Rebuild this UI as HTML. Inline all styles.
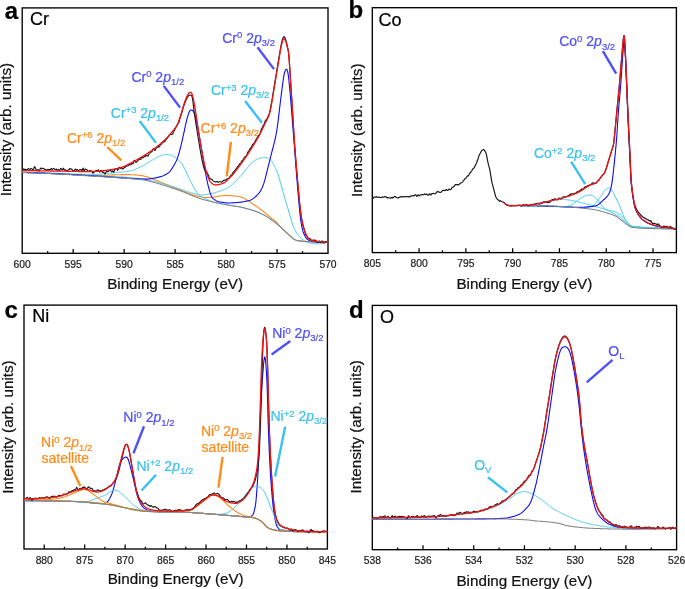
<!DOCTYPE html>
<html><head><meta charset="utf-8"><style>
html,body{margin:0;padding:0;background:#fff;}
svg{display:block;will-change:transform;font-family:"Liberation Sans", sans-serif;}
</style></head><body>
<svg width="685" height="589" viewBox="0 0 685 589" font-family='"Liberation Sans", sans-serif'>
<rect width="685" height="589" fill="#fff"/>
<rect x="22.2" y="7.9" width="305.80" height="245.40" fill="none" stroke="#000" stroke-width="1.35"/>
<text x="22.20" y="267.9" font-size="10.3" text-anchor="middle" fill="#222" stroke="#222" stroke-width="0.22">600</text>
<text x="73.17" y="267.9" font-size="10.3" text-anchor="middle" fill="#222" stroke="#222" stroke-width="0.22">595</text>
<text x="124.13" y="267.9" font-size="10.3" text-anchor="middle" fill="#222" stroke="#222" stroke-width="0.22">590</text>
<text x="175.10" y="267.9" font-size="10.3" text-anchor="middle" fill="#222" stroke="#222" stroke-width="0.22">585</text>
<text x="226.07" y="267.9" font-size="10.3" text-anchor="middle" fill="#222" stroke="#222" stroke-width="0.22">580</text>
<text x="277.03" y="267.9" font-size="10.3" text-anchor="middle" fill="#222" stroke="#222" stroke-width="0.22">575</text>
<text x="328.00" y="267.9" font-size="10.3" text-anchor="middle" fill="#222" stroke="#222" stroke-width="0.22">570</text>
<path d="M47.68 253.30v-2.3 M73.17 253.30v-4.4 M98.65 253.30v-2.3 M124.13 253.30v-4.4 M149.62 253.30v-2.3 M175.10 253.30v-4.4 M200.58 253.30v-2.3 M226.07 253.30v-4.4 M251.55 253.30v-2.3 M277.03 253.30v-4.4 M302.52 253.30v-2.3" stroke="#000" stroke-width="1.25" fill="none"/>
<text x="175.10" y="288.8" font-size="15.2" text-anchor="middle" fill="#111" stroke="#111" stroke-width="0.22">Binding Energy (eV)</text>
<rect x="372.3" y="7.7" width="304.10" height="244.90" fill="none" stroke="#000" stroke-width="1.35"/>
<text x="372.30" y="266.6" font-size="10.3" text-anchor="middle" fill="#222" stroke="#222" stroke-width="0.22">805</text>
<text x="419.08" y="266.6" font-size="10.3" text-anchor="middle" fill="#222" stroke="#222" stroke-width="0.22">800</text>
<text x="465.87" y="266.6" font-size="10.3" text-anchor="middle" fill="#222" stroke="#222" stroke-width="0.22">795</text>
<text x="512.65" y="266.6" font-size="10.3" text-anchor="middle" fill="#222" stroke="#222" stroke-width="0.22">790</text>
<text x="559.44" y="266.6" font-size="10.3" text-anchor="middle" fill="#222" stroke="#222" stroke-width="0.22">785</text>
<text x="606.22" y="266.6" font-size="10.3" text-anchor="middle" fill="#222" stroke="#222" stroke-width="0.22">780</text>
<text x="653.01" y="266.6" font-size="10.3" text-anchor="middle" fill="#222" stroke="#222" stroke-width="0.22">775</text>
<path d="M395.69 252.60v-2.3 M419.08 252.60v-4.4 M442.48 252.60v-2.3 M465.87 252.60v-4.4 M489.26 252.60v-2.3 M512.65 252.60v-4.4 M536.05 252.60v-2.3 M559.44 252.60v-4.4 M582.83 252.60v-2.3 M606.22 252.60v-4.4 M629.62 252.60v-2.3 M653.01 252.60v-4.4" stroke="#000" stroke-width="1.25" fill="none"/>
<text x="524.35" y="288.6" font-size="15.2" text-anchor="middle" fill="#111" stroke="#111" stroke-width="0.22">Binding Energy (eV)</text>
<rect x="24.0" y="305.1" width="303.40" height="243.90" fill="none" stroke="#000" stroke-width="1.35"/>
<text x="44.23" y="563.5" font-size="10.3" text-anchor="middle" fill="#222" stroke="#222" stroke-width="0.22">880</text>
<text x="84.68" y="563.5" font-size="10.3" text-anchor="middle" fill="#222" stroke="#222" stroke-width="0.22">875</text>
<text x="125.13" y="563.5" font-size="10.3" text-anchor="middle" fill="#222" stroke="#222" stroke-width="0.22">870</text>
<text x="165.59" y="563.5" font-size="10.3" text-anchor="middle" fill="#222" stroke="#222" stroke-width="0.22">865</text>
<text x="206.04" y="563.5" font-size="10.3" text-anchor="middle" fill="#222" stroke="#222" stroke-width="0.22">860</text>
<text x="246.49" y="563.5" font-size="10.3" text-anchor="middle" fill="#222" stroke="#222" stroke-width="0.22">855</text>
<text x="286.95" y="563.5" font-size="10.3" text-anchor="middle" fill="#222" stroke="#222" stroke-width="0.22">850</text>
<text x="327.40" y="563.5" font-size="10.3" text-anchor="middle" fill="#222" stroke="#222" stroke-width="0.22">845</text>
<path d="M44.23 549.00v-4.4 M64.45 549.00v-2.3 M84.68 549.00v-4.4 M104.91 549.00v-2.3 M125.13 549.00v-4.4 M145.36 549.00v-2.3 M165.59 549.00v-4.4 M185.81 549.00v-2.3 M206.04 549.00v-4.4 M226.27 549.00v-2.3 M246.49 549.00v-4.4 M266.72 549.00v-2.3 M286.95 549.00v-4.4 M307.17 549.00v-2.3" stroke="#000" stroke-width="1.25" fill="none"/>
<text x="175.70" y="584.2" font-size="15.2" text-anchor="middle" fill="#111" stroke="#111" stroke-width="0.22">Binding Energy (eV)</text>
<rect x="372.3" y="305.4" width="304.30" height="244.30" fill="none" stroke="#000" stroke-width="1.35"/>
<text x="372.30" y="564.4" font-size="10.3" text-anchor="middle" fill="#222" stroke="#222" stroke-width="0.22">538</text>
<text x="423.02" y="564.4" font-size="10.3" text-anchor="middle" fill="#222" stroke="#222" stroke-width="0.22">536</text>
<text x="473.73" y="564.4" font-size="10.3" text-anchor="middle" fill="#222" stroke="#222" stroke-width="0.22">534</text>
<text x="524.45" y="564.4" font-size="10.3" text-anchor="middle" fill="#222" stroke="#222" stroke-width="0.22">532</text>
<text x="575.17" y="564.4" font-size="10.3" text-anchor="middle" fill="#222" stroke="#222" stroke-width="0.22">530</text>
<text x="625.88" y="564.4" font-size="10.3" text-anchor="middle" fill="#222" stroke="#222" stroke-width="0.22">528</text>
<text x="676.60" y="564.4" font-size="10.3" text-anchor="middle" fill="#222" stroke="#222" stroke-width="0.22">526</text>
<path d="M397.66 549.70v-2.3 M423.02 549.70v-4.4 M448.38 549.70v-2.3 M473.73 549.70v-4.4 M499.09 549.70v-2.3 M524.45 549.70v-4.4 M549.81 549.70v-2.3 M575.17 549.70v-4.4 M600.53 549.70v-2.3 M625.88 549.70v-4.4 M651.24 549.70v-2.3" stroke="#000" stroke-width="1.25" fill="none"/>
<text x="524.45" y="585.7" font-size="15.2" text-anchor="middle" fill="#111" stroke="#111" stroke-width="0.22">Binding Energy (eV)</text>
<text transform="translate(10.9,129.6) rotate(-90)" x="0" y="0" font-size="15.2" text-anchor="middle" fill="#111" stroke="#111" stroke-width="0.22">Intensity (arb. units)</text>
<text transform="translate(361.6,130.2) rotate(-90)" x="0" y="0" font-size="15.2" text-anchor="middle" fill="#111" stroke="#111" stroke-width="0.22">Intensity (arb. units)</text>
<text transform="translate(12.8,427.0) rotate(-90)" x="0" y="0" font-size="15.2" text-anchor="middle" fill="#111" stroke="#111" stroke-width="0.22">Intensity (arb. units)</text>
<text transform="translate(360.9,426.9) rotate(-90)" x="0" y="0" font-size="15.2" text-anchor="middle" fill="#111" stroke="#111" stroke-width="0.22">Intensity (arb. units)</text>
<text x="4.8" y="18.5" font-size="24" font-weight="bold" fill="#000" stroke="#000" stroke-width="0.22">a</text>
<text x="348.6" y="18.3" font-size="24" font-weight="bold" fill="#000" stroke="#000" stroke-width="0.22">b</text>
<text x="4.6" y="317.8" font-size="24" font-weight="bold" fill="#000" stroke="#000" stroke-width="0.22">c</text>
<text x="349.0" y="318.2" font-size="24" font-weight="bold" fill="#000" stroke="#000" stroke-width="0.22">d</text>
<text x="30.0" y="24.8" font-size="18" fill="#000" stroke="#000" stroke-width="0.22">Cr</text>
<text x="378.4" y="26.4" font-size="18" fill="#000" stroke="#000" stroke-width="0.22">Co</text>
<text x="32.3" y="321.6" font-size="18" fill="#000" stroke="#000" stroke-width="0.22">Ni</text>
<text x="379.9" y="322.6" font-size="18" fill="#000" stroke="#000" stroke-width="0.22">O</text>
<text x="222.2" y="42.6" font-size="14" fill="#5050f8" stroke="#5050f8" stroke-width="0.22">Cr<tspan font-size="9.5" dy="-4.5">0</tspan><tspan dy="4.5"> 2</tspan><tspan font-style="italic">p</tspan><tspan font-size="9.5" dy="3.4">3/2</tspan></text>
<text x="131.4" y="81.8" font-size="14" fill="#5050f8" stroke="#5050f8" stroke-width="0.22">Cr<tspan font-size="9.5" dy="-4.5">0</tspan><tspan dy="4.5"> 2</tspan><tspan font-style="italic">p</tspan><tspan font-size="9.5" dy="3.4">1/2</tspan></text>
<text x="211.0" y="95.0" font-size="14" fill="#3cc0ee" stroke="#3cc0ee" stroke-width="0.22">Cr<tspan font-size="9.5" dy="-4.5">+3</tspan><tspan dy="4.5"> 2</tspan><tspan font-style="italic">p</tspan><tspan font-size="9.5" dy="3.4">3/2</tspan></text>
<text x="110.8" y="117.9" font-size="14" fill="#3cc0ee" stroke="#3cc0ee" stroke-width="0.22">Cr<tspan font-size="9.5" dy="-4.5">+3</tspan><tspan dy="4.5"> 2</tspan><tspan font-style="italic">p</tspan><tspan font-size="9.5" dy="3.4">1/2</tspan></text>
<text x="200.6" y="133.0" font-size="14" fill="#ff8c1a" stroke="#ff8c1a" stroke-width="0.22">Cr<tspan font-size="9.5" dy="-4.5">+6</tspan><tspan dy="4.5"> 2</tspan><tspan font-style="italic">p</tspan><tspan font-size="9.5" dy="3.4">3/2</tspan></text>
<text x="66.9" y="142.9" font-size="14" fill="#ff8c1a" stroke="#ff8c1a" stroke-width="0.22">Cr<tspan font-size="9.5" dy="-4.5">+6</tspan><tspan dy="4.5"> 2</tspan><tspan font-style="italic">p</tspan><tspan font-size="9.5" dy="3.4">1/2</tspan></text>
<text x="559.2" y="46.4" font-size="14" fill="#5050f8" stroke="#5050f8" stroke-width="0.22">Co<tspan font-size="9.5" dy="-4.5">0</tspan><tspan dy="4.5"> 2</tspan><tspan font-style="italic">p</tspan><tspan font-size="9.5" dy="3.4">3/2</tspan></text>
<text x="533.9" y="158.0" font-size="14" fill="#3cc0ee" stroke="#3cc0ee" stroke-width="0.22">Co<tspan font-size="9.5" dy="-4.5">+2</tspan><tspan dy="4.5"> 2</tspan><tspan font-style="italic">p</tspan><tspan font-size="9.5" dy="3.4">3/2</tspan></text>
<text x="272.2" y="338.0" font-size="14" fill="#5050f8" stroke="#5050f8" stroke-width="0.22">Ni<tspan font-size="9.5" dy="-4.5">0</tspan><tspan dy="4.5"> 2</tspan><tspan font-style="italic">p</tspan><tspan font-size="9.5" dy="3.4">3/2</tspan></text>
<text x="270.5" y="421.0" font-size="14" fill="#3cc0ee" stroke="#3cc0ee" stroke-width="0.22">Ni<tspan font-size="9.5" dy="-4.5">+2</tspan><tspan dy="4.5"> 2</tspan><tspan font-style="italic">p</tspan><tspan font-size="9.5" dy="3.4">3/2</tspan></text>
<text x="123.3" y="422.2" font-size="14" fill="#5050f8" stroke="#5050f8" stroke-width="0.22">Ni<tspan font-size="9.5" dy="-4.5">0</tspan><tspan dy="4.5"> 2</tspan><tspan font-style="italic">p</tspan><tspan font-size="9.5" dy="3.4">1/2</tspan></text>
<text x="136.4" y="470.5" font-size="14" fill="#3cc0ee" stroke="#3cc0ee" stroke-width="0.22">Ni<tspan font-size="9.5" dy="-4.5">+2</tspan><tspan dy="4.5"> 2</tspan><tspan font-style="italic">p</tspan><tspan font-size="9.5" dy="3.4">1/2</tspan></text>
<text x="41.1" y="447.1" font-size="14" fill="#ff8c1a" stroke="#ff8c1a" stroke-width="0.22">Ni<tspan font-size="9.5" dy="-4.5">0</tspan><tspan dy="4.5"> 2</tspan><tspan font-style="italic">p</tspan><tspan font-size="9.5" dy="3.4">1/2</tspan></text>
<text x="200.9" y="435.7" font-size="14" fill="#ff8c1a" stroke="#ff8c1a" stroke-width="0.22">Ni<tspan font-size="9.5" dy="-4.5">0</tspan><tspan dy="4.5"> 2</tspan><tspan font-style="italic">p</tspan><tspan font-size="9.5" dy="3.4">3/2</tspan></text>
<text x="41.5" y="463.4" font-size="14" fill="#ff8c1a" stroke="#ff8c1a" stroke-width="0.22">satellite</text>
<text x="201.6" y="452.2" font-size="14" fill="#ff8c1a" stroke="#ff8c1a" stroke-width="0.22">satellite</text>
<text x="608.3" y="355.9" font-size="14" fill="#5050f8" stroke="#5050f8" stroke-width="0.22">O<tspan font-size="9.5" dy="3">L</tspan></text>
<text x="474.2" y="470.2" font-size="14" fill="#3cc0ee" stroke="#3cc0ee" stroke-width="0.22">O<tspan font-size="9.5" dy="3">V</tspan></text>
<line x1="257.5" y1="47.3" x2="274" y2="69.1" stroke="#5050f8" stroke-width="2.4"/>
<line x1="163.8" y1="85.9" x2="180.1" y2="107.6" stroke="#5050f8" stroke-width="2.4"/>
<line x1="245.1" y1="100.9" x2="261.9" y2="122.7" stroke="#3cc0ee" stroke-width="2.4"/>
<line x1="139.7" y1="121" x2="156" y2="142.9" stroke="#3cc0ee" stroke-width="2.4"/>
<line x1="230.9" y1="141.9" x2="226.7" y2="176.3" stroke="#ff8c1a" stroke-width="2.4"/>
<line x1="107.3" y1="147" x2="121.3" y2="160.4" stroke="#ff8c1a" stroke-width="2.4"/>
<line x1="602.9" y1="51.1" x2="616.2" y2="73.7" stroke="#5050f8" stroke-width="2.4"/>
<line x1="571.2" y1="161.7" x2="585.2" y2="184.1" stroke="#3cc0ee" stroke-width="2.4"/>
<line x1="290.3" y1="341.1" x2="271.6" y2="354.4" stroke="#5050f8" stroke-width="2.4"/>
<line x1="285.2" y1="426.5" x2="275.1" y2="476.5" stroke="#3cc0ee" stroke-width="2.4"/>
<line x1="144" y1="426.2" x2="133.5" y2="453.3" stroke="#5050f8" stroke-width="2.4"/>
<line x1="156" y1="474.9" x2="141.5" y2="490.5" stroke="#3cc0ee" stroke-width="2.4"/>
<line x1="70.9" y1="466" x2="80.3" y2="486.1" stroke="#ff8c1a" stroke-width="2.4"/>
<line x1="222.6" y1="456.9" x2="218.4" y2="487.7" stroke="#ff8c1a" stroke-width="2.4"/>
<line x1="612.5" y1="359.9" x2="586.7" y2="382.3" stroke="#5050f8" stroke-width="2.4"/>
<line x1="487.9" y1="477.2" x2="507.3" y2="492.4" stroke="#3cc0ee" stroke-width="2.4"/>
<path d="M22.2 172.40 L22.7 172.42 L23.2 172.44 L23.7 172.47 L24.2 172.49 L24.7 172.51 L25.2 172.53 L25.7 172.55 L26.2 172.57 L26.7 172.59 L27.2 172.62 L27.7 172.64 L28.2 172.66 L28.7 172.68 L29.2 172.70 L29.7 172.72 L30.2 172.74 L30.7 172.77 L31.2 172.79 L31.7 172.81 L32.2 172.83 L32.7 172.85 L33.2 172.87 L33.7 172.89 L34.2 172.91 L34.7 172.94 L35.2 172.96 L35.7 172.98 L36.2 173.00 L36.7 173.02 L37.2 173.04 L37.7 173.06 L38.2 173.08 L38.7 173.10 L39.2 173.13 L39.7 173.15 L40.2 173.17 L40.7 173.19 L41.2 173.21 L41.7 173.23 L42.2 173.25 L42.7 173.27 L43.2 173.29 L43.7 173.31 L44.2 173.34 L44.7 173.36 L45.2 173.38 L45.7 173.40 L46.2 173.42 L46.7 173.44 L47.2 173.46 L47.7 173.48 L48.2 173.50 L48.7 173.52 L49.2 173.55 L49.7 173.57 L50.2 173.59 L50.7 173.61 L51.2 173.63 L51.7 173.65 L52.2 173.67 L52.7 173.69 L53.2 173.71 L53.7 173.73 L54.2 173.76 L54.7 173.78 L55.2 173.80 L55.7 173.82 L56.2 173.84 L56.7 173.86 L57.2 173.88 L57.7 173.90 L58.2 173.92 L58.7 173.95 L59.2 173.97 L59.7 173.99 L60.2 174.01 L60.7 174.03 L61.2 174.05 L61.7 174.07 L62.2 174.09 L62.7 174.11 L63.2 174.14 L63.7 174.16 L64.2 174.18 L64.7 174.20 L65.2 174.22 L65.7 174.24 L66.2 174.26 L66.7 174.28 L67.2 174.31 L67.7 174.33 L68.2 174.35 L68.7 174.37 L69.2 174.39 L69.7 174.41 L70.2 174.43 L70.7 174.46 L71.2 174.48 L71.7 174.50 L72.2 174.52 L72.7 174.54 L73.2 174.56 L73.7 174.58 L74.2 174.60 L74.7 174.62 L75.2 174.65 L75.7 174.67 L76.2 174.69 L76.7 174.71 L77.2 174.73 L77.7 174.75 L78.2 174.77 L78.7 174.79 L79.2 174.81 L79.7 174.83 L80.2 174.85 L80.7 174.87 L81.2 174.89 L81.7 174.91 L82.2 174.93 L82.7 174.95 L83.2 174.97 L83.7 175.00 L84.2 175.02 L84.7 175.04 L85.2 175.05 L85.7 175.07 L86.2 175.09 L86.7 175.11 L87.2 175.13 L87.7 175.15 L88.2 175.17 L88.7 175.19 L89.2 175.21 L89.7 175.23 L90.2 175.25 L90.7 175.27 L91.2 175.29 L91.7 175.31 L92.2 175.32 L92.7 175.34 L93.2 175.36 L93.7 175.38 L94.2 175.40 L94.7 175.42 L95.2 175.43 L95.7 175.45 L96.2 175.47 L96.7 175.49 L97.2 175.50 L97.7 175.52 L98.2 175.54 L98.7 175.56 L99.2 175.57 L99.7 175.59 L100.2 175.61 L100.7 175.61 L101.2 175.61 L101.7 175.60 L102.2 175.59 L102.7 175.56 L103.2 175.53 L103.7 175.50 L104.2 175.46 L104.7 175.42 L105.2 175.38 L105.7 175.33 L106.2 175.28 L106.7 175.24 L107.2 175.19 L107.7 175.15 L108.2 175.11 L108.7 175.07 L109.2 175.04 L109.7 175.01 L110.2 174.99 L110.7 174.97 L111.2 174.95 L111.7 174.93 L112.2 174.91 L112.7 174.90 L113.2 174.88 L113.7 174.86 L114.2 174.85 L114.7 174.83 L115.2 174.81 L115.7 174.80 L116.2 174.79 L116.7 174.77 L117.2 174.76 L117.7 174.74 L118.2 174.73 L118.7 174.72 L119.2 174.71 L119.7 174.70 L120.2 174.68 L120.7 174.67 L121.2 174.66 L121.7 174.65 L122.2 174.64 L122.7 174.63 L123.2 174.62 L123.7 174.62 L124.2 174.61 L124.7 174.60 L125.2 174.59 L125.7 174.59 L126.2 174.58 L126.7 174.58 L127.2 174.59 L127.7 174.59 L128.2 174.60 L128.7 174.60 L129.2 174.62 L129.7 174.63 L130.2 174.64 L130.7 174.66 L131.2 174.68 L131.7 174.70 L132.2 174.73 L132.7 174.75 L133.2 174.78 L133.7 174.81 L134.2 174.85 L134.7 174.88 L135.2 174.92 L135.7 174.96 L136.2 175.00 L136.7 175.04 L137.2 175.09 L137.7 175.14 L138.2 175.19 L138.7 175.24 L139.2 175.30 L139.7 175.36 L140.2 175.42 L140.7 175.49 L141.2 175.57 L141.7 175.65 L142.2 175.73 L142.7 175.82 L143.2 175.92 L143.7 176.02 L144.2 176.13 L144.7 176.25 L145.2 176.37 L145.7 176.49 L146.2 176.63 L146.7 176.77 L147.2 176.91 L147.7 177.06 L148.2 177.22 L148.7 177.39 L149.2 177.56 L149.7 177.74 L150.2 177.93 L150.7 178.12 L151.2 178.32 L151.7 178.52 L152.2 178.72 L152.7 178.92 L153.2 179.12 L153.7 179.32 L154.2 179.52 L154.7 179.72 L155.2 179.92 L155.7 180.12 L156.2 180.33 L156.7 180.53 L157.2 180.73 L157.7 180.93 L158.2 181.13 L158.7 181.33 L159.2 181.53 L159.7 181.73 L160.2 181.94 L160.7 182.14 L161.2 182.34 L161.7 182.54 L162.2 182.74 L162.7 182.95 L163.2 183.15 L163.7 183.35 L164.2 183.55 L164.7 183.75 L165.2 183.96 L165.7 184.16 L166.2 184.36 L166.7 184.56 L167.2 184.77 L167.7 184.97 L168.2 185.17 L168.7 185.37 L169.2 185.57 L169.7 185.78 L170.2 185.98 L170.7 186.18 L171.2 186.38 L171.7 186.58 L172.2 186.79 L172.7 186.99 L173.2 187.19 L173.7 187.39 L174.2 187.59 L174.7 187.80 L175.2 188.00 L175.7 188.20 L176.2 188.40 L176.7 188.60 L177.2 188.80 L177.7 189.01 L178.2 189.21 L178.7 189.41 L179.2 189.61 L179.7 189.81 L180.2 190.01 L180.7 190.21 L181.2 190.41 L181.7 190.60 L182.2 190.80 L182.7 191.00 L183.2 191.20 L183.7 191.40 L184.2 191.60 L184.7 191.79 L185.2 191.99 L185.7 192.19 L186.2 192.39 L186.7 192.58 L187.2 192.78 L187.7 192.98 L188.2 193.17 L188.7 193.37 L189.2 193.57 L189.7 193.76 L190.2 193.96 L190.7 194.15 L191.2 194.34 L191.7 194.52 L192.2 194.70 L192.7 194.86 L193.2 195.02 L193.7 195.18 L194.2 195.33 L194.7 195.47 L195.2 195.61 L195.7 195.74 L196.2 195.86 L196.7 195.99 L197.2 196.10 L197.7 196.21 L198.2 196.32 L198.7 196.42 L199.2 196.52 L199.7 196.61 L200.2 196.70 L200.7 196.79 L201.2 196.87 L201.7 196.95 L202.2 197.03 L202.7 197.10 L203.2 197.17 L203.7 197.24 L204.2 197.30 L204.7 197.35 L205.2 197.40 L205.7 197.44 L206.2 197.47 L206.7 197.49 L207.2 197.51 L207.7 197.52 L208.2 197.52 L208.7 197.51 L209.2 197.50 L209.7 197.48 L210.2 197.46 L210.7 197.42 L211.2 197.38 L211.7 197.33 L212.2 197.28 L212.7 197.21 L213.2 197.14 L213.7 197.06 L214.2 196.98 L214.7 196.89 L215.2 196.80 L215.7 196.71 L216.2 196.61 L216.7 196.52 L217.2 196.43 L217.7 196.34 L218.2 196.25 L218.7 196.17 L219.2 196.10 L219.7 196.04 L220.2 195.98 L220.7 195.92 L221.2 195.87 L221.7 195.82 L222.2 195.77 L222.7 195.72 L223.2 195.67 L223.7 195.63 L224.2 195.60 L224.7 195.57 L225.2 195.54 L225.7 195.52 L226.2 195.51 L226.7 195.50 L227.2 195.50 L227.7 195.51 L228.2 195.53 L228.7 195.55 L229.2 195.58 L229.7 195.61 L230.2 195.65 L230.7 195.69 L231.2 195.73 L231.7 195.78 L232.2 195.83 L232.7 195.88 L233.2 195.92 L233.7 195.97 L234.2 196.02 L234.7 196.06 L235.2 196.10 L235.7 196.14 L236.2 196.19 L236.7 196.23 L237.2 196.28 L237.7 196.34 L238.2 196.41 L238.7 196.48 L239.2 196.57 L239.7 196.67 L240.2 196.78 L240.7 196.92 L241.2 197.07 L241.7 197.24 L242.2 197.43 L242.7 197.63 L243.2 197.86 L243.7 198.10 L244.2 198.35 L244.7 198.62 L245.2 198.90 L245.7 199.19 L246.2 199.49 L246.7 199.80 L247.2 200.12 L247.7 200.45 L248.2 200.78 L248.7 201.12 L249.2 201.46 L249.7 201.81 L250.2 202.15 L250.7 202.50 L251.2 202.84 L251.7 203.19 L252.2 203.53 L252.7 203.87 L253.2 204.21 L253.7 204.55 L254.2 204.88 L254.7 205.22 L255.2 205.55 L255.7 205.89 L256.2 206.23 L256.7 206.57 L257.2 206.91 L257.7 207.25 L258.2 207.60 L258.7 207.94 L259.2 208.30 L259.7 208.65 L260.2 209.01 L260.7 209.38 L261.2 209.75 L261.7 210.13 L262.2 210.51 L262.7 210.90 L263.2 211.30 L263.7 211.70 L264.2 212.11 L264.7 212.53 L265.2 212.94 L265.7 213.37 L266.2 213.79 L266.7 214.21 L267.2 214.64 L267.7 215.06 L268.2 215.49 L268.7 215.91 L269.2 216.33 L269.7 216.75 L270.2 217.16 L270.7 217.57 L271.2 217.97 L271.7 218.36 L272.2 218.75 L272.7 219.13 L273.2 219.52 L273.7 219.90 L274.2 220.29 L274.7 220.68 L275.2 221.09 L275.7 221.49 L276.2 221.91 L276.7 222.38 L277.2 222.92 L277.7 223.53 L278.2 224.18 L278.7 224.83 L279.2 225.47 L279.7 226.07 L280.2 226.60 L280.7 227.08 L281.2 227.57 L281.7 228.05 L282.2 228.53 L282.7 229.00 L283.2 229.48 L283.7 229.95 L284.2 230.43 L284.7 230.90 L285.2 231.37 L285.7 231.84 L286.2 232.30 L286.7 232.77 L287.2 233.24 L287.7 233.71 L288.2 234.17 L288.7 234.64 L289.2 235.11 L289.7 235.57 L290.2 236.03 L290.7 236.48 L291.2 236.93 L291.7 237.37 L292.2 237.81 L292.7 238.23 L293.2 238.64 L293.7 239.01 L294.2 239.33 L294.7 239.62 L295.2 239.87 L295.7 240.08 L296.2 240.27 L296.7 240.43 L297.2 240.56 L297.7 240.67 L298.2 240.77 L298.7 240.85 L299.2 240.91 L299.7 240.97 L300.2 241.02 L300.7 241.07 L301.2 241.12 L301.7 241.17 L302.2 241.21 L302.7 241.26 L303.2 241.30 L303.7 241.35 L304.2 241.39 L304.7 241.43 L305.2 241.47 L305.7 241.51 L306.2 241.55 L306.7 241.58 L307.2 241.61 L307.7 241.65 L308.2 241.67 L308.7 241.70 L309.2 241.73 L309.7 241.75 L310.2 241.77 L310.7 241.78 L311.2 241.80 L311.7 241.81 L312.2 241.82 L312.7 241.83 L313.2 241.84 L313.7 241.85 L314.2 241.86 L314.7 241.88 L315.2 241.89 L315.7 241.90 L316.2 241.91 L316.7 241.92 L317.2 241.93 L317.7 241.94 L318.2 241.95 L318.7 241.96 L319.2 241.97 L319.7 241.98 L320.2 241.99 L320.7 242.00 L321.2 242.00 L321.7 242.01 L322.2 242.01 L322.7 242.02 L323.2 242.02 L323.7 242.02 L324.2 242.03 L324.7 242.03 L325.2 242.03 L325.7 242.02 L326.2 242.02 L326.7 242.02 L327.2 242.01 L327.7 242.00 L328.0 242.00" fill="none" stroke="#ff8c1a" stroke-width="1.1" stroke-linejoin="round"/>
<path d="M22.2 172.00 L22.7 172.02 L23.2 172.04 L23.7 172.06 L24.2 172.08 L24.7 172.10 L25.2 172.12 L25.7 172.14 L26.2 172.16 L26.7 172.18 L27.2 172.19 L27.7 172.21 L28.2 172.23 L28.7 172.25 L29.2 172.27 L29.7 172.29 L30.2 172.31 L30.7 172.32 L31.2 172.34 L31.7 172.36 L32.2 172.38 L32.7 172.40 L33.2 172.41 L33.7 172.43 L34.2 172.45 L34.7 172.47 L35.2 172.48 L35.7 172.50 L36.2 172.52 L36.7 172.54 L37.2 172.55 L37.7 172.57 L38.2 172.59 L38.7 172.60 L39.2 172.62 L39.7 172.64 L40.2 172.65 L40.7 172.67 L41.2 172.69 L41.7 172.70 L42.2 172.72 L42.7 172.74 L43.2 172.75 L43.7 172.77 L44.2 172.79 L44.7 172.80 L45.2 172.82 L45.7 172.83 L46.2 172.85 L46.7 172.87 L47.2 172.88 L47.7 172.90 L48.2 172.92 L48.7 172.93 L49.2 172.95 L49.7 172.96 L50.2 172.98 L50.7 173.00 L51.2 173.01 L51.7 173.03 L52.2 173.04 L52.7 173.06 L53.2 173.08 L53.7 173.09 L54.2 173.11 L54.7 173.13 L55.2 173.14 L55.7 173.16 L56.2 173.17 L56.7 173.19 L57.2 173.21 L57.7 173.22 L58.2 173.24 L58.7 173.26 L59.2 173.27 L59.7 173.29 L60.2 173.31 L60.7 173.32 L61.2 173.34 L61.7 173.36 L62.2 173.38 L62.7 173.40 L63.2 173.42 L63.7 173.44 L64.2 173.46 L64.7 173.48 L65.2 173.50 L65.7 173.52 L66.2 173.54 L66.7 173.56 L67.2 173.59 L67.7 173.61 L68.2 173.63 L68.7 173.65 L69.2 173.67 L69.7 173.70 L70.2 173.72 L70.7 173.74 L71.2 173.77 L71.7 173.79 L72.2 173.81 L72.7 173.83 L73.2 173.86 L73.7 173.88 L74.2 173.90 L74.7 173.92 L75.2 173.94 L75.7 173.97 L76.2 173.99 L76.7 174.01 L77.2 174.03 L77.7 174.05 L78.2 174.07 L78.7 174.09 L79.2 174.11 L79.7 174.13 L80.2 174.14 L80.7 174.16 L81.2 174.18 L81.7 174.20 L82.2 174.21 L82.7 174.23 L83.2 174.24 L83.7 174.26 L84.2 174.27 L84.7 174.28 L85.2 174.30 L85.7 174.31 L86.2 174.32 L86.7 174.33 L87.2 174.34 L87.7 174.34 L88.2 174.35 L88.7 174.36 L89.2 174.36 L89.7 174.37 L90.2 174.37 L90.7 174.37 L91.2 174.37 L91.7 174.37 L92.2 174.37 L92.7 174.37 L93.2 174.37 L93.7 174.36 L94.2 174.36 L94.7 174.35 L95.2 174.34 L95.7 174.34 L96.2 174.33 L96.7 174.31 L97.2 174.30 L97.7 174.29 L98.2 174.27 L98.7 174.25 L99.2 174.23 L99.7 174.21 L100.2 174.19 L100.7 174.16 L101.2 174.13 L101.7 174.09 L102.2 174.05 L102.7 174.01 L103.2 173.96 L103.7 173.91 L104.2 173.85 L104.7 173.80 L105.2 173.74 L105.7 173.68 L106.2 173.62 L106.7 173.56 L107.2 173.50 L107.7 173.44 L108.2 173.39 L108.7 173.33 L109.2 173.28 L109.7 173.23 L110.2 173.18 L110.7 173.13 L111.2 173.09 L111.7 173.04 L112.2 173.00 L112.7 172.95 L113.2 172.91 L113.7 172.86 L114.2 172.82 L114.7 172.77 L115.2 172.73 L115.7 172.69 L116.2 172.64 L116.7 172.60 L117.2 172.55 L117.7 172.51 L118.2 172.46 L118.7 172.42 L119.2 172.37 L119.7 172.33 L120.2 172.28 L120.7 172.23 L121.2 172.18 L121.7 172.13 L122.2 172.08 L122.7 172.03 L123.2 171.97 L123.7 171.91 L124.2 171.85 L124.7 171.78 L125.2 171.71 L125.7 171.64 L126.2 171.57 L126.7 171.49 L127.2 171.40 L127.7 171.32 L128.2 171.23 L128.7 171.13 L129.2 171.03 L129.7 170.93 L130.2 170.82 L130.7 170.70 L131.2 170.58 L131.7 170.46 L132.2 170.32 L132.7 170.19 L133.2 170.04 L133.7 169.89 L134.2 169.74 L134.7 169.57 L135.2 169.39 L135.7 169.20 L136.2 169.00 L136.7 168.80 L137.2 168.58 L137.7 168.35 L138.2 168.12 L138.7 167.88 L139.2 167.64 L139.7 167.39 L140.2 167.13 L140.7 166.87 L141.2 166.60 L141.7 166.33 L142.2 166.06 L142.7 165.78 L143.2 165.51 L143.7 165.23 L144.2 164.95 L144.7 164.67 L145.2 164.39 L145.7 164.10 L146.2 163.82 L146.7 163.53 L147.2 163.23 L147.7 162.94 L148.2 162.64 L148.7 162.34 L149.2 162.04 L149.7 161.74 L150.2 161.43 L150.7 161.13 L151.2 160.83 L151.7 160.52 L152.2 160.22 L152.7 159.92 L153.2 159.62 L153.7 159.33 L154.2 159.03 L154.7 158.74 L155.2 158.45 L155.7 158.17 L156.2 157.89 L156.7 157.62 L157.2 157.35 L157.7 157.10 L158.2 156.85 L158.7 156.61 L159.2 156.38 L159.7 156.16 L160.2 155.94 L160.7 155.73 L161.2 155.52 L161.7 155.32 L162.2 155.14 L162.7 154.99 L163.2 154.86 L163.7 154.75 L164.2 154.67 L164.7 154.60 L165.2 154.55 L165.7 154.51 L166.2 154.49 L166.7 154.49 L167.2 154.49 L167.7 154.51 L168.2 154.55 L168.7 154.61 L169.2 154.70 L169.7 154.81 L170.2 154.94 L170.7 155.09 L171.2 155.25 L171.7 155.44 L172.2 155.64 L172.7 155.86 L173.2 156.10 L173.7 156.36 L174.2 156.64 L174.7 156.96 L175.2 157.29 L175.7 157.65 L176.2 158.02 L176.7 158.41 L177.2 158.82 L177.7 159.24 L178.2 159.67 L178.7 160.12 L179.2 160.59 L179.7 161.08 L180.2 161.61 L180.7 162.18 L181.2 162.80 L181.7 163.47 L182.2 164.19 L182.7 164.99 L183.2 165.85 L183.7 166.77 L184.2 167.74 L184.7 168.75 L185.2 169.78 L185.7 170.85 L186.2 171.93 L186.7 173.02 L187.2 174.11 L187.7 175.21 L188.2 176.29 L188.7 177.36 L189.2 178.40 L189.7 179.41 L190.2 180.39 L190.7 181.37 L191.2 182.36 L191.7 183.36 L192.2 184.35 L192.7 185.33 L193.2 186.30 L193.7 187.26 L194.2 188.19 L194.7 189.09 L195.2 189.96 L195.7 190.79 L196.2 191.58 L196.7 192.31 L197.2 193.00 L197.7 193.62 L198.2 194.19 L198.7 194.70 L199.2 195.17 L199.7 195.59 L200.2 195.98 L200.7 196.33 L201.2 196.65 L201.7 196.94 L202.2 197.21 L202.7 197.46 L203.2 197.70 L203.7 197.93 L204.2 198.15 L204.7 198.37 L205.2 198.59 L205.7 198.81 L206.2 199.04 L206.7 199.27 L207.2 199.50 L207.7 199.74 L208.2 199.97 L208.7 200.19 L209.2 200.42 L209.7 200.64 L210.2 200.86 L210.7 201.07 L211.2 201.28 L211.7 201.47 L212.2 201.66 L212.7 201.84 L213.2 202.01 L213.7 202.16 L214.2 202.30 L214.7 202.43 L215.2 202.54 L215.7 202.66 L216.2 202.76 L216.7 202.87 L217.2 202.98 L217.7 203.09 L218.2 203.19 L218.7 203.30 L219.2 203.40 L219.7 203.50 L220.2 203.60 L220.7 203.70 L221.2 203.80 L221.7 203.90 L222.2 204.00 L222.7 204.09 L223.2 204.19 L223.7 204.28 L224.2 204.38 L224.7 204.47 L225.2 204.56 L225.7 204.65 L226.2 204.74 L226.7 204.82 L227.2 204.91 L227.7 204.99 L228.2 205.07 L228.7 205.16 L229.2 205.24 L229.7 205.32 L230.2 205.40 L230.7 205.47 L231.2 205.55 L231.7 205.63 L232.2 205.71 L232.7 205.79 L233.2 205.87 L233.7 205.94 L234.2 206.02 L234.7 206.10 L235.2 206.18 L235.7 206.26 L236.2 206.34 L236.7 206.43 L237.2 206.51 L237.7 206.59 L238.2 206.68 L238.7 206.77 L239.2 206.85 L239.7 206.94 L240.2 207.04 L240.7 207.13 L241.2 207.23 L241.7 207.34 L242.2 207.45 L242.7 207.56 L243.2 207.67 L243.7 207.79 L244.2 207.92 L244.7 208.04 L245.2 208.17 L245.7 208.30 L246.2 208.43 L246.7 208.57 L247.2 208.71 L247.7 208.85 L248.2 208.99 L248.7 209.13 L249.2 209.28 L249.7 209.42 L250.2 209.57 L250.7 209.72 L251.2 209.87 L251.7 210.02 L252.2 210.17 L252.7 210.32 L253.2 210.48 L253.7 210.64 L254.2 210.81 L254.7 210.98 L255.2 211.15 L255.7 211.33 L256.2 211.52 L256.7 211.71 L257.2 211.90 L257.7 212.10 L258.2 212.30 L258.7 212.51 L259.2 212.72 L259.7 212.94 L260.2 213.16 L260.7 213.39 L261.2 213.62 L261.7 213.86 L262.2 214.10 L262.7 214.35 L263.2 214.60 L263.7 214.87 L264.2 215.14 L264.7 215.42 L265.2 215.71 L265.7 216.00 L266.2 216.30 L266.7 216.61 L267.2 216.93 L267.7 217.25 L268.2 217.58 L268.7 217.91 L269.2 218.25 L269.7 218.59 L270.2 218.94 L270.7 219.29 L271.2 219.64 L271.7 220.00 L272.2 220.35 L272.7 220.71 L273.2 221.07 L273.7 221.44 L274.2 221.81 L274.7 222.18 L275.2 222.56 L275.7 222.94 L276.2 223.33 L276.7 223.73 L277.2 224.13 L277.7 224.54 L278.2 224.95 L278.7 225.38 L279.2 225.81 L279.7 226.25 L280.2 226.70 L280.7 227.16 L281.2 227.62 L281.7 228.08 L282.2 228.54 L282.7 229.01 L283.2 229.48 L283.7 229.95 L284.2 230.42 L284.7 230.89 L285.2 231.36 L285.7 231.84 L286.2 232.31 L286.7 232.77 L287.2 233.24 L287.7 233.71 L288.2 234.17 L288.7 234.63 L289.2 235.10 L289.7 235.56 L290.2 236.01 L290.7 236.47 L291.2 236.92 L291.7 237.36 L292.2 237.80 L292.7 238.23 L293.2 238.65 L293.7 239.02 L294.2 239.35 L294.7 239.63 L295.2 239.88 L295.7 240.10 L296.2 240.28 L296.7 240.44 L297.2 240.57 L297.7 240.68 L298.2 240.77 L298.7 240.85 L299.2 240.91 L299.7 240.97 L300.2 241.02 L300.7 241.07 L301.2 241.12 L301.7 241.17 L302.2 241.21 L302.7 241.26 L303.2 241.30 L303.7 241.35 L304.2 241.39 L304.7 241.43 L305.2 241.47 L305.7 241.51 L306.2 241.55 L306.7 241.58 L307.2 241.61 L307.7 241.65 L308.2 241.67 L308.7 241.70 L309.2 241.73 L309.7 241.75 L310.2 241.77 L310.7 241.78 L311.2 241.80 L311.7 241.81 L312.2 241.82 L312.7 241.83 L313.2 241.84 L313.7 241.85 L314.2 241.86 L314.7 241.88 L315.2 241.89 L315.7 241.90 L316.2 241.91 L316.7 241.92 L317.2 241.93 L317.7 241.94 L318.2 241.95 L318.7 241.96 L319.2 241.97 L319.7 241.98 L320.2 241.99 L320.7 242.00 L321.2 242.00 L321.7 242.01 L322.2 242.01 L322.7 242.02 L323.2 242.02 L323.7 242.02 L324.2 242.03 L324.7 242.03 L325.2 242.03 L325.7 242.02 L326.2 242.02 L326.7 242.02 L327.2 242.01 L327.7 242.00 L328.0 242.00" fill="none" stroke="#3cc8f5" stroke-width="1.0" stroke-linejoin="round"/>
<path d="M22.2 172.20 L22.7 172.22 L23.2 172.25 L23.7 172.27 L24.2 172.30 L24.7 172.32 L25.2 172.34 L25.7 172.37 L26.2 172.39 L26.7 172.42 L27.2 172.44 L27.7 172.47 L28.2 172.49 L28.7 172.51 L29.2 172.54 L29.7 172.56 L30.2 172.59 L30.7 172.61 L31.2 172.63 L31.7 172.66 L32.2 172.68 L32.7 172.70 L33.2 172.73 L33.7 172.75 L34.2 172.78 L34.7 172.80 L35.2 172.82 L35.7 172.85 L36.2 172.87 L36.7 172.90 L37.2 172.92 L37.7 172.94 L38.2 172.97 L38.7 172.99 L39.2 173.01 L39.7 173.04 L40.2 173.06 L40.7 173.09 L41.2 173.11 L41.7 173.13 L42.2 173.16 L42.7 173.18 L43.2 173.20 L43.7 173.23 L44.2 173.25 L44.7 173.27 L45.2 173.30 L45.7 173.32 L46.2 173.35 L46.7 173.37 L47.2 173.39 L47.7 173.42 L48.2 173.44 L48.7 173.46 L49.2 173.49 L49.7 173.51 L50.2 173.54 L50.7 173.56 L51.2 173.58 L51.7 173.61 L52.2 173.63 L52.7 173.65 L53.2 173.68 L53.7 173.70 L54.2 173.72 L54.7 173.75 L55.2 173.77 L55.7 173.80 L56.2 173.82 L56.7 173.84 L57.2 173.87 L57.7 173.89 L58.2 173.91 L58.7 173.94 L59.2 173.96 L59.7 173.99 L60.2 174.01 L60.7 174.03 L61.2 174.06 L61.7 174.08 L62.2 174.10 L62.7 174.13 L63.2 174.15 L63.7 174.17 L64.2 174.20 L64.7 174.22 L65.2 174.25 L65.7 174.27 L66.2 174.29 L66.7 174.32 L67.2 174.34 L67.7 174.36 L68.2 174.39 L68.7 174.41 L69.2 174.43 L69.7 174.46 L70.2 174.48 L70.7 174.50 L71.2 174.52 L71.7 174.55 L72.2 174.57 L72.7 174.59 L73.2 174.62 L73.7 174.64 L74.2 174.66 L74.7 174.69 L75.2 174.71 L75.7 174.73 L76.2 174.76 L76.7 174.78 L77.2 174.80 L77.7 174.82 L78.2 174.85 L78.7 174.87 L79.2 174.89 L79.7 174.92 L80.2 174.94 L80.7 174.96 L81.2 174.98 L81.7 175.01 L82.2 175.03 L82.7 175.05 L83.2 175.08 L83.7 175.10 L84.2 175.12 L84.7 175.14 L85.2 175.17 L85.7 175.19 L86.2 175.21 L86.7 175.24 L87.2 175.26 L87.7 175.28 L88.2 175.30 L88.7 175.33 L89.2 175.35 L89.7 175.37 L90.2 175.39 L90.7 175.42 L91.2 175.44 L91.7 175.46 L92.2 175.49 L92.7 175.51 L93.2 175.53 L93.7 175.55 L94.2 175.58 L94.7 175.60 L95.2 175.62 L95.7 175.64 L96.2 175.67 L96.7 175.69 L97.2 175.71 L97.7 175.74 L98.2 175.76 L98.7 175.78 L99.2 175.80 L99.7 175.83 L100.2 175.85 L100.7 175.87 L101.2 175.90 L101.7 175.92 L102.2 175.94 L102.7 175.96 L103.2 175.99 L103.7 176.01 L104.2 176.03 L104.7 176.06 L105.2 176.08 L105.7 176.10 L106.2 176.12 L106.7 176.15 L107.2 176.17 L107.7 176.19 L108.2 176.22 L108.7 176.24 L109.2 176.26 L109.7 176.29 L110.2 176.31 L110.7 176.33 L111.2 176.36 L111.7 176.38 L112.2 176.40 L112.7 176.43 L113.2 176.45 L113.7 176.48 L114.2 176.50 L114.7 176.53 L115.2 176.55 L115.7 176.58 L116.2 176.60 L116.7 176.63 L117.2 176.66 L117.7 176.68 L118.2 176.71 L118.7 176.74 L119.2 176.77 L119.7 176.80 L120.2 176.83 L120.7 176.86 L121.2 176.89 L121.7 176.92 L122.2 176.95 L122.7 176.98 L123.2 177.01 L123.7 177.05 L124.2 177.08 L124.7 177.11 L125.2 177.15 L125.7 177.18 L126.2 177.22 L126.7 177.25 L127.2 177.29 L127.7 177.33 L128.2 177.37 L128.7 177.41 L129.2 177.45 L129.7 177.49 L130.2 177.53 L130.7 177.57 L131.2 177.61 L131.7 177.65 L132.2 177.70 L132.7 177.74 L133.2 177.79 L133.7 177.84 L134.2 177.88 L134.7 177.93 L135.2 177.98 L135.7 178.03 L136.2 178.08 L136.7 178.13 L137.2 178.19 L137.7 178.24 L138.2 178.30 L138.7 178.35 L139.2 178.41 L139.7 178.46 L140.2 178.52 L140.7 178.59 L141.2 178.65 L141.7 178.72 L142.2 178.79 L142.7 178.87 L143.2 178.95 L143.7 179.03 L144.2 179.12 L144.7 179.21 L145.2 179.30 L145.7 179.40 L146.2 179.50 L146.7 179.60 L147.2 179.70 L147.7 179.81 L148.2 179.91 L148.7 180.03 L149.2 180.14 L149.7 180.25 L150.2 180.37 L150.7 180.49 L151.2 180.61 L151.7 180.74 L152.2 180.86 L152.7 180.99 L153.2 181.12 L153.7 181.25 L154.2 181.38 L154.7 181.51 L155.2 181.64 L155.7 181.78 L156.2 181.91 L156.7 182.05 L157.2 182.19 L157.7 182.33 L158.2 182.46 L158.7 182.60 L159.2 182.74 L159.7 182.88 L160.2 183.03 L160.7 183.17 L161.2 183.31 L161.7 183.45 L162.2 183.59 L162.7 183.73 L163.2 183.87 L163.7 184.01 L164.2 184.15 L164.7 184.29 L165.2 184.43 L165.7 184.57 L166.2 184.71 L166.7 184.84 L167.2 184.98 L167.7 185.11 L168.2 185.25 L168.7 185.38 L169.2 185.52 L169.7 185.65 L170.2 185.80 L170.7 185.94 L171.2 186.09 L171.7 186.24 L172.2 186.39 L172.7 186.54 L173.2 186.70 L173.7 186.85 L174.2 187.01 L174.7 187.17 L175.2 187.34 L175.7 187.50 L176.2 187.67 L176.7 187.83 L177.2 188.00 L177.7 188.17 L178.2 188.34 L178.7 188.51 L179.2 188.68 L179.7 188.86 L180.2 189.03 L180.7 189.20 L181.2 189.38 L181.7 189.55 L182.2 189.72 L182.7 189.90 L183.2 190.07 L183.7 190.24 L184.2 190.42 L184.7 190.59 L185.2 190.76 L185.7 190.93 L186.2 191.10 L186.7 191.27 L187.2 191.44 L187.7 191.61 L188.2 191.77 L188.7 191.94 L189.2 192.10 L189.7 192.26 L190.2 192.42 L190.7 192.58 L191.2 192.73 L191.7 192.89 L192.2 193.04 L192.7 193.19 L193.2 193.33 L193.7 193.48 L194.2 193.62 L194.7 193.76 L195.2 193.89 L195.7 194.02 L196.2 194.15 L196.7 194.28 L197.2 194.40 L197.7 194.52 L198.2 194.63 L198.7 194.72 L199.2 194.79 L199.7 194.84 L200.2 194.88 L200.7 194.91 L201.2 194.92 L201.7 194.92 L202.2 194.91 L202.7 194.88 L203.2 194.85 L203.7 194.81 L204.2 194.76 L204.7 194.71 L205.2 194.65 L205.7 194.58 L206.2 194.52 L206.7 194.44 L207.2 194.37 L207.7 194.29 L208.2 194.21 L208.7 194.12 L209.2 194.03 L209.7 193.94 L210.2 193.84 L210.7 193.73 L211.2 193.62 L211.7 193.51 L212.2 193.39 L212.7 193.28 L213.2 193.15 L213.7 193.03 L214.2 192.89 L214.7 192.76 L215.2 192.62 L215.7 192.48 L216.2 192.34 L216.7 192.20 L217.2 192.05 L217.7 191.90 L218.2 191.74 L218.7 191.58 L219.2 191.42 L219.7 191.26 L220.2 191.10 L220.7 190.93 L221.2 190.76 L221.7 190.59 L222.2 190.41 L222.7 190.23 L223.2 190.04 L223.7 189.84 L224.2 189.64 L224.7 189.43 L225.2 189.20 L225.7 188.97 L226.2 188.73 L226.7 188.47 L227.2 188.20 L227.7 187.92 L228.2 187.63 L228.7 187.31 L229.2 186.99 L229.7 186.64 L230.2 186.28 L230.7 185.90 L231.2 185.50 L231.7 185.09 L232.2 184.66 L232.7 184.21 L233.2 183.76 L233.7 183.29 L234.2 182.81 L234.7 182.32 L235.2 181.81 L235.7 181.30 L236.2 180.79 L236.7 180.26 L237.2 179.73 L237.7 179.19 L238.2 178.65 L238.7 178.11 L239.2 177.56 L239.7 177.02 L240.2 176.47 L240.7 175.92 L241.2 175.37 L241.7 174.80 L242.2 174.22 L242.7 173.62 L243.2 173.02 L243.7 172.40 L244.2 171.78 L244.7 171.15 L245.2 170.51 L245.7 169.88 L246.2 169.25 L246.7 168.62 L247.2 167.99 L247.7 167.37 L248.2 166.76 L248.7 166.16 L249.2 165.57 L249.7 165.00 L250.2 164.45 L250.7 163.91 L251.2 163.40 L251.7 162.92 L252.2 162.47 L252.7 162.06 L253.2 161.68 L253.7 161.33 L254.2 161.00 L254.7 160.69 L255.2 160.40 L255.7 160.13 L256.2 159.87 L256.7 159.62 L257.2 159.38 L257.7 159.14 L258.2 158.91 L258.7 158.69 L259.2 158.50 L259.7 158.32 L260.2 158.16 L260.7 158.01 L261.2 157.88 L261.7 157.77 L262.2 157.67 L262.7 157.59 L263.2 157.51 L263.7 157.45 L264.2 157.40 L264.7 157.38 L265.2 157.39 L265.7 157.46 L266.2 157.56 L266.7 157.70 L267.2 157.87 L267.7 158.09 L268.2 158.34 L268.7 158.62 L269.2 158.93 L269.7 159.28 L270.2 159.66 L270.7 160.12 L271.2 160.66 L271.7 161.28 L272.2 161.98 L272.7 162.75 L273.2 163.58 L273.7 164.47 L274.2 165.41 L274.7 166.40 L275.2 167.42 L275.7 168.49 L276.2 169.61 L276.7 170.79 L277.2 172.05 L277.7 173.40 L278.2 174.85 L278.7 176.41 L279.2 178.08 L279.7 179.83 L280.2 181.62 L280.7 183.44 L281.2 185.28 L281.7 187.13 L282.2 188.97 L282.7 190.81 L283.2 192.61 L283.7 194.38 L284.2 196.10 L284.7 197.79 L285.2 199.46 L285.7 201.13 L286.2 202.80 L286.7 204.46 L287.2 206.12 L287.7 207.78 L288.2 209.44 L288.7 211.11 L289.2 212.78 L289.7 214.46 L290.2 216.19 L290.7 217.98 L291.2 219.80 L291.7 221.58 L292.2 223.25 L292.7 224.77 L293.2 226.14 L293.7 227.37 L294.2 228.49 L294.7 229.51 L295.2 230.45 L295.7 231.33 L296.2 232.16 L296.7 232.95 L297.2 233.70 L297.7 234.41 L298.2 235.07 L298.7 235.69 L299.2 236.27 L299.7 236.81 L300.2 237.33 L300.7 237.82 L301.2 238.30 L301.7 238.75 L302.2 239.17 L302.7 239.57 L303.2 239.94 L303.7 240.28 L304.2 240.58 L304.7 240.85 L305.2 241.09 L305.7 241.32 L306.2 241.54 L306.7 241.75 L307.2 241.94 L307.7 242.13 L308.2 242.31 L308.7 242.48 L309.2 242.63 L309.7 242.78 L310.2 242.92 L310.7 243.05 L311.2 243.16 L311.7 243.27 L312.2 243.37 L312.7 243.46 L313.2 243.54 L313.7 243.61 L314.2 243.67 L314.7 243.72 L315.2 243.76 L315.7 243.80 L316.2 243.82 L316.7 243.84 L317.2 243.84 L317.7 243.84 L318.2 243.83 L318.7 243.81 L319.2 243.79 L319.7 243.75 L320.2 243.71 L320.7 243.65 L321.2 243.59 L321.7 243.52 L322.2 243.45 L322.7 243.36 L323.2 243.27 L323.7 243.17 L324.2 243.06 L324.7 242.95 L325.2 242.82 L325.7 242.69 L326.2 242.56 L326.7 242.41 L327.2 242.26 L327.7 242.10 L328.0 242.00" fill="none" stroke="#3cc8f5" stroke-width="1.0" stroke-linejoin="round"/>
<path d="M22.2 172.40 L22.7 172.41 L23.2 172.43 L23.7 172.44 L24.2 172.46 L24.7 172.47 L25.2 172.49 L25.7 172.51 L26.2 172.52 L26.7 172.54 L27.2 172.55 L27.7 172.57 L28.2 172.58 L28.7 172.60 L29.2 172.62 L29.7 172.63 L30.2 172.65 L30.7 172.67 L31.2 172.68 L31.7 172.70 L32.2 172.72 L32.7 172.73 L33.2 172.75 L33.7 172.77 L34.2 172.78 L34.7 172.80 L35.2 172.82 L35.7 172.84 L36.2 172.85 L36.7 172.87 L37.2 172.89 L37.7 172.91 L38.2 172.93 L38.7 172.95 L39.2 172.97 L39.7 172.98 L40.2 173.00 L40.7 173.02 L41.2 173.04 L41.7 173.06 L42.2 173.08 L42.7 173.10 L43.2 173.12 L43.7 173.14 L44.2 173.16 L44.7 173.18 L45.2 173.20 L45.7 173.22 L46.2 173.24 L46.7 173.27 L47.2 173.29 L47.7 173.31 L48.2 173.33 L48.7 173.35 L49.2 173.37 L49.7 173.40 L50.2 173.42 L50.7 173.44 L51.2 173.46 L51.7 173.49 L52.2 173.51 L52.7 173.53 L53.2 173.56 L53.7 173.58 L54.2 173.61 L54.7 173.63 L55.2 173.65 L55.7 173.68 L56.2 173.70 L56.7 173.73 L57.2 173.75 L57.7 173.78 L58.2 173.81 L58.7 173.83 L59.2 173.86 L59.7 173.88 L60.2 173.91 L60.7 173.94 L61.2 173.96 L61.7 173.99 L62.2 174.02 L62.7 174.05 L63.2 174.07 L63.7 174.10 L64.2 174.13 L64.7 174.16 L65.2 174.18 L65.7 174.21 L66.2 174.24 L66.7 174.27 L67.2 174.30 L67.7 174.32 L68.2 174.35 L68.7 174.38 L69.2 174.41 L69.7 174.44 L70.2 174.47 L70.7 174.49 L71.2 174.52 L71.7 174.55 L72.2 174.58 L72.7 174.61 L73.2 174.64 L73.7 174.67 L74.2 174.70 L74.7 174.73 L75.2 174.76 L75.7 174.79 L76.2 174.82 L76.7 174.85 L77.2 174.88 L77.7 174.91 L78.2 174.94 L78.7 174.97 L79.2 175.00 L79.7 175.03 L80.2 175.06 L80.7 175.09 L81.2 175.12 L81.7 175.15 L82.2 175.18 L82.7 175.21 L83.2 175.24 L83.7 175.27 L84.2 175.30 L84.7 175.33 L85.2 175.36 L85.7 175.39 L86.2 175.43 L86.7 175.46 L87.2 175.49 L87.7 175.52 L88.2 175.55 L88.7 175.58 L89.2 175.61 L89.7 175.64 L90.2 175.68 L90.7 175.71 L91.2 175.74 L91.7 175.77 L92.2 175.80 L92.7 175.83 L93.2 175.87 L93.7 175.90 L94.2 175.93 L94.7 175.96 L95.2 175.99 L95.7 176.02 L96.2 176.06 L96.7 176.09 L97.2 176.12 L97.7 176.15 L98.2 176.18 L98.7 176.22 L99.2 176.25 L99.7 176.28 L100.2 176.31 L100.7 176.35 L101.2 176.38 L101.7 176.41 L102.2 176.44 L102.7 176.48 L103.2 176.51 L103.7 176.54 L104.2 176.58 L104.7 176.61 L105.2 176.64 L105.7 176.68 L106.2 176.71 L106.7 176.75 L107.2 176.78 L107.7 176.82 L108.2 176.85 L108.7 176.89 L109.2 176.92 L109.7 176.96 L110.2 176.99 L110.7 177.03 L111.2 177.06 L111.7 177.10 L112.2 177.13 L112.7 177.17 L113.2 177.21 L113.7 177.24 L114.2 177.28 L114.7 177.31 L115.2 177.35 L115.7 177.38 L116.2 177.42 L116.7 177.46 L117.2 177.49 L117.7 177.53 L118.2 177.56 L118.7 177.60 L119.2 177.64 L119.7 177.67 L120.2 177.71 L120.7 177.74 L121.2 177.78 L121.7 177.82 L122.2 177.85 L122.7 177.89 L123.2 177.92 L123.7 177.96 L124.2 177.99 L124.7 178.03 L125.2 178.07 L125.7 178.10 L126.2 178.14 L126.7 178.17 L127.2 178.21 L127.7 178.24 L128.2 178.28 L128.7 178.31 L129.2 178.35 L129.7 178.38 L130.2 178.41 L130.7 178.45 L131.2 178.48 L131.7 178.51 L132.2 178.54 L132.7 178.58 L133.2 178.61 L133.7 178.64 L134.2 178.67 L134.7 178.69 L135.2 178.72 L135.7 178.75 L136.2 178.77 L136.7 178.80 L137.2 178.82 L137.7 178.85 L138.2 178.87 L138.7 178.89 L139.2 178.91 L139.7 178.93 L140.2 178.95 L140.7 178.97 L141.2 178.99 L141.7 179.00 L142.2 179.02 L142.7 179.03 L143.2 179.04 L143.7 179.06 L144.2 179.07 L144.7 179.08 L145.2 179.08 L145.7 179.09 L146.2 179.10 L146.7 179.10 L147.2 179.09 L147.7 179.07 L148.2 179.04 L148.7 178.99 L149.2 178.94 L149.7 178.87 L150.2 178.80 L150.7 178.72 L151.2 178.64 L151.7 178.56 L152.2 178.47 L152.7 178.39 L153.2 178.30 L153.7 178.22 L154.2 178.13 L154.7 178.04 L155.2 177.94 L155.7 177.84 L156.2 177.73 L156.7 177.62 L157.2 177.50 L157.7 177.38 L158.2 177.25 L158.7 177.13 L159.2 177.00 L159.7 176.87 L160.2 176.74 L160.7 176.61 L161.2 176.47 L161.7 176.33 L162.2 176.16 L162.7 175.98 L163.2 175.78 L163.7 175.56 L164.2 175.33 L164.7 175.08 L165.2 174.81 L165.7 174.53 L166.2 174.24 L166.7 173.93 L167.2 173.61 L167.7 173.28 L168.2 172.94 L168.7 172.57 L169.2 172.13 L169.7 171.61 L170.2 171.02 L170.7 170.37 L171.2 169.67 L171.7 168.93 L172.2 168.15 L172.7 167.33 L173.2 166.50 L173.7 165.65 L174.2 164.80 L174.7 163.93 L175.2 163.02 L175.7 162.05 L176.2 161.00 L176.7 159.88 L177.2 158.66 L177.7 157.32 L178.2 155.87 L178.7 154.27 L179.2 152.54 L179.7 150.71 L180.2 148.78 L180.7 146.77 L181.2 144.70 L181.7 142.59 L182.2 140.43 L182.7 138.24 L183.2 135.96 L183.7 133.63 L184.2 131.28 L184.7 128.93 L185.2 126.60 L185.7 124.33 L186.2 122.14 L186.7 120.08 L187.2 118.17 L187.7 116.40 L188.2 114.78 L188.7 113.31 L189.2 112.01 L189.7 111.06 L190.2 110.45 L190.7 110.12 L191.2 110.00 L191.7 110.03 L192.2 110.24 L192.7 110.62 L193.2 111.19 L193.7 111.95 L194.2 112.90 L194.7 113.99 L195.2 115.37 L195.7 117.16 L196.2 119.51 L196.7 122.11 L197.2 124.76 L197.7 127.45 L198.2 130.18 L198.7 132.95 L199.2 135.75 L199.7 138.58 L200.2 141.43 L200.7 144.31 L201.2 147.20 L201.7 150.13 L202.2 153.10 L202.7 156.11 L203.2 159.13 L203.7 162.15 L204.2 165.14 L204.7 168.11 L205.2 171.02 L205.7 173.85 L206.2 176.51 L206.7 179.03 L207.2 181.41 L207.7 183.65 L208.2 185.76 L208.7 187.76 L209.2 189.64 L209.7 191.40 L210.2 193.00 L210.7 194.43 L211.2 195.68 L211.7 196.74 L212.2 197.59 L212.7 198.23 L213.2 198.65 L213.7 199.02 L214.2 199.38 L214.7 199.72 L215.2 200.05 L215.7 200.35 L216.2 200.64 L216.7 200.90 L217.2 201.15 L217.7 201.36 L218.2 201.55 L218.7 201.72 L219.2 201.85 L219.7 201.95 L220.2 202.03 L220.7 202.10 L221.2 202.17 L221.7 202.25 L222.2 202.32 L222.7 202.40 L223.2 202.48 L223.7 202.55 L224.2 202.62 L224.7 202.69 L225.2 202.75 L225.7 202.81 L226.2 202.87 L226.7 202.91 L227.2 202.95 L227.7 202.98 L228.2 203.01 L228.7 203.02 L229.2 203.02 L229.7 203.01 L230.2 202.99 L230.7 202.97 L231.2 202.94 L231.7 202.91 L232.2 202.88 L232.7 202.85 L233.2 202.81 L233.7 202.77 L234.2 202.74 L234.7 202.70 L235.2 202.66 L235.7 202.61 L236.2 202.57 L236.7 202.52 L237.2 202.48 L237.7 202.43 L238.2 202.38 L238.7 202.33 L239.2 202.28 L239.7 202.23 L240.2 202.18 L240.7 202.12 L241.2 202.06 L241.7 201.99 L242.2 201.92 L242.7 201.84 L243.2 201.76 L243.7 201.67 L244.2 201.58 L244.7 201.49 L245.2 201.40 L245.7 201.30 L246.2 201.20 L246.7 201.10 L247.2 201.00 L247.7 200.90 L248.2 200.80 L248.7 200.70 L249.2 200.58 L249.7 200.43 L250.2 200.25 L250.7 200.04 L251.2 199.79 L251.7 199.52 L252.2 199.22 L252.7 198.90 L253.2 198.55 L253.7 198.18 L254.2 197.79 L254.7 197.37 L255.2 196.94 L255.7 196.49 L256.2 196.02 L256.7 195.53 L257.2 195.03 L257.7 194.51 L258.2 193.99 L258.7 193.42 L259.2 192.79 L259.7 192.11 L260.2 191.36 L260.7 190.54 L261.2 189.64 L261.7 188.64 L262.2 187.55 L262.7 186.36 L263.2 185.05 L263.7 183.63 L264.2 182.08 L264.7 180.39 L265.2 178.57 L265.7 176.60 L266.2 174.61 L266.7 172.63 L267.2 170.64 L267.7 168.65 L268.2 166.66 L268.7 164.67 L269.2 162.68 L269.7 160.69 L270.2 158.70 L270.7 156.71 L271.2 154.72 L271.7 152.73 L272.2 150.74 L272.7 148.75 L273.2 146.76 L273.7 144.77 L274.2 142.79 L274.7 140.80 L275.2 138.76 L275.7 136.49 L276.2 133.94 L276.7 131.07 L277.2 127.85 L277.7 124.25 L278.2 120.31 L278.7 116.15 L279.2 111.86 L279.7 107.54 L280.2 103.29 L280.7 99.20 L281.2 95.24 L281.7 91.35 L282.2 87.54 L282.7 83.81 L283.2 80.16 L283.7 76.65 L284.2 73.93 L284.7 72.01 L285.2 70.72 L285.7 69.87 L286.2 69.32 L286.7 69.32 L287.2 70.08 L287.7 71.80 L288.2 74.66 L288.7 78.76 L289.2 83.44 L289.7 88.52 L290.2 94.03 L290.7 100.00 L291.2 106.20 L291.7 112.40 L292.2 118.62 L292.7 124.87 L293.2 131.14 L293.7 137.46 L294.2 143.83 L294.7 150.26 L295.2 156.73 L295.7 163.21 L296.2 169.69 L296.7 176.15 L297.2 182.55 L297.7 188.77 L298.2 194.77 L298.7 200.50 L299.2 205.92 L299.7 211.01 L300.2 215.70 L300.7 219.79 L301.2 223.24 L301.7 226.11 L302.2 228.48 L302.7 230.42 L303.2 231.99 L303.7 233.27 L304.2 234.39 L304.7 235.46 L305.2 236.47 L305.7 237.37 L306.2 238.14 L306.7 238.74 L307.2 239.15 L307.7 239.52 L308.2 239.88 L308.7 240.22 L309.2 240.52 L309.7 240.77 L310.2 240.95 L310.7 241.07 L311.2 241.18 L311.7 241.29 L312.2 241.39 L312.7 241.50 L313.2 241.60 L313.7 241.69 L314.2 241.78 L314.7 241.87 L315.2 241.96 L315.7 242.04 L316.2 242.11 L316.7 242.18 L317.2 242.25 L317.7 242.31 L318.2 242.37 L318.7 242.41 L319.2 242.46 L319.7 242.50 L320.2 242.53 L320.7 242.55 L321.2 242.57 L321.7 242.58 L322.2 242.58 L322.7 242.58 L323.2 242.56 L323.7 242.54 L324.2 242.51 L324.7 242.48 L325.2 242.43 L325.7 242.38 L326.2 242.31 L326.7 242.24 L327.2 242.15 L327.7 242.06 L328.0 242.00" fill="none" stroke="#0c0cf6" stroke-width="1.1" stroke-linejoin="round"/>
<path d="M22.2 172.50 L22.7 172.52 L23.2 172.53 L23.7 172.55 L24.2 172.56 L24.7 172.58 L25.2 172.60 L25.7 172.61 L26.2 172.63 L26.7 172.65 L27.2 172.66 L27.7 172.68 L28.2 172.70 L28.7 172.71 L29.2 172.73 L29.7 172.75 L30.2 172.76 L30.7 172.78 L31.2 172.80 L31.7 172.82 L32.2 172.83 L32.7 172.85 L33.2 172.87 L33.7 172.89 L34.2 172.90 L34.7 172.92 L35.2 172.94 L35.7 172.96 L36.2 172.98 L36.7 173.00 L37.2 173.02 L37.7 173.03 L38.2 173.05 L38.7 173.07 L39.2 173.09 L39.7 173.11 L40.2 173.13 L40.7 173.15 L41.2 173.17 L41.7 173.19 L42.2 173.21 L42.7 173.23 L43.2 173.25 L43.7 173.28 L44.2 173.30 L44.7 173.32 L45.2 173.34 L45.7 173.36 L46.2 173.38 L46.7 173.41 L47.2 173.43 L47.7 173.45 L48.2 173.47 L48.7 173.50 L49.2 173.52 L49.7 173.55 L50.2 173.57 L50.7 173.59 L51.2 173.62 L51.7 173.64 L52.2 173.67 L52.7 173.69 L53.2 173.72 L53.7 173.75 L54.2 173.77 L54.7 173.80 L55.2 173.83 L55.7 173.85 L56.2 173.88 L56.7 173.91 L57.2 173.94 L57.7 173.96 L58.2 173.99 L58.7 174.02 L59.2 174.05 L59.7 174.08 L60.2 174.11 L60.7 174.14 L61.2 174.17 L61.7 174.20 L62.2 174.23 L62.7 174.26 L63.2 174.29 L63.7 174.32 L64.2 174.36 L64.7 174.39 L65.2 174.42 L65.7 174.45 L66.2 174.48 L66.7 174.51 L67.2 174.54 L67.7 174.57 L68.2 174.60 L68.7 174.63 L69.2 174.67 L69.7 174.70 L70.2 174.73 L70.7 174.76 L71.2 174.79 L71.7 174.82 L72.2 174.85 L72.7 174.88 L73.2 174.92 L73.7 174.95 L74.2 174.98 L74.7 175.01 L75.2 175.04 L75.7 175.07 L76.2 175.11 L76.7 175.14 L77.2 175.17 L77.7 175.20 L78.2 175.23 L78.7 175.26 L79.2 175.30 L79.7 175.33 L80.2 175.36 L80.7 175.39 L81.2 175.42 L81.7 175.45 L82.2 175.49 L82.7 175.52 L83.2 175.55 L83.7 175.58 L84.2 175.61 L84.7 175.64 L85.2 175.68 L85.7 175.71 L86.2 175.74 L86.7 175.77 L87.2 175.80 L87.7 175.83 L88.2 175.87 L88.7 175.90 L89.2 175.93 L89.7 175.96 L90.2 175.99 L90.7 176.02 L91.2 176.05 L91.7 176.09 L92.2 176.12 L92.7 176.15 L93.2 176.18 L93.7 176.21 L94.2 176.24 L94.7 176.27 L95.2 176.30 L95.7 176.34 L96.2 176.37 L96.7 176.40 L97.2 176.43 L97.7 176.46 L98.2 176.49 L98.7 176.52 L99.2 176.55 L99.7 176.58 L100.2 176.61 L100.7 176.64 L101.2 176.67 L101.7 176.70 L102.2 176.73 L102.7 176.76 L103.2 176.79 L103.7 176.82 L104.2 176.85 L104.7 176.88 L105.2 176.91 L105.7 176.94 L106.2 176.97 L106.7 177.00 L107.2 177.03 L107.7 177.06 L108.2 177.09 L108.7 177.12 L109.2 177.15 L109.7 177.18 L110.2 177.21 L110.7 177.24 L111.2 177.27 L111.7 177.30 L112.2 177.34 L112.7 177.37 L113.2 177.40 L113.7 177.43 L114.2 177.46 L114.7 177.49 L115.2 177.53 L115.7 177.56 L116.2 177.59 L116.7 177.63 L117.2 177.66 L117.7 177.69 L118.2 177.73 L118.7 177.76 L119.2 177.80 L119.7 177.83 L120.2 177.87 L120.7 177.90 L121.2 177.94 L121.7 177.97 L122.2 178.01 L122.7 178.05 L123.2 178.08 L123.7 178.12 L124.2 178.16 L124.7 178.19 L125.2 178.23 L125.7 178.27 L126.2 178.31 L126.7 178.35 L127.2 178.39 L127.7 178.42 L128.2 178.46 L128.7 178.50 L129.2 178.54 L129.7 178.58 L130.2 178.62 L130.7 178.66 L131.2 178.71 L131.7 178.75 L132.2 178.79 L132.7 178.83 L133.2 178.87 L133.7 178.91 L134.2 178.96 L134.7 179.00 L135.2 179.04 L135.7 179.09 L136.2 179.13 L136.7 179.18 L137.2 179.22 L137.7 179.26 L138.2 179.31 L138.7 179.35 L139.2 179.40 L139.7 179.45 L140.2 179.50 L140.7 179.56 L141.2 179.62 L141.7 179.69 L142.2 179.76 L142.7 179.83 L143.2 179.91 L143.7 179.99 L144.2 180.08 L144.7 180.17 L145.2 180.26 L145.7 180.36 L146.2 180.46 L146.7 180.56 L147.2 180.67 L147.7 180.78 L148.2 180.89 L148.7 181.00 L149.2 181.12 L149.7 181.24 L150.2 181.36 L150.7 181.49 L151.2 181.61 L151.7 181.74 L152.2 181.87 L152.7 182.00 L153.2 182.14 L153.7 182.27 L154.2 182.41 L154.7 182.55 L155.2 182.69 L155.7 182.82 L156.2 182.96 L156.7 183.11 L157.2 183.25 L157.7 183.39 L158.2 183.54 L158.7 183.68 L159.2 183.83 L159.7 183.97 L160.2 184.12 L160.7 184.27 L161.2 184.42 L161.7 184.57 L162.2 184.72 L162.7 184.88 L163.2 185.03 L163.7 185.19 L164.2 185.34 L164.7 185.50 L165.2 185.66 L165.7 185.82 L166.2 185.98 L166.7 186.14 L167.2 186.30 L167.7 186.47 L168.2 186.63 L168.7 186.80 L169.2 186.97 L169.7 187.13 L170.2 187.30 L170.7 187.47 L171.2 187.64 L171.7 187.81 L172.2 187.98 L172.7 188.15 L173.2 188.32 L173.7 188.50 L174.2 188.67 L174.7 188.84 L175.2 189.02 L175.7 189.19 L176.2 189.36 L176.7 189.54 L177.2 189.72 L177.7 189.89 L178.2 190.07 L178.7 190.25 L179.2 190.43 L179.7 190.61 L180.2 190.78 L180.7 190.96 L181.2 191.15 L181.7 191.33 L182.2 191.51 L182.7 191.69 L183.2 191.87 L183.7 192.06 L184.2 192.25 L184.7 192.44 L185.2 192.64 L185.7 192.84 L186.2 193.04 L186.7 193.25 L187.2 193.46 L187.7 193.66 L188.2 193.87 L188.7 194.09 L189.2 194.30 L189.7 194.51 L190.2 194.72 L190.7 194.94 L191.2 195.15 L191.7 195.36 L192.2 195.57 L192.7 195.78 L193.2 195.99 L193.7 196.19 L194.2 196.40 L194.7 196.60 L195.2 196.80 L195.7 196.99 L196.2 197.18 L196.7 197.37 L197.2 197.56 L197.7 197.74 L198.2 197.91 L198.7 198.09 L199.2 198.26 L199.7 198.42 L200.2 198.59 L200.7 198.75 L201.2 198.91 L201.7 199.06 L202.2 199.22 L202.7 199.37 L203.2 199.51 L203.7 199.66 L204.2 199.80 L204.7 199.94 L205.2 200.08 L205.7 200.22 L206.2 200.35 L206.7 200.48 L207.2 200.61 L207.7 200.74 L208.2 200.86 L208.7 200.99 L209.2 201.11 L209.7 201.23 L210.2 201.35 L210.7 201.46 L211.2 201.58 L211.7 201.70 L212.2 201.81 L212.7 201.93 L213.2 202.04 L213.7 202.15 L214.2 202.26 L214.7 202.37 L215.2 202.48 L215.7 202.59 L216.2 202.70 L216.7 202.81 L217.2 202.92 L217.7 203.03 L218.2 203.13 L218.7 203.24 L219.2 203.34 L219.7 203.45 L220.2 203.55 L220.7 203.65 L221.2 203.75 L221.7 203.86 L222.2 203.96 L222.7 204.06 L223.2 204.16 L223.7 204.25 L224.2 204.35 L224.7 204.45 L225.2 204.55 L225.7 204.64 L226.2 204.74 L226.7 204.83 L227.2 204.92 L227.7 205.01 L228.2 205.10 L228.7 205.18 L229.2 205.26 L229.7 205.34 L230.2 205.42 L230.7 205.50 L231.2 205.58 L231.7 205.65 L232.2 205.73 L232.7 205.81 L233.2 205.88 L233.7 205.96 L234.2 206.03 L234.7 206.11 L235.2 206.19 L235.7 206.26 L236.2 206.34 L236.7 206.42 L237.2 206.51 L237.7 206.59 L238.2 206.67 L238.7 206.76 L239.2 206.85 L239.7 206.94 L240.2 207.04 L240.7 207.14 L241.2 207.24 L241.7 207.35 L242.2 207.45 L242.7 207.57 L243.2 207.68 L243.7 207.80 L244.2 207.93 L244.7 208.05 L245.2 208.18 L245.7 208.31 L246.2 208.44 L246.7 208.58 L247.2 208.71 L247.7 208.85 L248.2 208.99 L248.7 209.14 L249.2 209.28 L249.7 209.43 L250.2 209.57 L250.7 209.72 L251.2 209.87 L251.7 210.02 L252.2 210.17 L252.7 210.32 L253.2 210.48 L253.7 210.64 L254.2 210.81 L254.7 210.98 L255.2 211.15 L255.7 211.33 L256.2 211.52 L256.7 211.71 L257.2 211.90 L257.7 212.10 L258.2 212.30 L258.7 212.51 L259.2 212.72 L259.7 212.94 L260.2 213.16 L260.7 213.39 L261.2 213.62 L261.7 213.86 L262.2 214.10 L262.7 214.35 L263.2 214.60 L263.7 214.87 L264.2 215.14 L264.7 215.42 L265.2 215.71 L265.7 216.00 L266.2 216.30 L266.7 216.61 L267.2 216.93 L267.7 217.25 L268.2 217.58 L268.7 217.91 L269.2 218.25 L269.7 218.59 L270.2 218.94 L270.7 219.29 L271.2 219.64 L271.7 220.00 L272.2 220.35 L272.7 220.71 L273.2 221.07 L273.7 221.44 L274.2 221.81 L274.7 222.18 L275.2 222.56 L275.7 222.94 L276.2 223.33 L276.7 223.73 L277.2 224.13 L277.7 224.54 L278.2 224.95 L278.7 225.38 L279.2 225.81 L279.7 226.25 L280.2 226.70 L280.7 227.16 L281.2 227.62 L281.7 228.08 L282.2 228.54 L282.7 229.01 L283.2 229.48 L283.7 229.95 L284.2 230.42 L284.7 230.89 L285.2 231.36 L285.7 231.84 L286.2 232.31 L286.7 232.77 L287.2 233.24 L287.7 233.71 L288.2 234.17 L288.7 234.63 L289.2 235.10 L289.7 235.56 L290.2 236.01 L290.7 236.47 L291.2 236.92 L291.7 237.36 L292.2 237.80 L292.7 238.23 L293.2 238.65 L293.7 239.02 L294.2 239.35 L294.7 239.63 L295.2 239.88 L295.7 240.10 L296.2 240.28 L296.7 240.44 L297.2 240.57 L297.7 240.68 L298.2 240.77 L298.7 240.85 L299.2 240.91 L299.7 240.97 L300.2 241.02 L300.7 241.07 L301.2 241.12 L301.7 241.17 L302.2 241.21 L302.7 241.26 L303.2 241.30 L303.7 241.35 L304.2 241.39 L304.7 241.43 L305.2 241.47 L305.7 241.51 L306.2 241.55 L306.7 241.58 L307.2 241.61 L307.7 241.65 L308.2 241.67 L308.7 241.70 L309.2 241.73 L309.7 241.75 L310.2 241.77 L310.7 241.78 L311.2 241.80 L311.7 241.81 L312.2 241.82 L312.7 241.83 L313.2 241.84 L313.7 241.85 L314.2 241.86 L314.7 241.88 L315.2 241.89 L315.7 241.90 L316.2 241.91 L316.7 241.92 L317.2 241.93 L317.7 241.94 L318.2 241.95 L318.7 241.96 L319.2 241.97 L319.7 241.98 L320.2 241.99 L320.7 242.00 L321.2 242.00 L321.7 242.01 L322.2 242.01 L322.7 242.02 L323.2 242.02 L323.7 242.02 L324.2 242.03 L324.7 242.03 L325.2 242.03 L325.7 242.02 L326.2 242.02 L326.7 242.02 L327.2 242.01 L327.7 242.00 L328.0 242.00" fill="none" stroke="#858585" stroke-width="1.05" stroke-linejoin="round"/>
<path d="M22.2 169.76 L22.7 169.91 L23.2 169.28 L23.7 168.83 L24.2 169.41 L24.7 169.58 L25.2 169.33 L25.7 169.60 L26.2 169.80 L26.7 169.68 L27.2 169.55 L27.7 169.29 L28.2 168.77 L28.7 168.63 L29.2 168.97 L29.7 169.41 L30.2 169.26 L30.7 168.70 L31.2 168.40 L31.7 168.65 L32.2 169.07 L32.7 169.70 L33.2 170.29 L33.7 169.16 L34.2 166.93 L34.7 166.61 L35.2 167.86 L35.7 168.83 L36.2 169.56 L36.7 170.39 L37.2 170.52 L37.7 169.53 L38.2 169.78 L38.7 170.99 L39.2 170.98 L39.7 169.97 L40.2 168.63 L40.7 168.05 L41.2 168.63 L41.7 168.75 L42.2 168.20 L42.7 168.21 L43.2 168.48 L43.7 168.56 L44.2 168.96 L44.7 169.34 L45.2 169.34 L45.7 169.47 L46.2 170.12 L46.7 170.44 L47.2 169.89 L47.7 169.41 L48.2 169.57 L48.7 169.68 L49.2 169.62 L49.7 169.47 L50.2 169.67 L50.7 169.23 L51.2 168.54 L51.7 168.79 L52.2 169.34 L52.7 169.19 L53.2 168.47 L53.7 168.37 L54.2 168.95 L54.7 169.38 L55.2 169.76 L55.7 169.53 L56.2 168.98 L56.7 169.67 L57.2 170.30 L57.7 169.70 L58.2 169.41 L58.7 170.04 L59.2 170.48 L59.7 170.23 L60.2 169.17 L60.7 168.41 L61.2 168.78 L61.7 169.52 L62.2 169.98 L62.7 169.31 L63.2 168.20 L63.7 168.58 L64.2 169.94 L64.7 170.24 L65.2 169.71 L65.7 169.81 L66.2 170.36 L66.7 170.76 L67.2 170.82 L67.7 170.38 L68.2 169.92 L68.7 169.86 L69.2 169.45 L69.7 168.51 L70.2 168.68 L70.7 168.96 L71.2 168.85 L71.7 169.25 L72.2 169.78 L72.7 170.28 L73.2 170.56 L73.7 171.02 L74.2 171.21 L74.7 170.29 L75.2 169.05 L75.7 169.22 L76.2 170.37 L76.7 170.21 L77.2 169.61 L77.7 169.77 L78.2 170.22 L78.7 170.56 L79.2 170.33 L79.7 169.83 L80.2 169.60 L80.7 169.66 L81.2 169.84 L81.7 170.63 L82.2 170.45 L82.7 168.60 L83.2 168.18 L83.7 170.30 L84.2 171.42 L84.7 169.99 L85.2 169.09 L85.7 169.40 L86.2 169.37 L86.7 169.52 L87.2 170.19 L87.7 170.80 L88.2 170.98 L88.7 171.10 L89.2 170.93 L89.7 170.67 L90.2 170.71 L90.7 170.89 L91.2 171.04 L91.7 170.98 L92.2 171.76 L92.7 173.06 L93.2 173.09 L93.7 172.48 L94.2 172.03 L94.7 171.37 L95.2 171.06 L95.7 171.00 L96.2 170.59 L96.7 170.45 L97.2 170.77 L97.7 170.45 L98.2 169.95 L98.7 170.32 L99.2 171.50 L99.7 172.15 L100.2 171.46 L100.7 170.62 L101.2 170.34 L101.7 171.36 L102.2 172.29 L102.7 172.00 L103.2 171.78 L103.7 172.40 L104.2 173.21 L104.7 173.84 L105.2 173.93 L105.7 172.82 L106.2 171.70 L106.7 171.50 L107.2 171.67 L107.7 171.75 L108.2 171.57 L108.7 170.93 L109.2 170.46 L109.7 170.69 L110.2 170.35 L110.7 170.24 L111.2 171.29 L111.7 171.99 L112.2 171.50 L112.7 170.75 L113.2 171.14 L113.7 172.28 L114.2 171.44 L114.7 169.54 L115.2 168.87 L115.7 168.79 L116.2 168.61 L116.7 169.04 L117.2 169.80 L117.7 170.37 L118.2 169.36 L118.7 167.62 L119.2 167.28 L119.7 167.53 L120.2 168.75 L120.7 168.16 L121.2 167.46 L121.7 167.53 L122.2 168.77 L122.7 169.10 L123.2 168.50 L123.7 168.17 L124.2 167.77 L124.7 167.41 L125.2 167.30 L125.7 166.76 L126.2 166.11 L126.7 165.90 L127.2 166.05 L127.7 166.03 L128.2 165.69 L128.7 165.15 L129.2 164.73 L129.7 164.61 L130.2 164.82 L130.7 164.76 L131.2 164.40 L131.7 163.83 L132.2 163.48 L132.7 163.92 L133.2 163.60 L133.7 161.77 L134.2 160.52 L134.7 160.84 L135.2 161.80 L135.7 162.25 L136.2 162.30 L136.7 161.93 L137.2 161.30 L137.7 160.77 L138.2 160.42 L138.7 159.94 L139.2 159.14 L139.7 158.97 L140.2 159.51 L140.7 159.47 L141.2 158.24 L141.7 157.28 L142.2 157.43 L142.7 157.84 L143.2 157.73 L143.7 157.14 L144.2 156.48 L144.7 156.68 L145.2 156.40 L145.7 155.47 L146.2 155.51 L146.7 155.85 L147.2 155.77 L147.7 155.99 L148.2 155.91 L148.7 154.69 L149.2 153.35 L149.7 152.81 L150.2 152.77 L150.7 152.42 L151.2 151.98 L151.7 151.75 L152.2 151.21 L152.7 149.93 L153.2 148.72 L153.7 148.74 L154.2 149.81 L154.7 150.37 L155.2 150.13 L155.7 149.14 L156.2 148.28 L156.7 147.94 L157.2 147.22 L157.7 146.36 L158.2 146.54 L158.7 147.20 L159.2 146.88 L159.7 145.95 L160.2 145.02 L160.7 144.57 L161.2 144.46 L161.7 143.77 L162.2 142.88 L162.7 142.31 L163.2 142.01 L163.7 142.15 L164.2 142.02 L164.7 141.45 L165.2 141.00 L165.7 140.16 L166.2 139.27 L166.7 138.57 L167.2 138.18 L167.7 137.78 L168.2 137.02 L168.7 136.18 L169.2 135.40 L169.7 134.58 L170.2 134.01 L170.7 134.13 L171.2 134.46 L171.7 134.48 L172.2 134.41 L172.7 133.97 L173.2 132.60 L173.7 131.49 L174.2 130.85 L174.7 129.79 L175.2 128.81 L175.7 127.76 L176.2 126.64 L176.7 125.74 L177.2 125.26 L177.7 124.25 L178.2 123.22 L178.7 122.73 L179.2 121.43 L179.7 119.46 L180.2 117.58 L180.7 116.09 L181.2 114.56 L181.7 112.99 L182.2 111.33 L182.7 109.62 L183.2 107.89 L183.7 106.23 L184.2 104.67 L184.7 103.24 L185.2 101.93 L185.7 100.70 L186.2 99.58 L186.7 98.57 L187.2 97.68 L187.7 96.91 L188.2 96.22 L188.7 95.61 L189.2 95.27 L189.7 95.16 L190.2 95.18 L190.7 95.21 L191.2 95.31 L191.7 95.79 L192.2 97.07 L192.7 99.93 L193.2 103.68 L193.7 108.17 L194.2 112.38 L194.7 115.58 L195.2 118.81 L195.7 122.06 L196.2 125.30 L196.7 128.52 L197.2 131.68 L197.7 134.79 L198.2 137.87 L198.7 140.92 L199.2 143.93 L199.7 146.91 L200.2 149.86 L200.7 152.77 L201.2 155.59 L201.7 158.19 L202.2 160.62 L202.7 162.89 L203.2 165.04 L203.7 167.09 L204.2 168.75 L204.7 169.89 L205.2 171.00 L205.7 171.03 L206.2 171.56 L206.7 172.20 L207.2 172.93 L207.7 173.88 L208.2 174.71 L208.7 175.91 L209.2 177.46 L209.7 178.76 L210.2 178.97 L210.7 178.90 L211.2 179.09 L211.7 179.34 L212.2 179.70 L212.7 180.32 L213.2 180.91 L213.7 181.29 L214.2 181.53 L214.7 181.57 L215.2 181.77 L215.7 182.03 L216.2 181.80 L216.7 181.46 L217.2 181.56 L217.7 182.06 L218.2 182.30 L218.7 181.96 L219.2 181.79 L219.7 181.79 L220.2 181.59 L220.7 181.70 L221.2 182.06 L221.7 182.11 L222.2 181.84 L222.7 181.23 L223.2 180.67 L223.7 180.67 L224.2 180.36 L224.7 180.05 L225.2 180.26 L225.7 180.20 L226.2 179.55 L226.7 178.96 L227.2 178.80 L227.7 178.83 L228.2 178.78 L228.7 178.35 L229.2 177.78 L229.7 177.20 L230.2 176.34 L230.7 175.62 L231.2 175.34 L231.7 174.86 L232.2 173.99 L232.7 173.14 L233.2 172.31 L233.7 171.60 L234.2 171.42 L234.7 170.89 L235.2 169.93 L235.7 169.27 L236.2 168.74 L236.7 167.99 L237.2 166.96 L237.7 166.50 L238.2 166.42 L238.7 165.65 L239.2 164.36 L239.7 163.70 L240.2 163.38 L240.7 162.95 L241.2 162.36 L241.7 161.39 L242.2 160.57 L242.7 160.03 L243.2 159.63 L243.7 158.76 L244.2 157.61 L244.7 156.97 L245.2 156.93 L245.7 156.55 L246.2 155.82 L246.7 154.98 L247.2 153.83 L247.7 152.56 L248.2 151.60 L248.7 151.08 L249.2 150.50 L249.7 149.39 L250.2 148.50 L250.7 147.99 L251.2 147.46 L251.7 146.51 L252.2 145.16 L252.7 144.24 L253.2 144.07 L253.7 143.89 L254.2 143.11 L254.7 141.98 L255.2 140.95 L255.7 140.12 L256.2 139.36 L256.7 138.51 L257.2 137.51 L257.7 136.67 L258.2 135.97 L258.7 135.31 L259.2 134.84 L259.7 134.42 L260.2 133.40 L260.7 131.62 L261.2 129.69 L261.7 128.50 L262.2 127.68 L262.7 126.61 L263.2 125.53 L263.7 125.00 L264.2 124.02 L264.7 122.35 L265.2 121.00 L265.7 120.19 L266.2 119.73 L266.7 119.38 L267.2 118.64 L267.7 117.35 L268.2 116.11 L268.7 115.04 L269.2 113.88 L269.7 112.20 L270.2 109.89 L270.7 107.07 L271.2 104.30 L271.7 101.68 L272.2 99.14 L272.7 96.06 L273.2 92.60 L273.7 89.39 L274.2 86.35 L274.7 83.21 L275.2 80.32 L275.7 77.29 L276.2 74.26 L276.7 71.22 L277.2 68.19 L277.7 65.16 L278.2 62.13 L278.7 59.11 L279.2 56.10 L279.7 53.15 L280.2 50.20 L280.7 47.26 L281.2 44.69 L281.7 42.46 L282.2 40.41 L282.7 38.68 L283.2 37.46 L283.7 36.76 L284.2 36.69 L284.7 37.32 L285.2 38.37 L285.7 39.73 L286.2 41.44 L286.7 43.47 L287.2 45.68 L287.7 47.83 L288.2 49.98 L288.7 53.40 L289.2 59.44 L289.7 67.23 L290.2 75.02 L290.7 82.82 L291.2 90.61 L291.7 98.40 L292.2 106.26 L292.7 114.31 L293.2 122.47 L293.7 130.57 L294.2 138.46 L294.7 145.91 L295.2 152.73 L295.7 159.08 L296.2 165.07 L296.7 170.85 L297.2 176.55 L297.7 182.31 L298.2 188.03 L298.7 193.61 L299.2 198.96 L299.7 203.97 L300.2 208.25 L300.7 212.95 L301.2 217.12 L301.7 219.57 L302.2 221.23 L302.7 223.51 L303.2 225.78 L303.7 227.47 L304.2 228.94 L304.7 230.96 L305.2 233.11 L305.7 234.69 L306.2 235.41 L306.7 235.77 L307.2 236.58 L307.7 237.72 L308.2 238.15 L308.7 238.72 L309.2 238.80 L309.7 238.53 L310.2 238.71 L310.7 239.34 L311.2 240.14 L311.7 240.77 L312.2 240.75 L312.7 240.07 L313.2 240.00 L313.7 240.35 L314.2 240.32 L314.7 239.88 L315.2 240.18 L315.7 240.59 L316.2 240.81 L316.7 241.58 L317.2 242.22 L317.7 242.51 L318.2 242.11 L318.7 241.18 L319.2 240.94 L319.7 241.61 L320.2 242.37 L320.7 242.32 L321.2 241.57 L321.7 241.07 L322.2 241.02 L322.7 241.26 L323.2 241.76 L323.7 242.58 L324.2 243.07 L324.7 242.48 L325.2 242.02 L325.7 241.89 L326.2 241.55 L326.7 241.61 L327.2 242.04 L327.7 241.98 L328.0 241.49" fill="none" stroke="#1a1a1a" stroke-width="1.15" stroke-linejoin="round"/>
<path d="M22.2 170.50 L22.7 170.51 L23.2 170.52 L23.7 170.53 L24.2 170.53 L24.7 170.54 L25.2 170.55 L25.7 170.56 L26.2 170.57 L26.7 170.58 L27.2 170.58 L27.7 170.59 L28.2 170.60 L28.7 170.61 L29.2 170.62 L29.7 170.63 L30.2 170.63 L30.7 170.64 L31.2 170.65 L31.7 170.66 L32.2 170.67 L32.7 170.68 L33.2 170.69 L33.7 170.69 L34.2 170.70 L34.7 170.71 L35.2 170.72 L35.7 170.73 L36.2 170.74 L36.7 170.74 L37.2 170.75 L37.7 170.76 L38.2 170.77 L38.7 170.78 L39.2 170.79 L39.7 170.79 L40.2 170.80 L40.7 170.81 L41.2 170.82 L41.7 170.83 L42.2 170.84 L42.7 170.85 L43.2 170.85 L43.7 170.86 L44.2 170.87 L44.7 170.88 L45.2 170.89 L45.7 170.90 L46.2 170.90 L46.7 170.91 L47.2 170.92 L47.7 170.93 L48.2 170.94 L48.7 170.95 L49.2 170.95 L49.7 170.96 L50.2 170.97 L50.7 170.98 L51.2 170.99 L51.7 171.00 L52.2 171.01 L52.7 171.01 L53.2 171.02 L53.7 171.03 L54.2 171.04 L54.7 171.05 L55.2 171.06 L55.7 171.06 L56.2 171.07 L56.7 171.08 L57.2 171.09 L57.7 171.10 L58.2 171.11 L58.7 171.11 L59.2 171.12 L59.7 171.13 L60.2 171.14 L60.7 171.15 L61.2 171.16 L61.7 171.16 L62.2 171.17 L62.7 171.18 L63.2 171.19 L63.7 171.20 L64.2 171.21 L64.7 171.22 L65.2 171.22 L65.7 171.23 L66.2 171.24 L66.7 171.25 L67.2 171.26 L67.7 171.27 L68.2 171.28 L68.7 171.29 L69.2 171.30 L69.7 171.31 L70.2 171.32 L70.7 171.32 L71.2 171.33 L71.7 171.34 L72.2 171.35 L72.7 171.36 L73.2 171.37 L73.7 171.38 L74.2 171.39 L74.7 171.40 L75.2 171.41 L75.7 171.42 L76.2 171.43 L76.7 171.44 L77.2 171.45 L77.7 171.46 L78.2 171.47 L78.7 171.48 L79.2 171.49 L79.7 171.49 L80.2 171.50 L80.7 171.51 L81.2 171.52 L81.7 171.53 L82.2 171.53 L82.7 171.54 L83.2 171.54 L83.7 171.55 L84.2 171.55 L84.7 171.55 L85.2 171.55 L85.7 171.55 L86.2 171.55 L86.7 171.55 L87.2 171.55 L87.7 171.55 L88.2 171.55 L88.7 171.55 L89.2 171.54 L89.7 171.54 L90.2 171.53 L90.7 171.53 L91.2 171.52 L91.7 171.52 L92.2 171.51 L92.7 171.50 L93.2 171.50 L93.7 171.49 L94.2 171.47 L94.7 171.45 L95.2 171.43 L95.7 171.40 L96.2 171.38 L96.7 171.34 L97.2 171.31 L97.7 171.27 L98.2 171.23 L98.7 171.19 L99.2 171.15 L99.7 171.10 L100.2 171.06 L100.7 171.01 L101.2 170.96 L101.7 170.91 L102.2 170.86 L102.7 170.80 L103.2 170.75 L103.7 170.69 L104.2 170.62 L104.7 170.56 L105.2 170.49 L105.7 170.42 L106.2 170.35 L106.7 170.28 L107.2 170.21 L107.7 170.14 L108.2 170.07 L108.7 169.99 L109.2 169.92 L109.7 169.84 L110.2 169.77 L110.7 169.70 L111.2 169.62 L111.7 169.54 L112.2 169.46 L112.7 169.38 L113.2 169.30 L113.7 169.21 L114.2 169.12 L114.7 169.03 L115.2 168.93 L115.7 168.83 L116.2 168.73 L116.7 168.62 L117.2 168.51 L117.7 168.40 L118.2 168.28 L118.7 168.15 L119.2 168.02 L119.7 167.88 L120.2 167.74 L120.7 167.59 L121.2 167.43 L121.7 167.26 L122.2 167.08 L122.7 166.89 L123.2 166.70 L123.7 166.49 L124.2 166.28 L124.7 166.07 L125.2 165.84 L125.7 165.61 L126.2 165.38 L126.7 165.14 L127.2 164.89 L127.7 164.64 L128.2 164.39 L128.7 164.13 L129.2 163.87 L129.7 163.61 L130.2 163.35 L130.7 163.08 L131.2 162.81 L131.7 162.54 L132.2 162.27 L132.7 162.00 L133.2 161.73 L133.7 161.46 L134.2 161.19 L134.7 160.92 L135.2 160.65 L135.7 160.38 L136.2 160.10 L136.7 159.83 L137.2 159.55 L137.7 159.27 L138.2 158.98 L138.7 158.70 L139.2 158.41 L139.7 158.13 L140.2 157.84 L140.7 157.54 L141.2 157.25 L141.7 156.95 L142.2 156.65 L142.7 156.35 L143.2 156.05 L143.7 155.75 L144.2 155.44 L144.7 155.13 L145.2 154.82 L145.7 154.51 L146.2 154.19 L146.7 153.87 L147.2 153.55 L147.7 153.23 L148.2 152.90 L148.7 152.57 L149.2 152.24 L149.7 151.91 L150.2 151.57 L150.7 151.24 L151.2 150.89 L151.7 150.55 L152.2 150.20 L152.7 149.85 L153.2 149.49 L153.7 149.12 L154.2 148.76 L154.7 148.38 L155.2 148.01 L155.7 147.63 L156.2 147.24 L156.7 146.85 L157.2 146.45 L157.7 146.05 L158.2 145.64 L158.7 145.23 L159.2 144.82 L159.7 144.39 L160.2 143.97 L160.7 143.54 L161.2 143.10 L161.7 142.65 L162.2 142.21 L162.7 141.75 L163.2 141.29 L163.7 140.83 L164.2 140.36 L164.7 139.88 L165.2 139.40 L165.7 138.91 L166.2 138.42 L166.7 137.92 L167.2 137.42 L167.7 136.91 L168.2 136.39 L168.7 135.85 L169.2 135.29 L169.7 134.72 L170.2 134.13 L170.7 133.54 L171.2 132.95 L171.7 132.35 L172.2 131.76 L172.7 131.17 L173.2 130.56 L173.7 129.94 L174.2 129.30 L174.7 128.65 L175.2 127.99 L175.7 127.30 L176.2 126.59 L176.7 125.82 L177.2 124.87 L177.7 123.76 L178.2 122.50 L178.7 121.15 L179.2 119.72 L179.7 118.25 L180.2 116.74 L180.7 115.19 L181.2 113.60 L181.7 111.97 L182.2 110.26 L182.7 108.49 L183.2 106.71 L183.7 104.99 L184.2 103.37 L184.7 101.89 L185.2 100.52 L185.7 99.24 L186.2 98.01 L186.7 96.84 L187.2 95.78 L187.7 94.84 L188.2 93.98 L188.7 93.21 L189.2 92.71 L189.7 92.43 L190.2 92.28 L190.7 92.29 L191.2 92.59 L191.7 93.27 L192.2 94.40 L192.7 96.08 L193.2 98.17 L193.7 100.56 L194.2 103.21 L194.7 106.10 L195.2 109.20 L195.7 112.42 L196.2 115.68 L196.7 118.97 L197.2 122.25 L197.7 125.53 L198.2 128.76 L198.7 131.93 L199.2 135.06 L199.7 138.16 L200.2 141.23 L200.7 144.27 L201.2 147.27 L201.7 150.24 L202.2 153.15 L202.7 155.88 L203.2 158.42 L203.7 160.79 L204.2 163.03 L204.7 165.16 L205.2 167.20 L205.7 169.17 L206.2 171.05 L206.7 172.83 L207.2 174.49 L207.7 176.03 L208.2 177.43 L208.7 178.70 L209.2 179.81 L209.7 180.76 L210.2 181.54 L210.7 182.16 L211.2 182.71 L211.7 183.20 L212.2 183.62 L212.7 183.99 L213.2 184.30 L213.7 184.55 L214.2 184.74 L214.7 184.88 L215.2 184.96 L215.7 184.98 L216.2 184.95 L216.7 184.86 L217.2 184.77 L217.7 184.69 L218.2 184.60 L218.7 184.51 L219.2 184.41 L219.7 184.31 L220.2 184.20 L220.7 184.07 L221.2 183.94 L221.7 183.78 L222.2 183.61 L222.7 183.41 L223.2 183.19 L223.7 182.95 L224.2 182.67 L224.7 182.37 L225.2 182.03 L225.7 181.66 L226.2 181.25 L226.7 180.80 L227.2 180.33 L227.7 179.85 L228.2 179.36 L228.7 178.87 L229.2 178.37 L229.7 177.86 L230.2 177.34 L230.7 176.82 L231.2 176.29 L231.7 175.74 L232.2 175.19 L232.7 174.63 L233.2 174.06 L233.7 173.47 L234.2 172.88 L234.7 172.28 L235.2 171.66 L235.7 171.03 L236.2 170.39 L236.7 169.73 L237.2 169.07 L237.7 168.40 L238.2 167.73 L238.7 167.06 L239.2 166.39 L239.7 165.71 L240.2 165.03 L240.7 164.35 L241.2 163.66 L241.7 162.97 L242.2 162.28 L242.7 161.58 L243.2 160.88 L243.7 160.17 L244.2 159.46 L244.7 158.75 L245.2 158.03 L245.7 157.30 L246.2 156.58 L246.7 155.84 L247.2 155.10 L247.7 154.36 L248.2 153.60 L248.7 152.84 L249.2 152.07 L249.7 151.29 L250.2 150.51 L250.7 149.72 L251.2 148.93 L251.7 148.13 L252.2 147.32 L252.7 146.51 L253.2 145.70 L253.7 144.89 L254.2 144.07 L254.7 143.24 L255.2 142.42 L255.7 141.59 L256.2 140.76 L256.7 139.93 L257.2 139.10 L257.7 138.25 L258.2 137.37 L258.7 136.47 L259.2 135.54 L259.7 134.58 L260.2 133.61 L260.7 132.61 L261.2 131.60 L261.7 130.58 L262.2 129.55 L262.7 128.50 L263.2 127.45 L263.7 126.39 L264.2 125.33 L264.7 124.28 L265.2 123.22 L265.7 122.18 L266.2 121.21 L266.7 120.26 L267.2 119.30 L267.7 118.28 L268.2 117.17 L268.7 115.91 L269.2 114.48 L269.7 112.83 L270.2 110.91 L270.7 108.69 L271.2 106.12 L271.7 103.20 L272.2 100.18 L272.7 97.14 L273.2 94.08 L273.7 91.01 L274.2 87.94 L274.7 84.88 L275.2 81.82 L275.7 78.79 L276.2 75.76 L276.7 72.72 L277.2 69.69 L277.7 66.66 L278.2 63.63 L278.7 60.61 L279.2 57.60 L279.7 54.65 L280.2 51.74 L280.7 48.88 L281.2 46.40 L281.7 44.26 L282.2 42.30 L282.7 40.65 L283.2 39.52 L283.7 38.91 L284.2 38.81 L284.7 39.24 L285.2 40.09 L285.7 41.25 L286.2 42.76 L286.7 44.59 L287.2 46.64 L287.7 48.69 L288.2 50.74 L288.7 54.06 L289.2 60.00 L289.7 67.69 L290.2 75.38 L290.7 83.08 L291.2 90.77 L291.7 98.46 L292.2 106.26 L292.7 114.31 L293.2 122.47 L293.7 130.57 L294.2 138.46 L294.7 145.91 L295.2 152.73 L295.7 159.08 L296.2 165.07 L296.7 170.85 L297.2 176.55 L297.7 182.31 L298.2 188.03 L298.7 193.61 L299.2 198.96 L299.7 203.97 L300.2 208.56 L300.7 212.64 L301.2 216.13 L301.7 219.19 L302.2 221.89 L302.7 224.28 L303.2 226.36 L303.7 228.19 L304.2 229.78 L304.7 231.18 L305.2 232.41 L305.7 233.50 L306.2 234.55 L306.7 235.59 L307.2 236.59 L307.7 237.48 L308.2 238.23 L308.7 238.78 L309.2 239.11 L309.7 239.39 L310.2 239.66 L310.7 239.91 L311.2 240.15 L311.7 240.36 L312.2 240.55 L312.7 240.71 L313.2 240.83 L313.7 240.91 L314.2 240.99 L314.7 241.06 L315.2 241.14 L315.7 241.21 L316.2 241.29 L316.7 241.36 L317.2 241.43 L317.7 241.50 L318.2 241.57 L318.7 241.64 L319.2 241.70 L319.7 241.76 L320.2 241.82 L320.7 241.87 L321.2 241.92 L321.7 241.96 L322.2 242.00 L322.7 242.04 L323.2 242.07 L323.7 242.09 L324.2 242.11 L324.7 242.12 L325.2 242.12 L325.7 242.12 L326.2 242.11 L326.7 242.09 L327.2 242.06 L327.7 242.03 L328.0 242.00" fill="none" stroke="#f01414" stroke-width="1.3" stroke-linejoin="round"/>
<path d="M506.0 205.50 L506.5 205.52 L507.0 205.53 L507.5 205.55 L508.0 205.56 L508.5 205.57 L509.0 205.58 L509.5 205.59 L510.0 205.60 L510.5 205.60 L511.0 205.61 L511.5 205.61 L512.0 205.62 L512.5 205.62 L513.0 205.62 L513.5 205.62 L514.0 205.62 L514.5 205.62 L515.0 205.62 L515.5 205.62 L516.0 205.62 L516.5 205.62 L517.0 205.62 L517.5 205.61 L518.0 205.61 L518.5 205.61 L519.0 205.61 L519.5 205.60 L520.0 205.60 L520.5 205.60 L521.0 205.59 L521.5 205.59 L522.0 205.59 L522.5 205.58 L523.0 205.57 L523.5 205.56 L524.0 205.55 L524.5 205.54 L525.0 205.52 L525.5 205.50 L526.0 205.48 L526.5 205.45 L527.0 205.41 L527.5 205.38 L528.0 205.33 L528.5 205.28 L529.0 205.23 L529.5 205.17 L530.0 205.10 L530.5 205.02 L531.0 204.93 L531.5 204.83 L532.0 204.72 L532.5 204.61 L533.0 204.48 L533.5 204.35 L534.0 204.22 L534.5 204.08 L535.0 203.93 L535.5 203.79 L536.0 203.64 L536.5 203.50 L537.0 203.36 L537.5 203.22 L538.0 203.08 L538.5 202.95 L539.0 202.83 L539.5 202.71 L540.0 202.60 L540.5 202.50 L541.0 202.39 L541.5 202.29 L542.0 202.19 L542.5 202.09 L543.0 201.99 L543.5 201.89 L544.0 201.80 L544.5 201.70 L545.0 201.61 L545.5 201.51 L546.0 201.42 L546.5 201.33 L547.0 201.24 L547.5 201.15 L548.0 201.06 L548.5 200.97 L549.0 200.89 L549.5 200.80 L550.0 200.72 L550.5 200.64 L551.0 200.56 L551.5 200.48 L552.0 200.40 L552.5 200.32 L553.0 200.25 L553.5 200.18 L554.0 200.11 L554.5 200.04 L555.0 199.98 L555.5 199.92 L556.0 199.86 L556.5 199.81 L557.0 199.76 L557.5 199.71 L558.0 199.67 L558.5 199.63 L559.0 199.60 L559.5 199.57 L560.0 199.54 L560.5 199.52 L561.0 199.51 L561.5 199.50 L562.0 199.50 L562.5 199.50 L563.0 199.51 L563.5 199.52 L564.0 199.54 L564.5 199.57 L565.0 199.60 L565.5 199.64 L566.0 199.68 L566.5 199.73 L567.0 199.78 L567.5 199.84 L568.0 199.90 L568.5 199.97 L569.0 200.04 L569.5 200.12 L570.0 200.19 L570.5 200.28 L571.0 200.37 L571.5 200.46 L572.0 200.55 L572.5 200.65 L573.0 200.75 L573.5 200.86 L574.0 200.97 L574.5 201.08 L575.0 201.20 L575.5 201.32 L576.0 201.44 L576.5 201.56 L577.0 201.67 L577.5 201.79 L578.0 201.91 L578.5 202.03 L579.0 202.15 L579.5 202.27 L580.0 202.39 L580.5 202.51 L581.0 202.63 L581.5 202.75 L582.0 202.87 L582.5 202.99 L583.0 203.11 L583.5 203.23 L584.0 203.36 L584.5 203.48 L585.0 203.60 L585.5 203.72 L586.0 203.85 L586.5 203.97 L587.0 204.09 L587.5 204.21 L588.0 204.33 L588.5 204.46 L589.0 204.58 L589.5 204.71 L590.0 204.83 L590.5 204.96 L591.0 205.08 L591.5 205.21 L592.0 205.34 L592.5 205.47 L593.0 205.61 L593.5 205.75 L594.0 205.90 L594.5 206.05 L595.0 206.20 L595.5 206.36 L596.0 206.52 L596.5 206.69 L597.0 206.85 L597.5 207.01 L598.0 207.18 L598.5 207.34 L599.0 207.50 L599.5 207.65 L600.0 207.80 L600.5 207.95 L601.0 208.09 L601.5 208.24 L602.0 208.38 L602.5 208.52 L603.0 208.66 L603.5 208.80 L604.0 208.94 L604.5 209.08 L605.0 209.22 L605.5 209.35 L606.0 209.49 L606.5 209.63 L607.0 209.77 L607.5 209.90 L608.0 210.04 L608.5 210.18 L609.0 210.32 L609.5 210.46 L610.0 210.60 L610.5 210.74 L611.0 210.87 L611.5 210.99 L612.0 211.11 L612.5 211.23 L613.0 211.35 L613.5 211.48 L614.0 211.61 L614.5 211.75 L615.0 211.90 L615.5 212.06 L616.0 212.24 L616.5 212.43 L617.0 212.64 L617.5 212.88 L618.0 213.13 L618.5 213.42 L619.0 213.73 L619.5 214.09 L620.0 214.48 L620.5 214.92 L621.0 215.38 L621.5 215.87 L622.0 216.38 L622.5 216.90 L623.0 217.43 L623.5 217.96 L624.0 218.48 L624.5 219.00 L625.0 219.50 L625.5 220.00 L626.0 220.52 L626.5 221.04 L627.0 221.57 L627.5 222.10 L628.0 222.63 L628.5 223.15 L629.0 223.65 L629.5 224.14 L630.0 224.60 L630.5 225.02 L631.0 225.37 L631.5 225.67 L632.0 225.93 L632.5 226.13 L633.0 226.30 L633.5 226.44 L634.0 226.55 L634.5 226.63 L635.0 226.70 L635.5 226.75 L636.0 226.80 L636.5 226.85 L637.0 226.89 L637.5 226.94 L638.0 226.99 L638.5 227.03 L639.0 227.08 L639.5 227.12 L640.0 227.17 L640.5 227.21 L641.0 227.25 L641.5 227.30 L642.0 227.34 L642.5 227.38 L643.0 227.42 L643.5 227.45 L644.0 227.49 L644.5 227.53 L645.0 227.56 L645.5 227.59 L646.0 227.62 L646.5 227.65 L647.0 227.68 L647.5 227.70 L648.0 227.73 L648.5 227.75 L649.0 227.77 L649.5 227.79 L650.0 227.80 L650.5 227.81 L651.0 227.83 L651.5 227.84 L652.0 227.86 L652.5 227.87 L653.0 227.88 L653.5 227.90 L654.0 227.91 L654.5 227.93 L655.0 227.94 L655.5 227.96 L656.0 227.97 L656.5 227.99 L657.0 228.00 L657.5 228.01 L658.0 228.03 L658.5 228.04 L659.0 228.06 L659.5 228.07 L660.0 228.08 L660.5 228.10 L661.0 228.11 L661.5 228.12 L662.0 228.14 L662.5 228.15 L663.0 228.16 L663.5 228.17 L664.0 228.18 L664.5 228.19 L665.0 228.21 L665.5 228.22 L666.0 228.23 L666.5 228.23 L667.0 228.24 L667.5 228.25 L668.0 228.26 L668.5 228.27 L669.0 228.27 L669.5 228.28 L670.0 228.29 L670.5 228.29 L671.0 228.30 L671.5 228.30 L672.0 228.30 L672.5 228.30 L673.0 228.31 L673.5 228.31 L674.0 228.31 L674.5 228.31 L675.0 228.31 L675.5 228.30 L676.0 228.30" fill="none" stroke="#3cc8f5" stroke-width="1.0" stroke-linejoin="round"/>
<path d="M506.0 205.40 L506.5 205.41 L507.0 205.41 L507.5 205.42 L508.0 205.42 L508.5 205.43 L509.0 205.43 L509.5 205.44 L510.0 205.45 L510.5 205.45 L511.0 205.46 L511.5 205.47 L512.0 205.47 L512.5 205.48 L513.0 205.49 L513.5 205.49 L514.0 205.50 L514.5 205.51 L515.0 205.52 L515.5 205.52 L516.0 205.53 L516.5 205.54 L517.0 205.55 L517.5 205.56 L518.0 205.56 L518.5 205.57 L519.0 205.58 L519.5 205.59 L520.0 205.60 L520.5 205.61 L521.0 205.62 L521.5 205.62 L522.0 205.63 L522.5 205.64 L523.0 205.65 L523.5 205.66 L524.0 205.67 L524.5 205.68 L525.0 205.69 L525.5 205.70 L526.0 205.71 L526.5 205.72 L527.0 205.73 L527.5 205.74 L528.0 205.75 L528.5 205.76 L529.0 205.77 L529.5 205.78 L530.0 205.79 L530.5 205.80 L531.0 205.81 L531.5 205.82 L532.0 205.83 L532.5 205.84 L533.0 205.85 L533.5 205.86 L534.0 205.87 L534.5 205.88 L535.0 205.89 L535.5 205.90 L536.0 205.91 L536.5 205.92 L537.0 205.93 L537.5 205.94 L538.0 205.95 L538.5 205.96 L539.0 205.97 L539.5 205.98 L540.0 205.99 L540.5 206.00 L541.0 206.01 L541.5 206.02 L542.0 206.03 L542.5 206.04 L543.0 206.05 L543.5 206.06 L544.0 206.08 L544.5 206.09 L545.0 206.10 L545.5 206.11 L546.0 206.12 L546.5 206.13 L547.0 206.14 L547.5 206.15 L548.0 206.16 L548.5 206.17 L549.0 206.18 L549.5 206.19 L550.0 206.20 L550.5 206.21 L551.0 206.22 L551.5 206.24 L552.0 206.25 L552.5 206.26 L553.0 206.28 L553.5 206.30 L554.0 206.31 L554.5 206.33 L555.0 206.35 L555.5 206.37 L556.0 206.39 L556.5 206.40 L557.0 206.42 L557.5 206.44 L558.0 206.46 L558.5 206.48 L559.0 206.50 L559.5 206.52 L560.0 206.53 L560.5 206.55 L561.0 206.57 L561.5 206.58 L562.0 206.60 L562.5 206.61 L563.0 206.62 L563.5 206.62 L564.0 206.61 L564.5 206.59 L565.0 206.57 L565.5 206.54 L566.0 206.50 L566.5 206.45 L567.0 206.39 L567.5 206.32 L568.0 206.23 L568.5 206.10 L569.0 205.95 L569.5 205.77 L570.0 205.55 L570.5 205.32 L571.0 205.05 L571.5 204.77 L572.0 204.46 L572.5 204.14 L573.0 203.80 L573.5 203.45 L574.0 203.09 L574.5 202.73 L575.0 202.37 L575.5 202.00 L576.0 201.64 L576.5 201.28 L577.0 200.91 L577.5 200.55 L578.0 200.20 L578.5 199.85 L579.0 199.50 L579.5 199.16 L580.0 198.81 L580.5 198.47 L581.0 198.13 L581.5 197.80 L582.0 197.46 L582.5 197.13 L583.0 196.80 L583.5 196.49 L584.0 196.22 L584.5 195.98 L585.0 195.78 L585.5 195.61 L586.0 195.46 L586.5 195.34 L587.0 195.24 L587.5 195.16 L588.0 195.09 L588.5 195.04 L589.0 194.99 L589.5 194.98 L590.0 195.00 L590.5 195.06 L591.0 195.15 L591.5 195.29 L592.0 195.47 L592.5 195.69 L593.0 195.95 L593.5 196.25 L594.0 196.60 L594.5 196.99 L595.0 197.40 L595.5 197.85 L596.0 198.32 L596.5 198.82 L597.0 199.35 L597.5 199.91 L598.0 200.50 L598.5 201.12 L599.0 201.78 L599.5 202.46 L600.0 203.15 L600.5 203.84 L601.0 204.50 L601.5 205.14 L602.0 205.74 L602.5 206.33 L603.0 206.91 L603.5 207.47 L604.0 208.01 L604.5 208.50 L605.0 208.94 L605.5 209.31 L606.0 209.60 L606.5 209.85 L607.0 210.10 L607.5 210.35 L608.0 210.60 L608.5 210.85 L609.0 211.10 L609.5 211.35 L610.0 211.60 L610.5 211.85 L611.0 212.10 L611.5 212.35 L612.0 212.60 L612.5 212.85 L613.0 213.10 L613.5 213.35 L614.0 213.60 L614.5 213.85 L615.0 214.10 L615.5 214.35 L616.0 214.60 L616.5 214.85 L617.0 215.10 L617.5 215.35 L618.0 215.60 L618.5 215.88 L619.0 216.20 L619.5 216.56 L620.0 216.96 L620.5 217.38 L621.0 217.83 L621.5 218.29 L622.0 218.76 L622.5 219.23 L623.0 219.70 L623.5 220.16 L624.0 220.60 L624.5 221.05 L625.0 221.52 L625.5 222.01 L626.0 222.52 L626.5 223.02 L627.0 223.51 L627.5 223.98 L628.0 224.43 L628.5 224.84 L629.0 225.20 L629.5 225.51 L630.0 225.77 L630.5 225.99 L631.0 226.17 L631.5 226.32 L632.0 226.43 L632.5 226.52 L633.0 226.58 L633.5 226.64 L634.0 226.67 L634.5 226.70 L635.0 226.73 L635.5 226.76 L636.0 226.80 L636.5 226.84 L637.0 226.88 L637.5 226.93 L638.0 226.97 L638.5 227.01 L639.0 227.05 L639.5 227.10 L640.0 227.14 L640.5 227.18 L641.0 227.22 L641.5 227.27 L642.0 227.31 L642.5 227.35 L643.0 227.39 L643.5 227.43 L644.0 227.46 L644.5 227.50 L645.0 227.54 L645.5 227.57 L646.0 227.60 L646.5 227.63 L647.0 227.66 L647.5 227.69 L648.0 227.72 L648.5 227.74 L649.0 227.76 L649.5 227.78 L650.0 227.80 L650.5 227.82 L651.0 227.83 L651.5 227.85 L652.0 227.86 L652.5 227.88 L653.0 227.90 L653.5 227.91 L654.0 227.93 L654.5 227.94 L655.0 227.96 L655.5 227.97 L656.0 227.99 L656.5 228.00 L657.0 228.02 L657.5 228.03 L658.0 228.05 L658.5 228.06 L659.0 228.08 L659.5 228.09 L660.0 228.10 L660.5 228.12 L661.0 228.13 L661.5 228.14 L662.0 228.15 L662.5 228.17 L663.0 228.18 L663.5 228.19 L664.0 228.20 L664.5 228.21 L665.0 228.22 L665.5 228.23 L666.0 228.24 L666.5 228.25 L667.0 228.25 L667.5 228.26 L668.0 228.27 L668.5 228.27 L669.0 228.28 L669.5 228.29 L670.0 228.29 L670.5 228.30 L671.0 228.30 L671.5 228.30 L672.0 228.30 L672.5 228.31 L673.0 228.31 L673.5 228.31 L674.0 228.31 L674.5 228.31 L675.0 228.31 L675.5 228.30 L676.0 228.30" fill="none" stroke="#3cc8f5" stroke-width="1.0" stroke-linejoin="round"/>
<path d="M506.0 205.40 L506.5 205.41 L507.0 205.42 L507.5 205.43 L508.0 205.44 L508.5 205.45 L509.0 205.46 L509.5 205.47 L510.0 205.48 L510.5 205.49 L511.0 205.50 L511.5 205.51 L512.0 205.52 L512.5 205.53 L513.0 205.54 L513.5 205.55 L514.0 205.56 L514.5 205.58 L515.0 205.59 L515.5 205.60 L516.0 205.61 L516.5 205.62 L517.0 205.63 L517.5 205.64 L518.0 205.65 L518.5 205.67 L519.0 205.68 L519.5 205.69 L520.0 205.70 L520.5 205.71 L521.0 205.73 L521.5 205.74 L522.0 205.75 L522.5 205.76 L523.0 205.78 L523.5 205.79 L524.0 205.80 L524.5 205.81 L525.0 205.83 L525.5 205.84 L526.0 205.85 L526.5 205.86 L527.0 205.88 L527.5 205.89 L528.0 205.90 L528.5 205.92 L529.0 205.93 L529.5 205.94 L530.0 205.96 L530.5 205.97 L531.0 205.98 L531.5 206.00 L532.0 206.01 L532.5 206.02 L533.0 206.04 L533.5 206.05 L534.0 206.06 L534.5 206.08 L535.0 206.09 L535.5 206.10 L536.0 206.12 L536.5 206.13 L537.0 206.15 L537.5 206.16 L538.0 206.17 L538.5 206.19 L539.0 206.20 L539.5 206.21 L540.0 206.23 L540.5 206.24 L541.0 206.26 L541.5 206.27 L542.0 206.29 L542.5 206.30 L543.0 206.31 L543.5 206.33 L544.0 206.34 L544.5 206.36 L545.0 206.37 L545.5 206.38 L546.0 206.40 L546.5 206.41 L547.0 206.43 L547.5 206.44 L548.0 206.46 L548.5 206.47 L549.0 206.48 L549.5 206.50 L550.0 206.51 L550.5 206.53 L551.0 206.54 L551.5 206.56 L552.0 206.57 L552.5 206.59 L553.0 206.60 L553.5 206.61 L554.0 206.63 L554.5 206.64 L555.0 206.66 L555.5 206.67 L556.0 206.69 L556.5 206.70 L557.0 206.71 L557.5 206.73 L558.0 206.74 L558.5 206.76 L559.0 206.77 L559.5 206.79 L560.0 206.80 L560.5 206.81 L561.0 206.83 L561.5 206.85 L562.0 206.86 L562.5 206.88 L563.0 206.90 L563.5 206.91 L564.0 206.93 L564.5 206.95 L565.0 206.97 L565.5 206.99 L566.0 207.01 L566.5 207.03 L567.0 207.05 L567.5 207.07 L568.0 207.09 L568.5 207.11 L569.0 207.13 L569.5 207.16 L570.0 207.18 L570.5 207.20 L571.0 207.22 L571.5 207.24 L572.0 207.27 L572.5 207.29 L573.0 207.31 L573.5 207.33 L574.0 207.35 L574.5 207.38 L575.0 207.40 L575.5 207.42 L576.0 207.44 L576.5 207.46 L577.0 207.48 L577.5 207.50 L578.0 207.52 L578.5 207.54 L579.0 207.56 L579.5 207.58 L580.0 207.60 L580.5 207.62 L581.0 207.63 L581.5 207.63 L582.0 207.63 L582.5 207.63 L583.0 207.62 L583.5 207.61 L584.0 207.59 L584.5 207.57 L585.0 207.55 L585.5 207.53 L586.0 207.51 L586.5 207.48 L587.0 207.45 L587.5 207.43 L588.0 207.40 L588.5 207.36 L589.0 207.28 L589.5 207.17 L590.0 207.03 L590.5 206.86 L591.0 206.65 L591.5 206.42 L592.0 206.16 L592.5 205.86 L593.0 205.54 L593.5 205.17 L594.0 204.77 L594.5 204.33 L595.0 203.84 L595.5 203.32 L596.0 202.76 L596.5 202.15 L597.0 201.50 L597.5 200.83 L598.0 200.15 L598.5 199.46 L599.0 198.78 L599.5 198.09 L600.0 197.39 L600.5 196.70 L601.0 196.00 L601.5 195.30 L602.0 194.58 L602.5 193.86 L603.0 193.14 L603.5 192.42 L604.0 191.71 L604.5 191.00 L605.0 190.35 L605.5 189.81 L606.0 189.35 L606.5 188.97 L607.0 188.66 L607.5 188.41 L608.0 188.20 L608.5 188.08 L609.0 188.08 L609.5 188.21 L610.0 188.47 L610.5 188.86 L611.0 189.40 L611.5 190.04 L612.0 190.74 L612.5 191.50 L613.0 192.32 L613.5 193.21 L614.0 194.15 L614.5 195.10 L615.0 196.07 L615.5 197.05 L616.0 198.04 L616.5 199.05 L617.0 200.08 L617.5 201.12 L618.0 202.19 L618.5 203.28 L619.0 204.41 L619.5 205.62 L620.0 206.89 L620.5 208.19 L621.0 209.53 L621.5 210.86 L622.0 212.19 L622.5 213.48 L623.0 214.72 L623.5 215.90 L624.0 217.01 L624.5 218.08 L625.0 219.10 L625.5 220.06 L626.0 220.96 L626.5 221.79 L627.0 222.56 L627.5 223.25 L628.0 223.87 L628.5 224.40 L629.0 224.87 L629.5 225.28 L630.0 225.64 L630.5 225.94 L631.0 226.18 L631.5 226.36 L632.0 226.47 L632.5 226.53 L633.0 226.59 L633.5 226.65 L634.0 226.70 L634.5 226.76 L635.0 226.81 L635.5 226.87 L636.0 226.92 L636.5 226.97 L637.0 227.02 L637.5 227.07 L638.0 227.12 L638.5 227.17 L639.0 227.22 L639.5 227.26 L640.0 227.30 L640.5 227.35 L641.0 227.38 L641.5 227.42 L642.0 227.45 L642.5 227.49 L643.0 227.51 L643.5 227.54 L644.0 227.56 L644.5 227.58 L645.0 227.60 L645.5 227.62 L646.0 227.63 L646.5 227.65 L647.0 227.66 L647.5 227.68 L648.0 227.69 L648.5 227.71 L649.0 227.73 L649.5 227.74 L650.0 227.76 L650.5 227.78 L651.0 227.79 L651.5 227.81 L652.0 227.83 L652.5 227.84 L653.0 227.86 L653.5 227.88 L654.0 227.90 L654.5 227.91 L655.0 227.93 L655.5 227.95 L656.0 227.96 L656.5 227.98 L657.0 227.99 L657.5 228.01 L658.0 228.03 L658.5 228.04 L659.0 228.06 L659.5 228.07 L660.0 228.09 L660.5 228.10 L661.0 228.12 L661.5 228.13 L662.0 228.14 L662.5 228.16 L663.0 228.17 L663.5 228.18 L664.0 228.19 L664.5 228.20 L665.0 228.22 L665.5 228.23 L666.0 228.24 L666.5 228.25 L667.0 228.25 L667.5 228.26 L668.0 228.27 L668.5 228.28 L669.0 228.28 L669.5 228.29 L670.0 228.30 L670.5 228.30 L671.0 228.30 L671.5 228.31 L672.0 228.31 L672.5 228.31 L673.0 228.31 L673.5 228.31 L674.0 228.31 L674.5 228.31 L675.0 228.31 L675.5 228.30 L676.0 228.30" fill="none" stroke="#3cc8f5" stroke-width="1.0" stroke-linejoin="round"/>
<path d="M506.0 205.50 L506.5 205.50 L507.0 205.50 L507.5 205.50 L508.0 205.50 L508.5 205.50 L509.0 205.50 L509.5 205.50 L510.0 205.50 L510.5 205.50 L511.0 205.51 L511.5 205.51 L512.0 205.51 L512.5 205.51 L513.0 205.51 L513.5 205.51 L514.0 205.51 L514.5 205.52 L515.0 205.52 L515.5 205.52 L516.0 205.52 L516.5 205.53 L517.0 205.53 L517.5 205.53 L518.0 205.54 L518.5 205.54 L519.0 205.54 L519.5 205.55 L520.0 205.55 L520.5 205.55 L521.0 205.56 L521.5 205.56 L522.0 205.57 L522.5 205.57 L523.0 205.58 L523.5 205.58 L524.0 205.59 L524.5 205.59 L525.0 205.60 L525.5 205.61 L526.0 205.61 L526.5 205.62 L527.0 205.63 L527.5 205.63 L528.0 205.64 L528.5 205.65 L529.0 205.66 L529.5 205.66 L530.0 205.67 L530.5 205.68 L531.0 205.69 L531.5 205.70 L532.0 205.71 L532.5 205.72 L533.0 205.73 L533.5 205.74 L534.0 205.75 L534.5 205.76 L535.0 205.77 L535.5 205.78 L536.0 205.79 L536.5 205.81 L537.0 205.82 L537.5 205.83 L538.0 205.84 L538.5 205.86 L539.0 205.87 L539.5 205.89 L540.0 205.90 L540.5 205.91 L541.0 205.93 L541.5 205.94 L542.0 205.96 L542.5 205.98 L543.0 205.99 L543.5 206.01 L544.0 206.02 L544.5 206.04 L545.0 206.06 L545.5 206.07 L546.0 206.09 L546.5 206.11 L547.0 206.13 L547.5 206.14 L548.0 206.16 L548.5 206.18 L549.0 206.20 L549.5 206.21 L550.0 206.23 L550.5 206.25 L551.0 206.27 L551.5 206.29 L552.0 206.31 L552.5 206.32 L553.0 206.34 L553.5 206.36 L554.0 206.38 L554.5 206.40 L555.0 206.42 L555.5 206.43 L556.0 206.45 L556.5 206.47 L557.0 206.49 L557.5 206.51 L558.0 206.53 L558.5 206.55 L559.0 206.56 L559.5 206.58 L560.0 206.60 L560.5 206.62 L561.0 206.64 L561.5 206.66 L562.0 206.68 L562.5 206.70 L563.0 206.72 L563.5 206.74 L564.0 206.77 L564.5 206.79 L565.0 206.81 L565.5 206.84 L566.0 206.86 L566.5 206.88 L567.0 206.91 L567.5 206.93 L568.0 206.96 L568.5 206.98 L569.0 207.00 L569.5 207.03 L570.0 207.05 L570.5 207.08 L571.0 207.10 L571.5 207.12 L572.0 207.15 L572.5 207.17 L573.0 207.19 L573.5 207.21 L574.0 207.23 L574.5 207.25 L575.0 207.27 L575.5 207.29 L576.0 207.31 L576.5 207.33 L577.0 207.35 L577.5 207.36 L578.0 207.38 L578.5 207.39 L579.0 207.41 L579.5 207.41 L580.0 207.41 L580.5 207.40 L581.0 207.38 L581.5 207.36 L582.0 207.34 L582.5 207.30 L583.0 207.27 L583.5 207.23 L584.0 207.18 L584.5 207.14 L585.0 207.09 L585.5 207.04 L586.0 206.99 L586.5 206.94 L587.0 206.89 L587.5 206.83 L588.0 206.78 L588.5 206.73 L589.0 206.69 L589.5 206.64 L590.0 206.60 L590.5 206.56 L591.0 206.52 L591.5 206.47 L592.0 206.42 L592.5 206.36 L593.0 206.30 L593.5 206.24 L594.0 206.17 L594.5 206.09 L595.0 206.00 L595.5 205.88 L596.0 205.72 L596.5 205.52 L597.0 205.27 L597.5 204.99 L598.0 204.67 L598.5 204.32 L599.0 203.95 L599.5 203.56 L600.0 203.14 L600.5 202.71 L601.0 202.27 L601.5 201.82 L602.0 201.37 L602.5 200.91 L603.0 200.44 L603.5 199.97 L604.0 199.50 L604.5 199.02 L605.0 198.54 L605.5 198.04 L606.0 197.54 L606.5 197.03 L607.0 196.51 L607.5 195.99 L608.0 195.31 L608.5 194.45 L609.0 193.49 L609.5 192.50 L610.0 191.32 L610.5 189.75 L611.0 187.83 L611.5 185.48 L612.0 182.55 L612.5 179.05 L613.0 175.00 L613.5 170.53 L614.0 165.83 L614.5 160.98 L615.0 156.04 L615.5 150.94 L616.0 145.62 L616.5 140.00 L617.0 133.25 L617.5 125.29 L618.0 117.19 L618.5 110.00 L619.0 104.15 L619.5 98.90 L620.0 93.57 L620.5 87.47 L621.0 80.46 L621.5 73.35 L622.0 66.25 L622.5 59.18 L623.0 52.19 L623.5 45.41 L624.0 41.60 L624.5 44.31 L625.0 50.48 L625.5 57.78 L626.0 69.55 L626.5 82.69 L627.0 95.11 L627.5 107.33 L628.0 118.61 L628.5 129.10 L629.0 139.33 L629.5 149.38 L630.0 159.34 L630.5 171.52 L631.0 180.87 L631.5 186.08 L632.0 190.27 L632.5 194.28 L633.0 197.75 L633.5 200.70 L634.0 203.46 L634.5 205.88 L635.0 207.81 L635.5 209.20 L636.0 210.43 L636.5 211.57 L637.0 212.62 L637.5 213.58 L638.0 214.44 L638.5 215.19 L639.0 215.84 L639.5 216.46 L640.0 217.09 L640.5 217.71 L641.0 218.30 L641.5 218.85 L642.0 219.35 L642.5 219.79 L643.0 220.15 L643.5 220.50 L644.0 220.83 L644.5 221.17 L645.0 221.49 L645.5 221.81 L646.0 222.12 L646.5 222.41 L647.0 222.70 L647.5 222.97 L648.0 223.23 L648.5 223.48 L649.0 223.70 L649.5 223.91 L650.0 224.11 L650.5 224.30 L651.0 224.48 L651.5 224.67 L652.0 224.86 L652.5 225.04 L653.0 225.21 L653.5 225.38 L654.0 225.55 L654.5 225.70 L655.0 225.84 L655.5 225.97 L656.0 226.09 L656.5 226.19 L657.0 226.27 L657.5 226.36 L658.0 226.43 L658.5 226.51 L659.0 226.58 L659.5 226.66 L660.0 226.73 L660.5 226.80 L661.0 226.86 L661.5 226.93 L662.0 227.00 L662.5 227.06 L663.0 227.13 L663.5 227.20 L664.0 227.26 L664.5 227.33 L665.0 227.40 L665.5 227.47 L666.0 227.54 L666.5 227.61 L667.0 227.69 L667.5 227.76 L668.0 227.84 L668.5 227.92 L669.0 228.01 L669.5 228.09 L670.0 228.18 L670.5 228.27 L671.0 228.36 L671.5 228.44 L672.0 228.53 L672.5 228.62 L673.0 228.71 L673.5 228.80 L674.0 228.89 L674.5 228.99 L675.0 229.08 L675.5 229.18 L675.9 229.25" fill="none" stroke="#0c0cf6" stroke-width="1.1" stroke-linejoin="round"/>
<path d="M506.0 205.40 L506.5 205.39 L507.0 205.39 L507.5 205.38 L508.0 205.37 L508.5 205.37 L509.0 205.36 L509.5 205.36 L510.0 205.35 L510.5 205.35 L511.0 205.34 L511.5 205.34 L512.0 205.34 L512.5 205.33 L513.0 205.33 L513.5 205.33 L514.0 205.33 L514.5 205.32 L515.0 205.32 L515.5 205.32 L516.0 205.32 L516.5 205.32 L517.0 205.32 L517.5 205.32 L518.0 205.32 L518.5 205.32 L519.0 205.32 L519.5 205.32 L520.0 205.32 L520.5 205.32 L521.0 205.32 L521.5 205.33 L522.0 205.33 L522.5 205.33 L523.0 205.33 L523.5 205.34 L524.0 205.34 L524.5 205.34 L525.0 205.35 L525.5 205.35 L526.0 205.36 L526.5 205.36 L527.0 205.37 L527.5 205.37 L528.0 205.38 L528.5 205.39 L529.0 205.39 L529.5 205.40 L530.0 205.41 L530.5 205.41 L531.0 205.42 L531.5 205.43 L532.0 205.44 L532.5 205.44 L533.0 205.45 L533.5 205.46 L534.0 205.47 L534.5 205.48 L535.0 205.49 L535.5 205.50 L536.0 205.51 L536.5 205.52 L537.0 205.53 L537.5 205.54 L538.0 205.55 L538.5 205.56 L539.0 205.58 L539.5 205.59 L540.0 205.60 L540.5 205.61 L541.0 205.63 L541.5 205.64 L542.0 205.65 L542.5 205.67 L543.0 205.68 L543.5 205.70 L544.0 205.72 L544.5 205.73 L545.0 205.75 L545.5 205.77 L546.0 205.79 L546.5 205.80 L547.0 205.82 L547.5 205.84 L548.0 205.86 L548.5 205.88 L549.0 205.90 L549.5 205.92 L550.0 205.95 L550.5 205.97 L551.0 205.99 L551.5 206.01 L552.0 206.04 L552.5 206.06 L553.0 206.08 L553.5 206.11 L554.0 206.13 L554.5 206.16 L555.0 206.18 L555.5 206.21 L556.0 206.23 L556.5 206.26 L557.0 206.29 L557.5 206.31 L558.0 206.34 L558.5 206.37 L559.0 206.39 L559.5 206.42 L560.0 206.45 L560.5 206.48 L561.0 206.51 L561.5 206.53 L562.0 206.56 L562.5 206.59 L563.0 206.62 L563.5 206.65 L564.0 206.68 L564.5 206.71 L565.0 206.74 L565.5 206.77 L566.0 206.80 L566.5 206.83 L567.0 206.86 L567.5 206.89 L568.0 206.93 L568.5 206.96 L569.0 206.99 L569.5 207.03 L570.0 207.07 L570.5 207.10 L571.0 207.14 L571.5 207.18 L572.0 207.21 L572.5 207.25 L573.0 207.29 L573.5 207.33 L574.0 207.37 L574.5 207.42 L575.0 207.46 L575.5 207.50 L576.0 207.54 L576.5 207.59 L577.0 207.63 L577.5 207.68 L578.0 207.73 L578.5 207.77 L579.0 207.82 L579.5 207.87 L580.0 207.92 L580.5 207.96 L581.0 208.01 L581.5 208.06 L582.0 208.11 L582.5 208.17 L583.0 208.22 L583.5 208.27 L584.0 208.32 L584.5 208.38 L585.0 208.43 L585.5 208.49 L586.0 208.54 L586.5 208.60 L587.0 208.65 L587.5 208.71 L588.0 208.77 L588.5 208.82 L589.0 208.88 L589.5 208.94 L590.0 209.00 L590.5 209.06 L591.0 209.13 L591.5 209.20 L592.0 209.27 L592.5 209.34 L593.0 209.43 L593.5 209.51 L594.0 209.60 L594.5 209.69 L595.0 209.79 L595.5 209.89 L596.0 210.00 L596.5 210.11 L597.0 210.23 L597.5 210.35 L598.0 210.47 L598.5 210.60 L599.0 210.73 L599.5 210.86 L600.0 210.99 L600.5 211.13 L601.0 211.26 L601.5 211.40 L602.0 211.54 L602.5 211.68 L603.0 211.82 L603.5 211.97 L604.0 212.11 L604.5 212.25 L605.0 212.40 L605.5 212.55 L606.0 212.69 L606.5 212.84 L607.0 212.98 L607.5 213.13 L608.0 213.28 L608.5 213.43 L609.0 213.58 L609.5 213.73 L610.0 213.89 L610.5 214.05 L611.0 214.21 L611.5 214.37 L612.0 214.54 L612.5 214.71 L613.0 214.89 L613.5 215.06 L614.0 215.25 L614.5 215.46 L615.0 215.69 L615.5 215.94 L616.0 216.23 L616.5 216.54 L617.0 216.88 L617.5 217.25 L618.0 217.63 L618.5 218.01 L619.0 218.39 L619.5 218.77 L620.0 219.14 L620.5 219.52 L621.0 219.90 L621.5 220.28 L622.0 220.66 L622.5 221.04 L623.0 221.42 L623.5 221.80 L624.0 222.18 L624.5 222.56 L625.0 222.94 L625.5 223.32 L626.0 223.70 L626.5 224.08 L627.0 224.46 L627.5 224.84 L628.0 225.22 L628.5 225.60 L629.0 225.96 L629.5 226.27 L630.0 226.54 L630.5 226.77 L631.0 226.97 L631.5 227.13 L632.0 227.27 L632.5 227.39 L633.0 227.48 L633.5 227.56 L634.0 227.63 L634.5 227.68 L635.0 227.73 L635.5 227.78 L636.0 227.82 L636.5 227.87 L637.0 227.91 L637.5 227.95 L638.0 228.00 L638.5 228.04 L639.0 228.08 L639.5 228.11 L640.0 228.15 L640.5 228.18 L641.0 228.22 L641.5 228.25 L642.0 228.28 L642.5 228.30 L643.0 228.33 L643.5 228.35 L644.0 228.37 L644.5 228.39 L645.0 228.40 L645.5 228.41 L646.0 228.43 L646.5 228.44 L647.0 228.45 L647.5 228.47 L648.0 228.48 L648.5 228.50 L649.0 228.51 L649.5 228.52 L650.0 228.54 L650.5 228.55 L651.0 228.57 L651.5 228.58 L652.0 228.60 L652.5 228.61 L653.0 228.62 L653.5 228.64 L654.0 228.65 L654.5 228.67 L655.0 228.68 L655.5 228.69 L656.0 228.71 L656.5 228.72 L657.0 228.73 L657.5 228.75 L658.0 228.76 L658.5 228.77 L659.0 228.79 L659.5 228.80 L660.0 228.81 L660.5 228.82 L661.0 228.83 L661.5 228.85 L662.0 228.86 L662.5 228.87 L663.0 228.88 L663.5 228.89 L664.0 228.90 L664.5 228.91 L665.0 228.92 L665.5 228.93 L666.0 228.93 L666.5 228.94 L667.0 228.95 L667.5 228.96 L668.0 228.96 L668.5 228.97 L669.0 228.98 L669.5 228.98 L670.0 228.99 L670.5 228.99 L671.0 228.99 L671.5 229.00 L672.0 229.00 L672.5 229.00 L673.0 229.00 L673.5 229.00 L674.0 229.00 L674.5 229.00 L675.0 229.00 L675.5 229.00 L676.0 229.00" fill="none" stroke="#858585" stroke-width="1.05" stroke-linejoin="round"/>
<path d="M372.3 198.40 L372.8 198.62 L373.3 198.29 L373.8 197.52 L374.3 197.03 L374.8 197.00 L375.3 197.16 L375.8 197.15 L376.3 196.88 L376.8 196.72 L377.3 197.14 L377.8 197.33 L378.3 197.25 L378.8 197.08 L379.3 197.11 L379.8 197.45 L380.3 197.62 L380.8 197.48 L381.3 197.48 L381.8 197.46 L382.3 197.06 L382.8 196.94 L383.3 197.20 L383.8 197.00 L384.3 196.66 L384.8 196.80 L385.3 196.94 L385.8 196.79 L386.3 196.92 L386.8 197.55 L387.3 197.93 L387.8 197.69 L388.3 197.54 L388.8 197.83 L389.3 197.98 L389.8 197.93 L390.3 198.07 L390.8 198.07 L391.3 197.63 L391.8 197.38 L392.3 197.61 L392.8 197.87 L393.3 197.67 L393.8 197.04 L394.3 196.64 L394.8 196.45 L395.3 196.50 L395.8 197.02 L396.3 197.35 L396.8 197.48 L397.3 197.87 L397.8 198.00 L398.3 197.82 L398.8 197.65 L399.3 197.32 L399.8 196.95 L400.3 197.04 L400.8 196.89 L401.3 196.48 L401.8 196.62 L402.3 196.91 L402.8 196.97 L403.3 196.78 L403.8 196.69 L404.3 196.60 L404.8 196.49 L405.3 196.61 L405.8 196.67 L406.3 196.60 L406.8 196.61 L407.3 196.82 L407.8 196.77 L408.3 196.60 L408.8 196.82 L409.3 197.12 L409.8 196.79 L410.3 196.13 L410.8 196.13 L411.3 196.15 L411.8 195.78 L412.3 195.63 L412.8 195.72 L413.3 195.63 L413.8 195.84 L414.3 195.76 L414.8 195.08 L415.3 194.74 L415.8 194.89 L416.3 195.59 L416.8 196.29 L417.3 195.98 L417.8 194.99 L418.3 194.88 L418.8 195.57 L419.3 195.88 L419.8 195.43 L420.3 194.93 L420.8 194.87 L421.3 194.81 L421.8 194.59 L422.3 194.54 L422.8 194.75 L423.3 194.80 L423.8 194.55 L424.3 194.15 L424.8 193.90 L425.3 194.23 L425.8 194.60 L426.3 194.29 L426.8 194.14 L427.3 194.72 L427.8 195.22 L428.3 195.24 L428.8 194.57 L429.3 193.83 L429.8 193.88 L430.3 194.79 L430.8 195.05 L431.3 194.20 L431.8 193.71 L432.3 193.70 L432.8 193.48 L433.3 193.33 L433.8 193.42 L434.3 193.67 L434.8 193.79 L435.3 193.59 L435.8 193.28 L436.3 192.79 L436.8 192.08 L437.3 191.32 L437.8 191.34 L438.3 191.83 L438.8 191.97 L439.3 192.11 L439.8 192.34 L440.3 192.47 L440.8 192.35 L441.3 191.96 L441.8 191.33 L442.3 190.77 L442.8 190.51 L443.3 190.38 L443.8 190.26 L444.3 190.38 L444.8 190.60 L445.3 190.53 L445.8 189.97 L446.3 189.51 L446.8 189.76 L447.3 190.21 L447.8 190.31 L448.3 189.82 L448.8 189.14 L449.3 189.13 L449.8 189.62 L450.3 189.74 L450.8 189.61 L451.3 188.95 L451.8 187.86 L452.3 187.32 L452.8 187.16 L453.3 186.92 L453.8 186.53 L454.3 186.00 L454.8 185.31 L455.3 184.69 L455.8 184.52 L456.3 184.53 L456.8 184.57 L457.3 184.64 L457.8 184.85 L458.3 184.89 L458.8 184.62 L459.3 184.25 L459.8 183.80 L460.3 183.33 L460.8 182.97 L461.3 182.71 L461.8 182.52 L462.3 182.16 L462.8 181.51 L463.3 180.81 L463.8 180.34 L464.3 179.61 L464.8 178.91 L465.3 178.46 L465.8 178.07 L466.3 177.58 L466.8 176.79 L467.3 176.06 L467.8 175.88 L468.3 175.82 L468.8 175.02 L469.3 173.95 L469.8 173.21 L470.3 172.74 L470.8 172.32 L471.3 171.43 L471.8 170.73 L472.3 169.92 L472.8 168.91 L473.3 168.49 L473.8 168.14 L474.3 167.35 L474.8 166.47 L475.3 165.63 L475.8 164.60 L476.3 163.42 L476.8 162.18 L477.3 160.83 L477.8 159.44 L478.3 158.14 L478.8 156.42 L479.3 154.82 L479.8 153.97 L480.3 153.27 L480.8 152.16 L481.3 151.11 L481.8 150.58 L482.3 150.20 L482.8 149.91 L483.3 149.60 L483.8 149.50 L484.3 150.16 L484.8 150.94 L485.3 151.69 L485.8 152.63 L486.3 154.11 L486.8 156.43 L487.3 159.33 L487.8 161.87 L488.3 163.90 L488.8 165.89 L489.3 167.64 L489.8 169.69 L490.3 172.68 L490.8 175.83 L491.3 178.70 L491.8 181.57 L492.3 183.99 L492.8 185.70 L493.3 187.44 L493.8 189.52 L494.3 191.45 L494.8 193.31 L495.3 195.31 L495.8 196.79 L496.3 197.60 L496.8 198.49 L497.3 199.24 L497.8 199.72 L498.3 199.95 L498.8 200.17 L499.3 200.85 L499.8 201.40 L500.3 200.73 L500.8 201.01 L501.3 201.26 L501.8 201.50 L502.3 201.73 L502.8 201.96 L503.3 202.21 L503.8 202.48 L504.3 202.81 L504.8 203.24 L505.3 203.74 L505.8 204.22 L506.3 204.62 L506.8 204.89 L507.3 205.11 L507.8 205.29 L508.3 205.45 L508.8 205.58 L509.3 205.68 L509.8 205.75 L510.3 205.79 L510.8 205.81 L511.3 205.80 L511.8 205.78 L512.3 205.76 L512.8 205.73 L513.3 205.71 L513.8 205.69 L514.3 205.66 L514.8 205.64 L515.3 205.62 L515.8 205.59 L516.3 205.57 L516.8 205.54 L517.3 205.52 L517.8 205.50 L518.3 205.47 L518.8 205.45 L519.3 205.43 L519.8 205.41 L520.3 205.66 L520.8 205.97 L521.3 206.11 L521.8 206.13 L522.3 205.81 L522.8 205.04 L523.3 204.55 L523.8 204.59 L524.3 205.09 L524.8 205.51 L525.3 205.43 L525.8 204.98 L526.3 204.56 L526.8 204.68 L527.3 205.18 L527.8 205.81 L528.3 205.99 L528.8 205.72 L529.3 205.45 L529.8 205.41 L530.3 205.27 L530.8 204.88 L531.3 204.62 L531.8 204.52 L532.3 204.37 L532.8 204.27 L533.3 204.27 L533.8 204.33 L534.3 204.30 L534.8 204.13 L535.3 204.15 L535.8 203.94 L536.3 203.53 L536.8 203.35 L537.3 203.51 L537.8 203.66 L538.3 203.63 L538.8 203.57 L539.3 203.86 L539.8 204.13 L540.3 203.76 L540.8 203.33 L541.3 203.29 L541.8 203.21 L542.3 203.13 L542.8 202.83 L543.3 202.11 L543.8 201.58 L544.3 201.82 L544.8 202.15 L545.3 202.17 L545.8 202.25 L546.3 202.23 L546.8 202.12 L547.3 202.42 L547.8 202.66 L548.3 202.54 L548.8 202.39 L549.3 202.40 L549.8 202.23 L550.3 201.58 L550.8 201.03 L551.3 200.62 L551.8 199.95 L552.3 199.49 L552.8 199.68 L553.3 200.06 L553.8 199.82 L554.3 199.03 L554.8 198.69 L555.3 199.01 L555.8 199.34 L556.3 199.55 L556.8 199.82 L557.3 199.85 L557.8 199.51 L558.3 198.93 L558.8 198.25 L559.3 198.05 L559.8 198.44 L560.3 198.78 L560.8 198.81 L561.3 198.69 L561.8 198.47 L562.3 197.84 L562.8 197.04 L563.3 196.96 L563.8 197.29 L564.3 197.15 L564.8 196.83 L565.3 196.86 L565.8 196.68 L566.3 196.48 L566.8 196.49 L567.3 196.24 L567.8 195.88 L568.3 195.88 L568.8 195.62 L569.3 195.04 L569.8 194.44 L570.3 193.97 L570.8 194.07 L571.3 194.25 L571.8 194.05 L572.3 193.87 L572.8 193.85 L573.3 193.92 L573.8 193.86 L574.3 193.46 L574.8 193.20 L575.3 193.39 L575.8 193.37 L576.3 192.71 L576.8 191.99 L577.3 191.66 L577.8 191.94 L578.3 192.07 L578.8 191.70 L579.3 190.93 L579.8 190.44 L580.3 190.50 L580.8 190.17 L581.3 189.30 L581.8 188.84 L582.3 189.04 L582.8 189.38 L583.3 189.36 L583.8 188.50 L584.3 187.65 L584.8 187.07 L585.3 186.57 L585.8 186.72 L586.3 187.04 L586.8 186.56 L587.3 185.76 L587.8 185.46 L588.3 185.68 L588.8 185.71 L589.3 185.31 L589.8 184.93 L590.3 184.80 L590.8 184.60 L591.3 184.25 L591.8 183.78 L592.3 183.09 L592.8 182.92 L593.3 183.19 L593.8 183.20 L594.3 183.09 L594.8 183.36 L595.3 183.55 L595.8 183.27 L596.3 182.91 L596.8 182.54 L597.3 181.78 L597.8 180.92 L598.3 180.56 L598.8 180.16 L599.3 179.26 L599.8 178.55 L600.3 178.04 L600.8 177.35 L601.3 176.66 L601.8 176.00 L602.3 175.41 L602.8 174.88 L603.3 174.37 L603.8 173.80 L604.3 173.11 L604.8 172.24 L605.3 171.11 L605.8 169.68 L606.3 168.11 L606.8 166.50 L607.3 164.87 L607.8 163.22 L608.3 161.57 L608.8 159.92 L609.3 158.29 L609.8 156.68 L610.3 155.07 L610.8 153.47 L611.3 151.87 L611.8 150.26 L612.3 148.65 L612.8 147.20 L613.3 145.47 L613.8 142.59 L614.3 137.89 L614.8 132.71 L615.3 127.51 L615.8 122.30 L616.3 117.08 L616.8 111.89 L617.3 106.73 L617.8 101.58 L618.3 96.42 L618.8 91.24 L619.3 86.02 L619.8 80.48 L620.3 74.53 L620.8 68.39 L621.3 62.28 L621.8 56.40 L622.3 50.64 L622.8 44.93 L623.3 39.46 L623.8 35.72 L624.3 35.67 L624.8 41.77 L625.3 51.90 L625.8 63.00 L626.3 74.33 L626.8 85.99 L627.3 98.21 L627.8 110.33 L628.3 121.34 L628.8 131.70 L629.3 141.89 L629.8 151.85 L630.3 162.03 L630.8 174.56 L631.3 182.17 L631.8 186.82 L632.3 191.00 L632.8 194.86 L633.3 197.92 L633.8 200.53 L634.3 202.86 L634.8 204.83 L635.3 206.33 L635.8 207.43 L636.3 208.49 L636.8 209.49 L637.3 210.42 L637.8 211.28 L638.3 212.04 L638.8 212.71 L639.3 213.28 L639.8 213.85 L640.3 214.43 L640.8 214.99 L641.3 215.52 L641.8 216.01 L642.3 216.46 L642.8 216.84 L643.3 217.15 L643.8 217.46 L644.3 217.77 L644.8 218.07 L645.3 218.37 L645.8 218.67 L646.3 218.96 L646.8 219.25 L647.3 219.53 L647.8 219.81 L648.3 220.08 L648.8 220.35 L649.3 220.61 L649.8 220.86 L650.3 221.16 L650.8 220.67 L651.3 221.40 L651.8 222.45 L652.3 223.11 L652.8 223.56 L653.3 223.75 L653.8 223.37 L654.3 223.19 L654.8 223.59 L655.3 223.80 L655.8 223.73 L656.3 224.02 L656.8 224.58 L657.3 224.67 L657.8 224.24 L658.3 223.88 L658.8 224.21 L659.3 225.21 L659.8 225.79 L660.3 226.18 L660.8 226.66 L661.3 227.18 L661.8 227.21 L662.3 226.90 L662.8 226.61 L663.3 226.27 L663.8 226.13 L664.3 225.98 L664.8 226.48 L665.3 227.04 L665.8 226.85 L666.3 226.37 L666.8 226.26 L667.3 226.83 L667.8 227.62 L668.3 227.69 L668.8 227.08 L669.3 226.77 L669.8 226.87 L670.3 226.69 L670.8 226.77 L671.3 227.34 L671.8 228.04 L672.3 228.38 L672.8 228.42 L673.3 228.26 L673.8 228.25 L674.3 228.83 L674.8 229.27 L675.3 229.12 L675.8 228.94 L676.0 228.74" fill="none" stroke="#1a1a1a" stroke-width="1.2" stroke-linejoin="round"/>
<path d="M504.0 202.60 L504.5 203.16 L505.0 203.67 L505.5 204.12 L506.0 204.49 L506.5 204.76 L507.0 204.95 L507.5 205.14 L508.0 205.30 L508.5 205.45 L509.0 205.57 L509.5 205.67 L510.0 205.75 L510.5 205.79 L511.0 205.81 L511.5 205.79 L512.0 205.77 L512.5 205.75 L513.0 205.72 L513.5 205.70 L514.0 205.68 L514.5 205.65 L515.0 205.63 L515.5 205.61 L516.0 205.58 L516.5 205.56 L517.0 205.53 L517.5 205.51 L518.0 205.49 L518.5 205.47 L519.0 205.44 L519.5 205.42 L520.0 205.40 L520.5 205.38 L521.0 205.36 L521.5 205.34 L522.0 205.32 L522.5 205.30 L523.0 205.29 L523.5 205.27 L524.0 205.25 L524.5 205.23 L525.0 205.22 L525.5 205.20 L526.0 205.18 L526.5 205.16 L527.0 205.14 L527.5 205.12 L528.0 205.10 L528.5 205.08 L529.0 205.05 L529.5 205.03 L530.0 205.00 L530.5 204.97 L531.0 204.93 L531.5 204.88 L532.0 204.83 L532.5 204.77 L533.0 204.70 L533.5 204.63 L534.0 204.56 L534.5 204.47 L535.0 204.39 L535.5 204.29 L536.0 204.20 L536.5 204.10 L537.0 204.00 L537.5 203.89 L538.0 203.78 L538.5 203.67 L539.0 203.55 L539.5 203.44 L540.0 203.32 L540.5 203.20 L541.0 203.08 L541.5 202.96 L542.0 202.84 L542.5 202.72 L543.0 202.60 L543.5 202.48 L544.0 202.36 L544.5 202.24 L545.0 202.13 L545.5 202.01 L546.0 201.90 L546.5 201.79 L547.0 201.68 L547.5 201.57 L548.0 201.45 L548.5 201.34 L549.0 201.23 L549.5 201.11 L550.0 201.00 L550.5 200.88 L551.0 200.77 L551.5 200.65 L552.0 200.53 L552.5 200.41 L553.0 200.30 L553.5 200.18 L554.0 200.06 L554.5 199.94 L555.0 199.82 L555.5 199.69 L556.0 199.57 L556.5 199.45 L557.0 199.32 L557.5 199.20 L558.0 199.07 L558.5 198.95 L559.0 198.82 L559.5 198.69 L560.0 198.57 L560.5 198.44 L561.0 198.31 L561.5 198.18 L562.0 198.05 L562.5 197.92 L563.0 197.79 L563.5 197.65 L564.0 197.52 L564.5 197.39 L565.0 197.25 L565.5 197.12 L566.0 196.98 L566.5 196.84 L567.0 196.70 L567.5 196.56 L568.0 196.40 L568.5 196.25 L569.0 196.08 L569.5 195.92 L570.0 195.74 L570.5 195.57 L571.0 195.38 L571.5 195.20 L572.0 195.01 L572.5 194.81 L573.0 194.61 L573.5 194.40 L574.0 194.20 L574.5 193.98 L575.0 193.77 L575.5 193.55 L576.0 193.32 L576.5 193.09 L577.0 192.86 L577.5 192.62 L578.0 192.39 L578.5 192.14 L579.0 191.90 L579.5 191.65 L580.0 191.39 L580.5 191.11 L581.0 190.82 L581.5 190.51 L582.0 190.20 L582.5 189.87 L583.0 189.54 L583.5 189.20 L584.0 188.86 L584.5 188.51 L585.0 188.16 L585.5 187.82 L586.0 187.48 L586.5 187.14 L587.0 186.80 L587.5 186.48 L588.0 186.16 L588.5 185.86 L589.0 185.58 L589.5 185.33 L590.0 185.11 L590.5 184.91 L591.0 184.73 L591.5 184.57 L592.0 184.41 L592.5 184.26 L593.0 184.10 L593.5 183.93 L594.0 183.74 L594.5 183.54 L595.0 183.31 L595.5 183.04 L596.0 182.74 L596.5 182.40 L597.0 182.00 L597.5 181.52 L598.0 180.99 L598.5 180.40 L599.0 179.78 L599.5 179.12 L600.0 178.45 L600.5 177.76 L601.0 177.07 L601.5 176.40 L602.0 175.75 L602.5 175.19 L603.0 174.68 L603.5 174.15 L604.0 173.54 L604.5 172.79 L605.0 171.82 L605.5 170.59 L606.0 169.07 L606.5 167.49 L607.0 165.87 L607.5 164.23 L608.0 162.59 L608.5 160.94 L609.0 159.30 L609.5 157.68 L610.0 156.07 L610.5 154.47 L611.0 152.87 L611.5 151.27 L612.0 149.66 L612.5 148.10 L613.0 146.64 L613.5 144.56 L614.0 140.98 L614.5 135.88 L615.0 130.70 L615.5 125.49 L616.0 120.28 L616.5 115.07 L617.0 109.90 L617.5 104.74 L618.0 99.58 L618.5 94.41 L619.0 89.23 L619.5 83.96 L620.0 78.23 L620.5 72.17 L621.0 66.01 L621.5 60.00 L622.0 54.24 L622.5 48.60 L623.0 43.00 L623.5 38.16 L624.0 35.60 L624.5 38.00 L625.0 45.85 L625.5 56.56 L626.0 67.66 L626.5 79.07 L627.0 90.93 L627.5 103.27 L628.0 115.00 L628.5 125.66 L629.0 135.92 L629.5 146.05 L630.0 155.98 L630.5 167.26 L631.0 178.36 L631.5 184.39 L632.0 188.67 L632.5 192.76 L633.0 196.43 L633.5 199.48 L634.0 202.31 L634.5 204.84 L635.0 206.94 L635.5 208.46 L636.0 209.72 L636.5 210.89 L637.0 211.97 L637.5 212.95 L638.0 213.84 L638.5 214.62 L639.0 215.30 L639.5 215.93 L640.0 216.55 L640.5 217.17 L641.0 217.77 L641.5 218.34 L642.0 218.86 L642.5 219.31 L643.0 219.70 L643.5 220.04 L644.0 220.38 L644.5 220.72 L645.0 221.05 L645.5 221.36 L646.0 221.68 L646.5 221.98 L647.0 222.26 L647.5 222.54 L648.0 222.81 L648.5 223.05 L649.0 223.29 L649.5 223.50 L650.0 223.70 L650.5 223.89 L651.0 224.08 L651.5 224.27 L652.0 224.45 L652.5 224.64 L653.0 224.81 L653.5 224.98 L654.0 225.15 L654.5 225.30 L655.0 225.45 L655.5 225.58 L656.0 225.70 L656.5 225.81 L657.0 225.90 L657.5 225.98 L658.0 226.06 L658.5 226.14 L659.0 226.21 L659.5 226.28 L660.0 226.36 L660.5 226.42 L661.0 226.49 L661.5 226.56 L662.0 226.63 L662.5 226.69 L663.0 226.76 L663.5 226.83 L664.0 226.89 L664.5 226.96 L665.0 227.03 L665.5 227.10 L666.0 227.17 L666.5 227.24 L667.0 227.31 L667.5 227.39 L668.0 227.47 L668.5 227.55 L669.0 227.63 L669.5 227.72 L670.0 227.80 L670.5 227.89 L671.0 227.98 L671.5 228.07 L672.0 228.16 L672.5 228.24 L673.0 228.33 L673.5 228.42 L674.0 228.52 L674.5 228.61 L675.0 228.70 L675.5 228.80 L676.0 228.90" fill="none" stroke="#f01414" stroke-width="1.3" stroke-linejoin="round"/>
<path d="M24.0 500.60 L24.5 500.60 L25.0 500.61 L25.5 500.61 L26.0 500.62 L26.5 500.62 L27.0 500.63 L27.5 500.63 L28.0 500.64 L28.5 500.64 L29.0 500.65 L29.5 500.65 L30.0 500.66 L30.5 500.66 L31.0 500.67 L31.5 500.68 L32.0 500.68 L32.5 500.69 L33.0 500.70 L33.5 500.70 L34.0 500.71 L34.5 500.72 L35.0 500.72 L35.5 500.73 L36.0 500.74 L36.5 500.75 L37.0 500.75 L37.5 500.76 L38.0 500.77 L38.5 500.78 L39.0 500.78 L39.5 500.79 L40.0 500.80 L40.5 500.81 L41.0 500.82 L41.5 500.82 L42.0 500.83 L42.5 500.84 L43.0 500.85 L43.5 500.86 L44.0 500.87 L44.5 500.88 L45.0 500.88 L45.5 500.89 L46.0 500.90 L46.5 500.91 L47.0 500.92 L47.5 500.93 L48.0 500.94 L48.5 500.95 L49.0 500.96 L49.5 500.96 L50.0 500.97 L50.5 500.98 L51.0 500.99 L51.5 501.00 L52.0 501.01 L52.5 501.02 L53.0 501.03 L53.5 501.04 L54.0 501.05 L54.5 501.06 L55.0 501.06 L55.5 501.07 L56.0 501.08 L56.5 501.09 L57.0 501.10 L57.5 501.11 L58.0 501.12 L58.5 501.13 L59.0 501.14 L59.5 501.15 L60.0 501.16 L60.5 501.17 L61.0 501.18 L61.5 501.19 L62.0 501.20 L62.5 501.21 L63.0 501.22 L63.5 501.23 L64.0 501.24 L64.5 501.25 L65.0 501.26 L65.5 501.28 L66.0 501.29 L66.5 501.30 L67.0 501.32 L67.5 501.33 L68.0 501.34 L68.5 501.36 L69.0 501.37 L69.5 501.38 L70.0 501.40 L70.5 501.41 L71.0 501.43 L71.5 501.45 L72.0 501.46 L72.5 501.48 L73.0 501.50 L73.5 501.51 L74.0 501.53 L74.5 501.55 L75.0 501.57 L75.5 501.59 L76.0 501.61 L76.5 501.63 L77.0 501.65 L77.5 501.67 L78.0 501.69 L78.5 501.71 L79.0 501.73 L79.5 501.76 L80.0 501.78 L80.5 501.80 L81.0 501.83 L81.5 501.86 L82.0 501.89 L82.5 501.93 L83.0 501.97 L83.5 502.01 L84.0 502.05 L84.5 502.10 L85.0 502.14 L85.5 502.19 L86.0 502.24 L86.5 502.29 L87.0 502.35 L87.5 502.40 L88.0 502.46 L88.5 502.51 L89.0 502.57 L89.5 502.62 L90.0 502.68 L90.5 502.73 L91.0 502.79 L91.5 502.84 L92.0 502.90 L92.5 502.95 L93.0 503.01 L93.5 503.06 L94.0 503.11 L94.5 503.15 L95.0 503.20 L95.5 503.24 L96.0 503.28 L96.5 503.32 L97.0 503.35 L97.5 503.38 L98.0 503.41 L98.5 503.44 L99.0 503.47 L99.5 503.49 L100.0 503.51 L100.5 503.53 L101.0 503.56 L101.5 503.58 L102.0 503.60 L102.5 503.60 L103.0 503.56 L103.5 503.47 L104.0 503.35 L104.5 503.19 L105.0 503.00 L105.5 502.77 L106.0 502.52 L106.5 502.24 L107.0 501.93 L107.5 501.57 L108.0 501.05 L108.5 500.39 L109.0 499.61 L109.5 498.73 L110.0 497.79 L110.5 496.80 L111.0 495.80 L111.5 494.73 L112.0 493.54 L112.5 492.17 L113.0 490.58 L113.5 488.74 L114.0 486.81 L114.5 484.86 L115.0 482.88 L115.5 480.89 L116.0 478.90 L116.5 476.90 L117.0 474.87 L117.5 472.81 L118.0 470.75 L118.5 468.69 L119.0 466.68 L119.5 464.72 L120.0 463.09 L120.5 461.83 L121.0 460.87 L121.5 460.13 L122.0 459.54 L122.5 459.00 L123.0 458.51 L123.5 458.11 L124.0 457.79 L124.5 457.53 L125.0 457.34 L125.5 457.20 L126.0 457.11 L126.5 457.14 L127.0 457.41 L127.5 458.02 L128.0 459.03 L128.5 460.31 L129.0 461.82 L129.5 463.53 L130.0 465.41 L130.5 467.41 L131.0 469.43 L131.5 471.47 L132.0 473.52 L132.5 475.58 L133.0 477.65 L133.5 479.74 L134.0 481.87 L134.5 484.03 L135.0 486.20 L135.5 488.36 L136.0 490.50 L136.5 492.60 L137.0 494.56 L137.5 496.31 L138.0 497.87 L138.5 499.26 L139.0 500.49 L139.5 501.59 L140.0 502.60 L140.5 503.54 L141.0 504.41 L141.5 505.21 L142.0 505.93 L142.5 506.57 L143.0 507.13 L143.5 507.59 L144.0 507.97 L144.5 508.31 L145.0 508.64 L145.5 508.95 L146.0 509.25 L146.5 509.52 L147.0 509.77 L147.5 509.99 L148.0 510.18 L148.5 510.33 L149.0 510.46 L149.5 510.60 L150.0 510.74 L150.5 510.88 L151.0 511.01 L151.5 511.13 L152.0 511.25 L152.5 511.36 L153.0 511.46 L153.5 511.54 L154.0 511.61 L154.5 511.67 L155.0 511.70 L155.5 511.72 L156.0 511.75 L156.5 511.77 L157.0 511.79 L157.5 511.80 L158.0 511.82 L158.5 511.83 L159.0 511.85 L159.5 511.86 L160.0 511.87 L160.5 511.88 L161.0 511.89 L161.5 511.90 L162.0 511.91 L162.5 511.91 L163.0 511.92 L163.5 511.92 L164.0 511.93 L164.5 511.93 L165.0 511.93 L165.5 511.94 L166.0 511.94 L166.5 511.94 L167.0 511.94 L167.5 511.94 L168.0 511.94 L168.5 511.94 L169.0 511.94 L169.5 511.94 L170.0 511.94 L170.5 511.94 L171.0 511.94 L171.5 511.94 L172.0 511.94 L172.5 511.94 L173.0 511.94 L173.5 511.94 L174.0 511.94 L174.5 511.94 L175.0 511.94 L175.5 511.95 L176.0 511.95 L176.5 511.95 L177.0 511.96 L177.5 511.96 L178.0 511.96 L178.5 511.97 L179.0 511.98 L179.5 511.99 L180.0 511.99 L180.5 512.00 L181.0 512.01 L181.5 512.03 L182.0 512.04 L182.5 512.05 L183.0 512.07 L183.5 512.09 L184.0 512.10 L184.5 512.12 L185.0 512.14 L185.5 512.17 L186.0 512.19 L186.5 512.22 L187.0 512.24 L187.5 512.27 L188.0 512.30 L188.5 512.34 L189.0 512.37 L189.5 512.41 L190.0 512.44 L190.5 512.48 L191.0 512.52 L191.5 512.56 L192.0 512.59 L192.5 512.63 L193.0 512.67 L193.5 512.70 L194.0 512.74 L194.5 512.78 L195.0 512.82 L195.5 512.85 L196.0 512.89 L196.5 512.93 L197.0 512.96 L197.5 513.00 L198.0 513.04 L198.5 513.08 L199.0 513.11 L199.5 513.15 L200.0 513.19 L200.5 513.22 L201.0 513.26 L201.5 513.30 L202.0 513.34 L202.5 513.37 L203.0 513.41 L203.5 513.45 L204.0 513.49 L204.5 513.53 L205.0 513.56 L205.5 513.60 L206.0 513.64 L206.5 513.68 L207.0 513.72 L207.5 513.75 L208.0 513.79 L208.5 513.83 L209.0 513.87 L209.5 513.91 L210.0 513.95 L210.5 513.99 L211.0 514.03 L211.5 514.07 L212.0 514.10 L212.5 514.14 L213.0 514.18 L213.5 514.22 L214.0 514.26 L214.5 514.30 L215.0 514.34 L215.5 514.38 L216.0 514.42 L216.5 514.46 L217.0 514.51 L217.5 514.55 L218.0 514.59 L218.5 514.63 L219.0 514.67 L219.5 514.71 L220.0 514.75 L220.5 514.79 L221.0 514.83 L221.5 514.87 L222.0 514.91 L222.5 514.95 L223.0 514.99 L223.5 515.04 L224.0 515.08 L224.5 515.12 L225.0 515.16 L225.5 515.20 L226.0 515.24 L226.5 515.28 L227.0 515.32 L227.5 515.37 L228.0 515.41 L228.5 515.45 L229.0 515.49 L229.5 515.53 L230.0 515.57 L230.5 515.61 L231.0 515.65 L231.5 515.70 L232.0 515.74 L232.5 515.78 L233.0 515.82 L233.5 515.86 L234.0 515.90 L234.5 515.94 L235.0 515.99 L235.5 516.03 L236.0 516.07 L236.5 516.11 L237.0 516.15 L237.5 516.19 L238.0 516.23 L238.5 516.28 L239.0 516.32 L239.5 516.36 L240.0 516.40 L240.5 516.44 L241.0 516.49 L241.5 516.53 L242.0 516.58 L242.5 516.63 L243.0 516.68 L243.5 516.74 L244.0 516.79 L244.5 516.84 L245.0 516.90 L245.5 516.95 L246.0 517.00 L246.5 517.05 L247.0 517.10 L247.5 517.15 L248.0 517.20 L248.5 517.21 L249.0 517.15 L249.5 517.04 L250.0 516.92 L250.5 516.80 L251.0 516.58 L251.5 516.18 L252.0 515.70 L252.5 515.20 L253.0 514.43 L253.5 513.26 L254.0 511.72 L254.5 509.81 L255.0 507.55 L255.5 504.92 L256.0 500.81 L256.5 495.10 L257.0 488.32 L257.5 481.00 L258.0 472.94 L258.5 463.57 L259.0 452.82 L259.5 438.62 L260.0 422.67 L260.5 411.51 L261.0 401.65 L261.5 392.82 L262.0 384.95 L262.5 377.74 L263.0 371.11 L263.5 365.00 L264.0 360.05 L264.5 357.13 L265.0 356.97 L265.5 360.60 L266.0 366.19 L266.5 373.20 L267.0 383.00 L267.5 397.99 L268.0 417.07 L268.5 431.66 L269.0 445.08 L269.5 456.73 L270.0 466.17 L270.5 474.61 L271.0 482.17 L271.5 488.81 L272.0 494.63 L272.5 500.11 L273.0 505.12 L273.5 509.43 L274.0 512.91 L274.5 516.04 L275.0 518.89 L275.5 521.39 L276.0 523.49 L276.5 525.10 L277.0 526.20 L277.5 527.16 L278.0 528.04 L278.5 528.79 L279.0 529.38 L279.5 529.77 L280.0 529.91 L280.5 529.97 L281.0 530.03 L281.5 530.09 L282.0 530.14 L282.5 530.20 L283.0 530.26 L283.5 530.31 L284.0 530.37 L284.5 530.42 L285.0 530.47 L285.5 530.52 L286.0 530.56 L286.5 530.61 L287.0 530.65 L287.5 530.68 L288.0 530.72 L288.5 530.74 L289.0 530.77 L289.5 530.79 L290.0 530.80 L290.5 530.81 L291.0 530.82 L291.5 530.84 L292.0 530.85 L292.5 530.86 L293.0 530.87 L293.5 530.89 L294.0 530.90 L294.5 530.91 L295.0 530.93 L295.5 530.94 L296.0 530.96 L296.5 530.97 L297.0 530.99 L297.5 531.00 L298.0 531.02 L298.5 531.03 L299.0 531.05 L299.5 531.06 L300.0 531.08 L300.5 531.09 L301.0 531.11 L301.5 531.12 L302.0 531.14 L302.5 531.15 L303.0 531.17 L303.5 531.18 L304.0 531.20 L304.5 531.21 L305.0 531.23 L305.5 531.24 L306.0 531.26 L306.5 531.27 L307.0 531.29 L307.5 531.30 L308.0 531.31 L308.5 531.33 L309.0 531.34 L309.5 531.35 L310.0 531.37 L310.5 531.38 L311.0 531.39 L311.5 531.40 L312.0 531.41 L312.5 531.42 L313.0 531.44 L313.5 531.45 L314.0 531.46 L314.5 531.46 L315.0 531.47 L315.5 531.48 L316.0 531.49 L316.5 531.50 L317.0 531.50 L317.5 531.51 L318.0 531.52 L318.5 531.52 L319.0 531.53 L319.5 531.53 L320.0 531.53 L320.5 531.54 L321.0 531.54 L321.5 531.54 L322.0 531.54 L322.5 531.54 L323.0 531.54 L323.5 531.54 L324.0 531.54 L324.5 531.53 L325.0 531.53 L325.5 531.53 L326.0 531.52 L326.5 531.51 L327.0 531.51 L327.4 531.50" fill="none" stroke="#0c0cf6" stroke-width="1.1" stroke-linejoin="round"/>
<path d="M24.0 500.60 L24.5 500.60 L25.0 500.61 L25.5 500.62 L26.0 500.62 L26.5 500.63 L27.0 500.63 L27.5 500.64 L28.0 500.64 L28.5 500.65 L29.0 500.65 L29.5 500.66 L30.0 500.67 L30.5 500.67 L31.0 500.68 L31.5 500.69 L32.0 500.69 L32.5 500.70 L33.0 500.71 L33.5 500.71 L34.0 500.72 L34.5 500.73 L35.0 500.73 L35.5 500.74 L36.0 500.75 L36.5 500.76 L37.0 500.76 L37.5 500.77 L38.0 500.78 L38.5 500.79 L39.0 500.79 L39.5 500.80 L40.0 500.81 L40.5 500.82 L41.0 500.83 L41.5 500.83 L42.0 500.84 L42.5 500.85 L43.0 500.86 L43.5 500.87 L44.0 500.87 L44.5 500.88 L45.0 500.89 L45.5 500.90 L46.0 500.91 L46.5 500.92 L47.0 500.93 L47.5 500.93 L48.0 500.94 L48.5 500.95 L49.0 500.96 L49.5 500.97 L50.0 500.98 L50.5 500.99 L51.0 500.99 L51.5 501.00 L52.0 501.01 L52.5 501.02 L53.0 501.03 L53.5 501.04 L54.0 501.05 L54.5 501.06 L55.0 501.06 L55.5 501.07 L56.0 501.08 L56.5 501.09 L57.0 501.10 L57.5 501.11 L58.0 501.12 L58.5 501.13 L59.0 501.14 L59.5 501.15 L60.0 501.16 L60.5 501.17 L61.0 501.18 L61.5 501.19 L62.0 501.21 L62.5 501.22 L63.0 501.23 L63.5 501.24 L64.0 501.26 L64.5 501.27 L65.0 501.28 L65.5 501.30 L66.0 501.31 L66.5 501.32 L67.0 501.34 L67.5 501.35 L68.0 501.36 L68.5 501.38 L69.0 501.39 L69.5 501.41 L70.0 501.42 L70.5 501.44 L71.0 501.45 L71.5 501.47 L72.0 501.48 L72.5 501.49 L73.0 501.51 L73.5 501.52 L74.0 501.54 L74.5 501.55 L75.0 501.57 L75.5 501.58 L76.0 501.59 L76.5 501.61 L77.0 501.62 L77.5 501.64 L78.0 501.65 L78.5 501.66 L79.0 501.67 L79.5 501.69 L80.0 501.70 L80.5 501.72 L81.0 501.74 L81.5 501.78 L82.0 501.81 L82.5 501.85 L83.0 501.88 L83.5 501.91 L84.0 501.92 L84.5 501.93 L85.0 501.92 L85.5 501.90 L86.0 501.86 L86.5 501.79 L87.0 501.69 L87.5 501.57 L88.0 501.43 L88.5 501.28 L89.0 501.11 L89.5 500.93 L90.0 500.75 L90.5 500.56 L91.0 500.37 L91.5 500.18 L92.0 500.00 L92.5 499.82 L93.0 499.64 L93.5 499.46 L94.0 499.28 L94.5 499.10 L95.0 498.91 L95.5 498.73 L96.0 498.55 L96.5 498.37 L97.0 498.19 L97.5 498.01 L98.0 497.83 L98.5 497.65 L99.0 497.47 L99.5 497.29 L100.0 497.11 L100.5 496.93 L101.0 496.75 L101.5 496.57 L102.0 496.39 L102.5 496.21 L103.0 496.03 L103.5 495.85 L104.0 495.67 L104.5 495.48 L105.0 495.25 L105.5 494.98 L106.0 494.68 L106.5 494.36 L107.0 494.01 L107.5 493.66 L108.0 493.30 L108.5 492.95 L109.0 492.60 L109.5 492.27 L110.0 491.97 L110.5 491.69 L111.0 491.44 L111.5 491.21 L112.0 491.01 L112.5 490.82 L113.0 490.66 L113.5 490.53 L114.0 490.42 L114.5 490.34 L115.0 490.28 L115.5 490.27 L116.0 490.30 L116.5 490.37 L117.0 490.50 L117.5 490.67 L118.0 490.89 L118.5 491.17 L119.0 491.50 L119.5 491.88 L120.0 492.29 L120.5 492.70 L121.0 493.12 L121.5 493.55 L122.0 493.98 L122.5 494.42 L123.0 494.87 L123.5 495.32 L124.0 495.78 L124.5 496.25 L125.0 496.72 L125.5 497.20 L126.0 497.69 L126.5 498.18 L127.0 498.69 L127.5 499.19 L128.0 499.70 L128.5 500.22 L129.0 500.73 L129.5 501.23 L130.0 501.74 L130.5 502.24 L131.0 502.73 L131.5 503.21 L132.0 503.67 L132.5 504.12 L133.0 504.56 L133.5 504.98 L134.0 505.38 L134.5 505.77 L135.0 506.15 L135.5 506.51 L136.0 506.85 L136.5 507.18 L137.0 507.49 L137.5 507.79 L138.0 508.07 L138.5 508.33 L139.0 508.58 L139.5 508.82 L140.0 509.04 L140.5 509.24 L141.0 509.43 L141.5 509.61 L142.0 509.76 L142.5 509.90 L143.0 510.02 L143.5 510.13 L144.0 510.22 L144.5 510.30 L145.0 510.38 L145.5 510.46 L146.0 510.54 L146.5 510.61 L147.0 510.69 L147.5 510.76 L148.0 510.83 L148.5 510.90 L149.0 510.97 L149.5 511.03 L150.0 511.09 L150.5 511.15 L151.0 511.20 L151.5 511.25 L152.0 511.30 L152.5 511.34 L153.0 511.38 L153.5 511.42 L154.0 511.45 L154.5 511.48 L155.0 511.50 L155.5 511.52 L156.0 511.54 L156.5 511.56 L157.0 511.57 L157.5 511.59 L158.0 511.60 L158.5 511.62 L159.0 511.63 L159.5 511.64 L160.0 511.66 L160.5 511.67 L161.0 511.68 L161.5 511.69 L162.0 511.70 L162.5 511.71 L163.0 511.71 L163.5 511.72 L164.0 511.73 L164.5 511.73 L165.0 511.74 L165.5 511.75 L166.0 511.75 L166.5 511.76 L167.0 511.76 L167.5 511.77 L168.0 511.77 L168.5 511.78 L169.0 511.78 L169.5 511.79 L170.0 511.79 L170.5 511.80 L171.0 511.80 L171.5 511.81 L172.0 511.81 L172.5 511.82 L173.0 511.82 L173.5 511.83 L174.0 511.83 L174.5 511.84 L175.0 511.85 L175.5 511.86 L176.0 511.86 L176.5 511.87 L177.0 511.88 L177.5 511.89 L178.0 511.90 L178.5 511.91 L179.0 511.92 L179.5 511.94 L180.0 511.95 L180.5 511.96 L181.0 511.98 L181.5 512.00 L182.0 512.01 L182.5 512.03 L183.0 512.05 L183.5 512.07 L184.0 512.09 L184.5 512.11 L185.0 512.14 L185.5 512.16 L186.0 512.19 L186.5 512.21 L187.0 512.24 L187.5 512.27 L188.0 512.30 L188.5 512.34 L189.0 512.37 L189.5 512.41 L190.0 512.44 L190.5 512.48 L191.0 512.52 L191.5 512.55 L192.0 512.59 L192.5 512.63 L193.0 512.66 L193.5 512.70 L194.0 512.74 L194.5 512.77 L195.0 512.81 L195.5 512.85 L196.0 512.88 L196.5 512.92 L197.0 512.96 L197.5 512.99 L198.0 513.03 L198.5 513.07 L199.0 513.10 L199.5 513.14 L200.0 513.18 L200.5 513.22 L201.0 513.25 L201.5 513.29 L202.0 513.33 L202.5 513.37 L203.0 513.40 L203.5 513.44 L204.0 513.48 L204.5 513.52 L205.0 513.56 L205.5 513.59 L206.0 513.63 L206.5 513.67 L207.0 513.71 L207.5 513.75 L208.0 513.79 L208.5 513.83 L209.0 513.87 L209.5 513.90 L210.0 513.94 L210.5 513.98 L211.0 514.02 L211.5 514.06 L212.0 514.10 L212.5 514.14 L213.0 514.18 L213.5 514.22 L214.0 514.26 L214.5 514.30 L215.0 514.34 L215.5 514.38 L216.0 514.42 L216.5 514.47 L217.0 514.51 L217.5 514.55 L218.0 514.59 L218.5 514.63 L219.0 514.67 L219.5 514.71 L220.0 514.75 L220.5 514.79 L221.0 514.83 L221.5 514.88 L222.0 514.92 L222.5 514.96 L223.0 515.00 L223.5 515.04 L224.0 515.08 L224.5 515.12 L225.0 515.16 L225.5 515.20 L226.0 515.25 L226.5 515.29 L227.0 515.33 L227.5 515.37 L228.0 515.41 L228.5 515.45 L229.0 515.49 L229.5 515.53 L230.0 515.57 L230.5 515.62 L231.0 515.66 L231.5 515.70 L232.0 515.74 L232.5 515.78 L233.0 515.82 L233.5 515.86 L234.0 515.90 L234.5 515.95 L235.0 515.99 L235.5 516.03 L236.0 516.07 L236.5 516.11 L237.0 516.15 L237.5 516.19 L238.0 516.24 L238.5 516.28 L239.0 516.32 L239.5 516.36 L240.0 516.40 L240.5 516.44 L241.0 516.48 L241.5 516.53 L242.0 516.57 L242.5 516.61 L243.0 516.65 L243.5 516.70 L244.0 516.74 L244.5 516.78 L245.0 516.83 L245.5 516.87 L246.0 516.92 L246.5 516.96 L247.0 517.00 L247.5 517.05 L248.0 517.09 L248.5 517.14 L249.0 517.18 L249.5 517.23 L250.0 517.27 L250.5 517.32 L251.0 517.37 L251.5 517.42 L252.0 517.49 L252.5 517.56 L253.0 517.65 L253.5 517.74 L254.0 517.85 L254.5 517.97 L255.0 518.10 L255.5 518.26 L256.0 518.43 L256.5 518.61 L257.0 518.82 L257.5 519.05 L258.0 519.30 L258.5 519.58 L259.0 519.88 L259.5 520.19 L260.0 520.50 L260.5 520.80 L261.0 521.09 L261.5 521.42 L262.0 521.80 L262.5 522.27 L263.0 522.79 L263.5 523.35 L264.0 523.90 L264.5 524.45 L265.0 525.01 L265.5 525.56 L266.0 526.10 L266.5 526.58 L267.0 527.00 L267.5 527.36 L268.0 527.70 L268.5 528.02 L269.0 528.33 L269.5 528.59 L270.0 528.80 L270.5 528.97 L271.0 529.13 L271.5 529.27 L272.0 529.40 L272.5 529.52 L273.0 529.65 L273.5 529.76 L274.0 529.88 L274.5 529.99 L275.0 530.10 L275.5 530.20 L276.0 530.30 L276.5 530.39 L277.0 530.47 L277.5 530.54 L278.0 530.61 L278.5 530.68 L279.0 530.73 L279.5 530.78 L280.0 530.83 L280.5 530.87 L281.0 530.91 L281.5 530.94 L282.0 530.97 L282.5 531.01 L283.0 531.04 L283.5 531.07 L284.0 531.10 L284.5 531.13 L285.0 531.16 L285.5 531.19 L286.0 531.22 L286.5 531.25 L287.0 531.28 L287.5 531.30 L288.0 531.33 L288.5 531.36 L289.0 531.38 L289.5 531.41 L290.0 531.43 L290.5 531.45 L291.0 531.47 L291.5 531.50 L292.0 531.52 L292.5 531.54 L293.0 531.56 L293.5 531.58 L294.0 531.60 L294.5 531.61 L295.0 531.63 L295.5 531.65 L296.0 531.67 L296.5 531.68 L297.0 531.70 L297.5 531.71 L298.0 531.73 L298.5 531.74 L299.0 531.75 L299.5 531.76 L300.0 531.77 L300.5 531.79 L301.0 531.80 L301.5 531.81 L302.0 531.81 L302.5 531.82 L303.0 531.83 L303.5 531.84 L304.0 531.85 L304.5 531.85 L305.0 531.86 L305.5 531.86 L306.0 531.87 L306.5 531.87 L307.0 531.87 L307.5 531.88 L308.0 531.88 L308.5 531.88 L309.0 531.88 L309.5 531.88 L310.0 531.88 L310.5 531.88 L311.0 531.88 L311.5 531.87 L312.0 531.87 L312.5 531.87 L313.0 531.86 L313.5 531.86 L314.0 531.85 L314.5 531.85 L315.0 531.84 L315.5 531.84 L316.0 531.83 L316.5 531.82 L317.0 531.81 L317.5 531.80 L318.0 531.79 L318.5 531.78 L319.0 531.77 L319.5 531.76 L320.0 531.75 L320.5 531.73 L321.0 531.72 L321.5 531.71 L322.0 531.69 L322.5 531.68 L323.0 531.66 L323.5 531.65 L324.0 531.63 L324.5 531.61 L325.0 531.59 L325.5 531.58 L326.0 531.56 L326.5 531.54 L327.0 531.52 L327.4 531.50" fill="none" stroke="#3cc8f5" stroke-width="1.0" stroke-linejoin="round"/>
<path d="M24.0 500.60 L24.5 500.60 L25.0 500.61 L25.5 500.61 L26.0 500.62 L26.5 500.62 L27.0 500.63 L27.5 500.63 L28.0 500.64 L28.5 500.64 L29.0 500.65 L29.5 500.65 L30.0 500.66 L30.5 500.66 L31.0 500.67 L31.5 500.68 L32.0 500.68 L32.5 500.69 L33.0 500.70 L33.5 500.70 L34.0 500.71 L34.5 500.72 L35.0 500.72 L35.5 500.73 L36.0 500.74 L36.5 500.75 L37.0 500.75 L37.5 500.76 L38.0 500.77 L38.5 500.78 L39.0 500.78 L39.5 500.79 L40.0 500.80 L40.5 500.81 L41.0 500.82 L41.5 500.82 L42.0 500.83 L42.5 500.84 L43.0 500.85 L43.5 500.86 L44.0 500.87 L44.5 500.88 L45.0 500.88 L45.5 500.89 L46.0 500.90 L46.5 500.91 L47.0 500.92 L47.5 500.93 L48.0 500.94 L48.5 500.95 L49.0 500.96 L49.5 500.96 L50.0 500.97 L50.5 500.98 L51.0 500.99 L51.5 501.00 L52.0 501.01 L52.5 501.02 L53.0 501.03 L53.5 501.04 L54.0 501.05 L54.5 501.06 L55.0 501.06 L55.5 501.07 L56.0 501.08 L56.5 501.09 L57.0 501.10 L57.5 501.11 L58.0 501.12 L58.5 501.13 L59.0 501.13 L59.5 501.14 L60.0 501.15 L60.5 501.16 L61.0 501.16 L61.5 501.17 L62.0 501.18 L62.5 501.18 L63.0 501.19 L63.5 501.20 L64.0 501.21 L64.5 501.21 L65.0 501.22 L65.5 501.23 L66.0 501.24 L66.5 501.25 L67.0 501.26 L67.5 501.27 L68.0 501.28 L68.5 501.29 L69.0 501.30 L69.5 501.31 L70.0 501.32 L70.5 501.34 L71.0 501.35 L71.5 501.37 L72.0 501.38 L72.5 501.40 L73.0 501.42 L73.5 501.43 L74.0 501.45 L74.5 501.47 L75.0 501.49 L75.5 501.52 L76.0 501.54 L76.5 501.56 L77.0 501.59 L77.5 501.62 L78.0 501.65 L78.5 501.67 L79.0 501.71 L79.5 501.74 L80.0 501.77 L80.5 501.81 L81.0 501.84 L81.5 501.88 L82.0 501.92 L82.5 501.96 L83.0 502.01 L83.5 502.05 L84.0 502.09 L84.5 502.14 L85.0 502.18 L85.5 502.23 L86.0 502.28 L86.5 502.33 L87.0 502.38 L87.5 502.43 L88.0 502.48 L88.5 502.53 L89.0 502.58 L89.5 502.63 L90.0 502.69 L90.5 502.74 L91.0 502.79 L91.5 502.84 L92.0 502.89 L92.5 502.95 L93.0 503.00 L93.5 503.05 L94.0 503.10 L94.5 503.15 L95.0 503.20 L95.5 503.25 L96.0 503.30 L96.5 503.34 L97.0 503.39 L97.5 503.43 L98.0 503.48 L98.5 503.52 L99.0 503.57 L99.5 503.61 L100.0 503.65 L100.5 503.70 L101.0 503.74 L101.5 503.79 L102.0 503.83 L102.5 503.88 L103.0 503.92 L103.5 503.97 L104.0 504.02 L104.5 504.07 L105.0 504.12 L105.5 504.17 L106.0 504.23 L106.5 504.29 L107.0 504.35 L107.5 504.41 L108.0 504.47 L108.5 504.54 L109.0 504.61 L109.5 504.68 L110.0 504.75 L110.5 504.83 L111.0 504.91 L111.5 505.00 L112.0 505.08 L112.5 505.17 L113.0 505.27 L113.5 505.36 L114.0 505.46 L114.5 505.56 L115.0 505.66 L115.5 505.76 L116.0 505.86 L116.5 505.97 L117.0 506.07 L117.5 506.18 L118.0 506.29 L118.5 506.40 L119.0 506.51 L119.5 506.62 L120.0 506.73 L120.5 506.84 L121.0 506.95 L121.5 507.05 L122.0 507.16 L122.5 507.27 L123.0 507.38 L123.5 507.49 L124.0 507.59 L124.5 507.70 L125.0 507.80 L125.5 507.90 L126.0 508.00 L126.5 508.10 L127.0 508.20 L127.5 508.30 L128.0 508.41 L128.5 508.51 L129.0 508.61 L129.5 508.71 L130.0 508.82 L130.5 508.92 L131.0 509.02 L131.5 509.12 L132.0 509.22 L132.5 509.33 L133.0 509.43 L133.5 509.53 L134.0 509.63 L134.5 509.73 L135.0 509.83 L135.5 509.92 L136.0 510.02 L136.5 510.12 L137.0 510.21 L137.5 510.31 L138.0 510.40 L138.5 510.49 L139.0 510.58 L139.5 510.67 L140.0 510.76 L140.5 510.85 L141.0 510.93 L141.5 511.01 L142.0 511.09 L142.5 511.15 L143.0 511.21 L143.5 511.27 L144.0 511.32 L144.5 511.36 L145.0 511.40 L145.5 511.43 L146.0 511.46 L146.5 511.49 L147.0 511.51 L147.5 511.54 L148.0 511.55 L148.5 511.57 L149.0 511.58 L149.5 511.59 L150.0 511.60 L150.5 511.61 L151.0 511.62 L151.5 511.63 L152.0 511.64 L152.5 511.65 L153.0 511.65 L153.5 511.66 L154.0 511.67 L154.5 511.69 L155.0 511.70 L155.5 511.71 L156.0 511.73 L156.5 511.74 L157.0 511.75 L157.5 511.77 L158.0 511.78 L158.5 511.79 L159.0 511.80 L159.5 511.81 L160.0 511.82 L160.5 511.83 L161.0 511.84 L161.5 511.85 L162.0 511.85 L162.5 511.86 L163.0 511.87 L163.5 511.87 L164.0 511.88 L164.5 511.89 L165.0 511.89 L165.5 511.90 L166.0 511.90 L166.5 511.91 L167.0 511.91 L167.5 511.92 L168.0 511.92 L168.5 511.93 L169.0 511.93 L169.5 511.94 L170.0 511.94 L170.5 511.95 L171.0 511.95 L171.5 511.96 L172.0 511.96 L172.5 511.97 L173.0 511.97 L173.5 511.98 L174.0 511.99 L174.5 511.99 L175.0 512.00 L175.5 512.01 L176.0 512.01 L176.5 512.02 L177.0 512.03 L177.5 512.03 L178.0 512.04 L178.5 512.05 L179.0 512.06 L179.5 512.07 L180.0 512.08 L180.5 512.09 L181.0 512.10 L181.5 512.12 L182.0 512.13 L182.5 512.14 L183.0 512.15 L183.5 512.17 L184.0 512.18 L184.5 512.20 L185.0 512.22 L185.5 512.23 L186.0 512.25 L186.5 512.27 L187.0 512.29 L187.5 512.31 L188.0 512.33 L188.5 512.36 L189.0 512.38 L189.5 512.40 L190.0 512.43 L190.5 512.46 L191.0 512.49 L191.5 512.52 L192.0 512.55 L192.5 512.58 L193.0 512.61 L193.5 512.64 L194.0 512.68 L194.5 512.71 L195.0 512.75 L195.5 512.78 L196.0 512.82 L196.5 512.86 L197.0 512.90 L197.5 512.93 L198.0 512.97 L198.5 513.01 L199.0 513.05 L199.5 513.09 L200.0 513.13 L200.5 513.17 L201.0 513.21 L201.5 513.25 L202.0 513.29 L202.5 513.33 L203.0 513.37 L203.5 513.42 L204.0 513.46 L204.5 513.49 L205.0 513.53 L205.5 513.57 L206.0 513.61 L206.5 513.65 L207.0 513.69 L207.5 513.73 L208.0 513.76 L208.5 513.80 L209.0 513.83 L209.5 513.87 L210.0 513.90 L210.5 513.93 L211.0 513.96 L211.5 513.99 L212.0 514.02 L212.5 514.05 L213.0 514.08 L213.5 514.10 L214.0 514.12 L214.5 514.15 L215.0 514.17 L215.5 514.19 L216.0 514.21 L216.5 514.23 L217.0 514.24 L217.5 514.26 L218.0 514.27 L218.5 514.29 L219.0 514.30 L219.5 514.30 L220.0 514.28 L220.5 514.24 L221.0 514.19 L221.5 514.12 L222.0 514.05 L222.5 513.96 L223.0 513.88 L223.5 513.79 L224.0 513.70 L224.5 513.61 L225.0 513.51 L225.5 513.40 L226.0 513.26 L226.5 513.11 L227.0 512.94 L227.5 512.74 L228.0 512.51 L228.5 512.24 L229.0 511.95 L229.5 511.63 L230.0 511.28 L230.5 510.91 L231.0 510.53 L231.5 510.12 L232.0 509.69 L232.5 509.26 L233.0 508.81 L233.5 508.36 L234.0 507.89 L234.5 507.43 L235.0 506.96 L235.5 506.49 L236.0 506.01 L236.5 505.53 L237.0 505.04 L237.5 504.55 L238.0 504.04 L238.5 503.53 L239.0 503.00 L239.5 502.46 L240.0 501.91 L240.5 501.35 L241.0 500.76 L241.5 500.16 L242.0 499.55 L242.5 498.93 L243.0 498.29 L243.5 497.65 L244.0 497.00 L244.5 496.32 L245.0 495.60 L245.5 494.87 L246.0 494.13 L246.5 493.41 L247.0 492.73 L247.5 492.10 L248.0 491.52 L248.5 490.97 L249.0 490.47 L249.5 490.00 L250.0 489.56 L250.5 489.15 L251.0 488.77 L251.5 488.41 L252.0 488.07 L252.5 487.75 L253.0 487.46 L253.5 487.21 L254.0 487.00 L254.5 486.84 L255.0 486.73 L255.5 486.65 L256.0 486.61 L256.5 486.60 L257.0 486.61 L257.5 486.66 L258.0 486.73 L258.5 486.83 L259.0 486.95 L259.5 487.12 L260.0 487.35 L260.5 487.62 L261.0 487.93 L261.5 488.30 L262.0 488.77 L262.5 489.31 L263.0 489.92 L263.5 490.60 L264.0 491.32 L264.5 492.10 L265.0 492.99 L265.5 494.01 L266.0 495.19 L266.5 496.41 L267.0 497.66 L267.5 498.92 L268.0 500.20 L268.5 501.49 L269.0 502.80 L269.5 504.10 L270.0 505.39 L270.5 506.65 L271.0 507.89 L271.5 509.12 L272.0 510.34 L272.5 511.56 L273.0 512.80 L273.5 514.04 L274.0 515.30 L274.5 516.57 L275.0 517.84 L275.5 519.17 L276.0 520.60 L276.5 522.07 L277.0 523.50 L277.5 524.89 L278.0 526.19 L278.5 527.31 L279.0 528.17 L279.5 528.80 L280.0 529.25 L280.5 529.54 L281.0 529.73 L281.5 529.84 L282.0 529.91 L282.5 529.99 L283.0 530.06 L283.5 530.13 L284.0 530.20 L284.5 530.27 L285.0 530.34 L285.5 530.41 L286.0 530.47 L286.5 530.53 L287.0 530.58 L287.5 530.63 L288.0 530.68 L288.5 530.72 L289.0 530.75 L289.5 530.78 L290.0 530.80 L290.5 530.82 L291.0 530.83 L291.5 530.85 L292.0 530.86 L292.5 530.88 L293.0 530.90 L293.5 530.91 L294.0 530.93 L294.5 530.95 L295.0 530.97 L295.5 530.98 L296.0 531.00 L296.5 531.02 L297.0 531.04 L297.5 531.05 L298.0 531.07 L298.5 531.09 L299.0 531.11 L299.5 531.12 L300.0 531.14 L300.5 531.16 L301.0 531.18 L301.5 531.19 L302.0 531.21 L302.5 531.23 L303.0 531.25 L303.5 531.26 L304.0 531.28 L304.5 531.30 L305.0 531.31 L305.5 531.33 L306.0 531.34 L306.5 531.36 L307.0 531.37 L307.5 531.39 L308.0 531.40 L308.5 531.42 L309.0 531.43 L309.5 531.44 L310.0 531.46 L310.5 531.47 L311.0 531.48 L311.5 531.49 L312.0 531.50 L312.5 531.51 L313.0 531.52 L313.5 531.53 L314.0 531.54 L314.5 531.55 L315.0 531.56 L315.5 531.56 L316.0 531.57 L316.5 531.58 L317.0 531.58 L317.5 531.59 L318.0 531.59 L318.5 531.59 L319.0 531.59 L319.5 531.60 L320.0 531.60 L320.5 531.60 L321.0 531.59 L321.5 531.59 L322.0 531.59 L322.5 531.59 L323.0 531.58 L323.5 531.58 L324.0 531.57 L324.5 531.56 L325.0 531.55 L325.5 531.54 L326.0 531.53 L326.5 531.52 L327.0 531.51 L327.4 531.50" fill="none" stroke="#3cc8f5" stroke-width="1.0" stroke-linejoin="round"/>
<path d="M24.0 499.20 L24.5 499.25 L25.0 499.29 L25.5 499.34 L26.0 499.38 L26.5 499.42 L27.0 499.46 L27.5 499.49 L28.0 499.53 L28.5 499.56 L29.0 499.60 L29.5 499.63 L30.0 499.66 L30.5 499.69 L31.0 499.71 L31.5 499.74 L32.0 499.76 L32.5 499.78 L33.0 499.80 L33.5 499.82 L34.0 499.83 L34.5 499.85 L35.0 499.86 L35.5 499.87 L36.0 499.88 L36.5 499.89 L37.0 499.89 L37.5 499.90 L38.0 499.90 L38.5 499.90 L39.0 499.90 L39.5 499.90 L40.0 499.89 L40.5 499.89 L41.0 499.88 L41.5 499.87 L42.0 499.85 L42.5 499.84 L43.0 499.82 L43.5 499.81 L44.0 499.79 L44.5 499.77 L45.0 499.74 L45.5 499.72 L46.0 499.69 L46.5 499.66 L47.0 499.63 L47.5 499.60 L48.0 499.56 L48.5 499.53 L49.0 499.49 L49.5 499.45 L50.0 499.41 L50.5 499.36 L51.0 499.31 L51.5 499.27 L52.0 499.22 L52.5 499.16 L53.0 499.11 L53.5 499.05 L54.0 498.99 L54.5 498.93 L55.0 498.87 L55.5 498.81 L56.0 498.74 L56.5 498.67 L57.0 498.60 L57.5 498.53 L58.0 498.45 L58.5 498.37 L59.0 498.29 L59.5 498.21 L60.0 498.12 L60.5 498.02 L61.0 497.92 L61.5 497.82 L62.0 497.70 L62.5 497.58 L63.0 497.45 L63.5 497.31 L64.0 497.16 L64.5 497.00 L65.0 496.84 L65.5 496.66 L66.0 496.46 L66.5 496.26 L67.0 496.05 L67.5 495.84 L68.0 495.63 L68.5 495.41 L69.0 495.20 L69.5 494.99 L70.0 494.77 L70.5 494.56 L71.0 494.34 L71.5 494.12 L72.0 493.91 L72.5 493.69 L73.0 493.48 L73.5 493.27 L74.0 493.05 L74.5 492.84 L75.0 492.63 L75.5 492.42 L76.0 492.21 L76.5 492.00 L77.0 491.79 L77.5 491.59 L78.0 491.38 L78.5 491.17 L79.0 490.96 L79.5 490.76 L80.0 490.55 L80.5 490.35 L81.0 490.14 L81.5 489.94 L82.0 489.75 L82.5 489.62 L83.0 489.53 L83.5 489.48 L84.0 489.48 L84.5 489.51 L85.0 489.58 L85.5 489.68 L86.0 489.80 L86.5 489.95 L87.0 490.12 L87.5 490.32 L88.0 490.55 L88.5 490.82 L89.0 491.12 L89.5 491.45 L90.0 491.82 L90.5 492.20 L91.0 492.57 L91.5 492.94 L92.0 493.31 L92.5 493.69 L93.0 494.06 L93.5 494.43 L94.0 494.80 L94.5 495.17 L95.0 495.55 L95.5 495.92 L96.0 496.29 L96.5 496.66 L97.0 497.04 L97.5 497.41 L98.0 497.78 L98.5 498.15 L99.0 498.53 L99.5 498.90 L100.0 499.27 L100.5 499.64 L101.0 500.00 L101.5 500.34 L102.0 500.67 L102.5 500.97 L103.0 501.26 L103.5 501.51 L104.0 501.72 L104.5 501.91 L105.0 502.08 L105.5 502.25 L106.0 502.41 L106.5 502.56 L107.0 502.70 L107.5 502.85 L108.0 502.99 L108.5 503.12 L109.0 503.25 L109.5 503.39 L110.0 503.52 L110.5 503.65 L111.0 503.79 L111.5 503.92 L112.0 504.05 L112.5 504.18 L113.0 504.31 L113.5 504.43 L114.0 504.56 L114.5 504.69 L115.0 504.82 L115.5 504.95 L116.0 505.09 L116.5 505.22 L117.0 505.35 L117.5 505.49 L118.0 505.63 L118.5 505.77 L119.0 505.91 L119.5 506.06 L120.0 506.21 L120.5 506.37 L121.0 506.52 L121.5 506.68 L122.0 506.83 L122.5 506.99 L123.0 507.14 L123.5 507.30 L124.0 507.45 L124.5 507.60 L125.0 507.75 L125.5 507.90 L126.0 508.04 L126.5 508.19 L127.0 508.33 L127.5 508.47 L128.0 508.61 L128.5 508.75 L129.0 508.88 L129.5 509.01 L130.0 509.14 L130.5 509.27 L131.0 509.39 L131.5 509.51 L132.0 509.63 L132.5 509.74 L133.0 509.85 L133.5 509.96 L134.0 510.06 L134.5 510.16 L135.0 510.26 L135.5 510.34 L136.0 510.42 L136.5 510.49 L137.0 510.56 L137.5 510.62 L138.0 510.68 L138.5 510.73 L139.0 510.77 L139.5 510.81 L140.0 510.85 L140.5 510.88 L141.0 510.91 L141.5 510.94 L142.0 510.97 L142.5 511.00 L143.0 511.03 L143.5 511.06 L144.0 511.09 L144.5 511.11 L145.0 511.14 L145.5 511.17 L146.0 511.20 L146.5 511.22 L147.0 511.25 L147.5 511.27 L148.0 511.30 L148.5 511.32 L149.0 511.35 L149.5 511.37 L150.0 511.40 L150.5 511.42 L151.0 511.44 L151.5 511.46 L152.0 511.48 L152.5 511.51 L153.0 511.53 L153.5 511.54 L154.0 511.56 L154.5 511.58 L155.0 511.60 L155.5 511.62 L156.0 511.63 L156.5 511.65 L157.0 511.66 L157.5 511.68 L158.0 511.69 L158.5 511.70 L159.0 511.71 L159.5 511.72 L160.0 511.73 L160.5 511.74 L161.0 511.75 L161.5 511.76 L162.0 511.77 L162.5 511.77 L163.0 511.78 L163.5 511.79 L164.0 511.79 L164.5 511.80 L165.0 511.80 L165.5 511.81 L166.0 511.81 L166.5 511.82 L167.0 511.82 L167.5 511.83 L168.0 511.83 L168.5 511.83 L169.0 511.84 L169.5 511.84 L170.0 511.85 L170.5 511.85 L171.0 511.86 L171.5 511.86 L172.0 511.87 L172.5 511.87 L173.0 511.88 L173.5 511.88 L174.0 511.89 L174.5 511.89 L175.0 511.90 L175.5 511.91 L176.0 511.91 L176.5 511.92 L177.0 511.93 L177.5 511.94 L178.0 511.95 L178.5 511.96 L179.0 511.97 L179.5 511.98 L180.0 511.99 L180.5 512.00 L181.0 512.02 L181.5 512.03 L182.0 512.05 L182.5 512.06 L183.0 512.08 L183.5 512.10 L184.0 512.12 L184.5 512.14 L185.0 512.16 L185.5 512.18 L186.0 512.21 L186.5 512.23 L187.0 512.26 L187.5 512.28 L188.0 512.31 L188.5 512.34 L189.0 512.37 L189.5 512.41 L190.0 512.44 L190.5 512.47 L191.0 512.51 L191.5 512.54 L192.0 512.57 L192.5 512.61 L193.0 512.64 L193.5 512.68 L194.0 512.71 L194.5 512.75 L195.0 512.79 L195.5 512.82 L196.0 512.86 L196.5 512.89 L197.0 512.93 L197.5 512.97 L198.0 513.00 L198.5 513.04 L199.0 513.08 L199.5 513.12 L200.0 513.15 L200.5 513.19 L201.0 513.23 L201.5 513.27 L202.0 513.31 L202.5 513.34 L203.0 513.38 L203.5 513.42 L204.0 513.46 L204.5 513.50 L205.0 513.54 L205.5 513.58 L206.0 513.62 L206.5 513.66 L207.0 513.70 L207.5 513.74 L208.0 513.78 L208.5 513.82 L209.0 513.86 L209.5 513.90 L210.0 513.94 L210.5 513.98 L211.0 514.02 L211.5 514.06 L212.0 514.10 L212.5 514.14 L213.0 514.18 L213.5 514.22 L214.0 514.26 L214.5 514.30 L215.0 514.34 L215.5 514.38 L216.0 514.42 L216.5 514.47 L217.0 514.51 L217.5 514.55 L218.0 514.59 L218.5 514.63 L219.0 514.67 L219.5 514.71 L220.0 514.75 L220.5 514.79 L221.0 514.83 L221.5 514.88 L222.0 514.92 L222.5 514.96 L223.0 515.00 L223.5 515.04 L224.0 515.08 L224.5 515.12 L225.0 515.16 L225.5 515.20 L226.0 515.25 L226.5 515.29 L227.0 515.33 L227.5 515.37 L228.0 515.41 L228.5 515.45 L229.0 515.49 L229.5 515.53 L230.0 515.58 L230.5 515.62 L231.0 515.66 L231.5 515.70 L232.0 515.74 L232.5 515.78 L233.0 515.82 L233.5 515.86 L234.0 515.90 L234.5 515.95 L235.0 515.99 L235.5 516.03 L236.0 516.07 L236.5 516.11 L237.0 516.15 L237.5 516.19 L238.0 516.24 L238.5 516.28 L239.0 516.32 L239.5 516.36 L240.0 516.40 L240.5 516.44 L241.0 516.48 L241.5 516.53 L242.0 516.57 L242.5 516.61 L243.0 516.65 L243.5 516.70 L244.0 516.74 L244.5 516.78 L245.0 516.83 L245.5 516.87 L246.0 516.92 L246.5 516.96 L247.0 517.00 L247.5 517.05 L248.0 517.09 L248.5 517.14 L249.0 517.18 L249.5 517.23 L250.0 517.27 L250.5 517.32 L251.0 517.37 L251.5 517.42 L252.0 517.49 L252.5 517.56 L253.0 517.65 L253.5 517.74 L254.0 517.85 L254.5 517.97 L255.0 518.10 L255.5 518.26 L256.0 518.43 L256.5 518.61 L257.0 518.82 L257.5 519.05 L258.0 519.30 L258.5 519.58 L259.0 519.88 L259.5 520.19 L260.0 520.50 L260.5 520.80 L261.0 521.09 L261.5 521.42 L262.0 521.80 L262.5 522.27 L263.0 522.79 L263.5 523.35 L264.0 523.90 L264.5 524.45 L265.0 525.01 L265.5 525.56 L266.0 526.10 L266.5 526.58 L267.0 527.00 L267.5 527.36 L268.0 527.70 L268.5 528.02 L269.0 528.33 L269.5 528.59 L270.0 528.80 L270.5 528.97 L271.0 529.13 L271.5 529.27 L272.0 529.40 L272.5 529.52 L273.0 529.65 L273.5 529.76 L274.0 529.88 L274.5 529.99 L275.0 530.10 L275.5 530.20 L276.0 530.30 L276.5 530.39 L277.0 530.47 L277.5 530.54 L278.0 530.61 L278.5 530.68 L279.0 530.73 L279.5 530.78 L280.0 530.83 L280.5 530.87 L281.0 530.91 L281.5 530.94 L282.0 530.97 L282.5 531.01 L283.0 531.04 L283.5 531.07 L284.0 531.10 L284.5 531.13 L285.0 531.16 L285.5 531.19 L286.0 531.22 L286.5 531.25 L287.0 531.28 L287.5 531.30 L288.0 531.33 L288.5 531.36 L289.0 531.38 L289.5 531.41 L290.0 531.43 L290.5 531.45 L291.0 531.47 L291.5 531.50 L292.0 531.52 L292.5 531.54 L293.0 531.56 L293.5 531.58 L294.0 531.60 L294.5 531.61 L295.0 531.63 L295.5 531.65 L296.0 531.67 L296.5 531.68 L297.0 531.70 L297.5 531.71 L298.0 531.73 L298.5 531.74 L299.0 531.75 L299.5 531.76 L300.0 531.77 L300.5 531.79 L301.0 531.80 L301.5 531.81 L302.0 531.81 L302.5 531.82 L303.0 531.83 L303.5 531.84 L304.0 531.85 L304.5 531.85 L305.0 531.86 L305.5 531.86 L306.0 531.87 L306.5 531.87 L307.0 531.87 L307.5 531.88 L308.0 531.88 L308.5 531.88 L309.0 531.88 L309.5 531.88 L310.0 531.88 L310.5 531.88 L311.0 531.88 L311.5 531.87 L312.0 531.87 L312.5 531.87 L313.0 531.86 L313.5 531.86 L314.0 531.85 L314.5 531.85 L315.0 531.84 L315.5 531.84 L316.0 531.83 L316.5 531.82 L317.0 531.81 L317.5 531.80 L318.0 531.79 L318.5 531.78 L319.0 531.77 L319.5 531.76 L320.0 531.75 L320.5 531.73 L321.0 531.72 L321.5 531.71 L322.0 531.69 L322.5 531.68 L323.0 531.66 L323.5 531.65 L324.0 531.63 L324.5 531.61 L325.0 531.59 L325.5 531.58 L326.0 531.56 L326.5 531.54 L327.0 531.52 L327.4 531.50" fill="none" stroke="#ff8c1a" stroke-width="1.1" stroke-linejoin="round"/>
<path d="M24.0 500.40 L24.5 500.40 L25.0 500.41 L25.5 500.41 L26.0 500.42 L26.5 500.42 L27.0 500.43 L27.5 500.43 L28.0 500.44 L28.5 500.44 L29.0 500.45 L29.5 500.45 L30.0 500.46 L30.5 500.46 L31.0 500.47 L31.5 500.48 L32.0 500.48 L32.5 500.49 L33.0 500.50 L33.5 500.50 L34.0 500.51 L34.5 500.52 L35.0 500.52 L35.5 500.53 L36.0 500.54 L36.5 500.54 L37.0 500.55 L37.5 500.56 L38.0 500.57 L38.5 500.57 L39.0 500.58 L39.5 500.59 L40.0 500.60 L40.5 500.61 L41.0 500.61 L41.5 500.62 L42.0 500.63 L42.5 500.64 L43.0 500.65 L43.5 500.66 L44.0 500.66 L44.5 500.67 L45.0 500.68 L45.5 500.69 L46.0 500.70 L46.5 500.71 L47.0 500.72 L47.5 500.73 L48.0 500.74 L48.5 500.74 L49.0 500.75 L49.5 500.76 L50.0 500.77 L50.5 500.78 L51.0 500.79 L51.5 500.80 L52.0 500.81 L52.5 500.82 L53.0 500.83 L53.5 500.84 L54.0 500.84 L54.5 500.85 L55.0 500.86 L55.5 500.87 L56.0 500.88 L56.5 500.89 L57.0 500.90 L57.5 500.91 L58.0 500.92 L58.5 500.93 L59.0 500.94 L59.5 500.95 L60.0 500.96 L60.5 500.97 L61.0 500.98 L61.5 501.00 L62.0 501.01 L62.5 501.02 L63.0 501.03 L63.5 501.05 L64.0 501.06 L64.5 501.07 L65.0 501.09 L65.5 501.10 L66.0 501.12 L66.5 501.13 L67.0 501.14 L67.5 501.16 L68.0 501.18 L68.5 501.19 L69.0 501.21 L69.5 501.22 L70.0 501.24 L70.5 501.25 L71.0 501.27 L71.5 501.29 L72.0 501.30 L72.5 501.32 L73.0 501.34 L73.5 501.35 L74.0 501.37 L74.5 501.39 L75.0 501.41 L75.5 501.42 L76.0 501.44 L76.5 501.46 L77.0 501.48 L77.5 501.49 L78.0 501.51 L78.5 501.53 L79.0 501.55 L79.5 501.57 L80.0 501.59 L80.5 501.60 L81.0 501.62 L81.5 501.64 L82.0 501.66 L82.5 501.68 L83.0 501.71 L83.5 501.73 L84.0 501.75 L84.5 501.78 L85.0 501.81 L85.5 501.83 L86.0 501.86 L86.5 501.89 L87.0 501.92 L87.5 501.95 L88.0 501.98 L88.5 502.02 L89.0 502.05 L89.5 502.09 L90.0 502.13 L90.5 502.16 L91.0 502.20 L91.5 502.24 L92.0 502.28 L92.5 502.33 L93.0 502.37 L93.5 502.42 L94.0 502.46 L94.5 502.51 L95.0 502.56 L95.5 502.61 L96.0 502.66 L96.5 502.72 L97.0 502.77 L97.5 502.83 L98.0 502.89 L98.5 502.94 L99.0 503.01 L99.5 503.07 L100.0 503.13 L100.5 503.20 L101.0 503.26 L101.5 503.33 L102.0 503.40 L102.5 503.47 L103.0 503.55 L103.5 503.62 L104.0 503.70 L104.5 503.78 L105.0 503.86 L105.5 503.95 L106.0 504.03 L106.5 504.12 L107.0 504.21 L107.5 504.30 L108.0 504.39 L108.5 504.48 L109.0 504.58 L109.5 504.67 L110.0 504.77 L110.5 504.87 L111.0 504.97 L111.5 505.07 L112.0 505.17 L112.5 505.27 L113.0 505.37 L113.5 505.47 L114.0 505.57 L114.5 505.67 L115.0 505.77 L115.5 505.88 L116.0 505.98 L116.5 506.08 L117.0 506.18 L117.5 506.28 L118.0 506.38 L118.5 506.48 L119.0 506.58 L119.5 506.68 L120.0 506.78 L120.5 506.88 L121.0 506.97 L121.5 507.07 L122.0 507.16 L122.5 507.26 L123.0 507.35 L123.5 507.44 L124.0 507.53 L124.5 507.61 L125.0 507.70 L125.5 507.78 L126.0 507.87 L126.5 507.96 L127.0 508.04 L127.5 508.13 L128.0 508.21 L128.5 508.30 L129.0 508.39 L129.5 508.47 L130.0 508.56 L130.5 508.64 L131.0 508.73 L131.5 508.82 L132.0 508.90 L132.5 508.99 L133.0 509.07 L133.5 509.16 L134.0 509.24 L134.5 509.32 L135.0 509.41 L135.5 509.49 L136.0 509.57 L136.5 509.65 L137.0 509.73 L137.5 509.81 L138.0 509.89 L138.5 509.96 L139.0 510.04 L139.5 510.11 L140.0 510.18 L140.5 510.26 L141.0 510.33 L141.5 510.40 L142.0 510.46 L142.5 510.53 L143.0 510.59 L143.5 510.66 L144.0 510.72 L144.5 510.78 L145.0 510.84 L145.5 510.89 L146.0 510.94 L146.5 511.00 L147.0 511.05 L147.5 511.09 L148.0 511.14 L148.5 511.18 L149.0 511.22 L149.5 511.26 L150.0 511.30 L150.5 511.33 L151.0 511.36 L151.5 511.39 L152.0 511.42 L152.5 511.44 L153.0 511.46 L153.5 511.47 L154.0 511.49 L154.5 511.50 L155.0 511.51 L155.5 511.51 L156.0 511.52 L156.5 511.52 L157.0 511.52 L157.5 511.52 L158.0 511.52 L158.5 511.52 L159.0 511.51 L159.5 511.51 L160.0 511.50 L160.5 511.49 L161.0 511.48 L161.5 511.47 L162.0 511.46 L162.5 511.45 L163.0 511.44 L163.5 511.43 L164.0 511.42 L164.5 511.40 L165.0 511.39 L165.5 511.38 L166.0 511.37 L166.5 511.36 L167.0 511.35 L167.5 511.34 L168.0 511.33 L168.5 511.32 L169.0 511.31 L169.5 511.31 L170.0 511.30 L170.5 511.30 L171.0 511.29 L171.5 511.29 L172.0 511.28 L172.5 511.28 L173.0 511.27 L173.5 511.27 L174.0 511.26 L174.5 511.26 L175.0 511.25 L175.5 511.24 L176.0 511.23 L176.5 511.23 L177.0 511.22 L177.5 511.21 L178.0 511.20 L178.5 511.18 L179.0 511.17 L179.5 511.16 L180.0 511.14 L180.5 511.12 L181.0 511.10 L181.5 511.08 L182.0 511.06 L182.5 511.04 L183.0 511.01 L183.5 510.99 L184.0 510.96 L184.5 510.93 L185.0 510.89 L185.5 510.86 L186.0 510.82 L186.5 510.78 L187.0 510.74 L187.5 510.69 L188.0 510.65 L188.5 510.60 L189.0 510.54 L189.5 510.49 L190.0 510.40 L190.5 510.27 L191.0 510.11 L191.5 509.90 L192.0 509.67 L192.5 509.40 L193.0 509.12 L193.5 508.80 L194.0 508.47 L194.5 508.12 L195.0 507.76 L195.5 507.38 L196.0 507.00 L196.5 506.62 L197.0 506.23 L197.5 505.84 L198.0 505.46 L198.5 505.07 L199.0 504.68 L199.5 504.30 L200.0 503.91 L200.5 503.52 L201.0 503.14 L201.5 502.75 L202.0 502.36 L202.5 501.98 L203.0 501.59 L203.5 501.21 L204.0 500.82 L204.5 500.44 L205.0 500.06 L205.5 499.67 L206.0 499.29 L206.5 498.91 L207.0 498.53 L207.5 498.14 L208.0 497.76 L208.5 497.38 L209.0 497.00 L209.5 496.64 L210.0 496.33 L210.5 496.07 L211.0 495.84 L211.5 495.66 L212.0 495.53 L212.5 495.43 L213.0 495.37 L213.5 495.35 L214.0 495.36 L214.5 495.41 L215.0 495.49 L215.5 495.61 L216.0 495.75 L216.5 495.92 L217.0 496.11 L217.5 496.34 L218.0 496.60 L218.5 496.88 L219.0 497.19 L219.5 497.53 L220.0 497.89 L220.5 498.28 L221.0 498.70 L221.5 499.14 L222.0 499.59 L222.5 500.05 L223.0 500.51 L223.5 500.99 L224.0 501.46 L224.5 501.94 L225.0 502.43 L225.5 502.91 L226.0 503.38 L226.5 503.85 L227.0 504.32 L227.5 504.77 L228.0 505.22 L228.5 505.65 L229.0 506.07 L229.5 506.48 L230.0 506.90 L230.5 507.31 L231.0 507.72 L231.5 508.13 L232.0 508.54 L232.5 508.94 L233.0 509.33 L233.5 509.72 L234.0 510.09 L234.5 510.46 L235.0 510.82 L235.5 511.17 L236.0 511.50 L236.5 511.82 L237.0 512.13 L237.5 512.43 L238.0 512.72 L238.5 513.00 L239.0 513.27 L239.5 513.54 L240.0 513.80 L240.5 514.06 L241.0 514.32 L241.5 514.57 L242.0 514.81 L242.5 515.04 L243.0 515.25 L243.5 515.43 L244.0 515.60 L244.5 515.74 L245.0 515.87 L245.5 515.97 L246.0 516.07 L246.5 516.16 L247.0 516.25 L247.5 516.33 L248.0 516.42 L248.5 516.52 L249.0 516.63 L249.5 516.75 L250.0 516.87 L250.5 516.99 L251.0 517.10 L251.5 517.21 L252.0 517.33 L252.5 517.45 L253.0 517.57 L253.5 517.69 L254.0 517.83 L254.5 517.97 L255.0 518.12 L255.5 518.28 L256.0 518.45 L256.5 518.64 L257.0 518.84 L257.5 519.06 L258.0 519.30 L258.5 519.57 L259.0 519.87 L259.5 520.18 L260.0 520.50 L260.5 520.80 L261.0 521.09 L261.5 521.42 L262.0 521.80 L262.5 522.27 L263.0 522.79 L263.5 523.35 L264.0 523.90 L264.5 524.45 L265.0 525.01 L265.5 525.56 L266.0 526.10 L266.5 526.58 L267.0 527.00 L267.5 527.36 L268.0 527.70 L268.5 528.02 L269.0 528.33 L269.5 528.59 L270.0 528.80 L270.5 528.97 L271.0 529.13 L271.5 529.27 L272.0 529.40 L272.5 529.52 L273.0 529.65 L273.5 529.76 L274.0 529.88 L274.5 529.99 L275.0 530.10 L275.5 530.20 L276.0 530.30 L276.5 530.39 L277.0 530.47 L277.5 530.54 L278.0 530.61 L278.5 530.68 L279.0 530.73 L279.5 530.78 L280.0 530.83 L280.5 530.87 L281.0 530.91 L281.5 530.94 L282.0 530.97 L282.5 531.01 L283.0 531.04 L283.5 531.07 L284.0 531.10 L284.5 531.13 L285.0 531.16 L285.5 531.19 L286.0 531.22 L286.5 531.25 L287.0 531.28 L287.5 531.30 L288.0 531.33 L288.5 531.36 L289.0 531.38 L289.5 531.41 L290.0 531.43 L290.5 531.45 L291.0 531.47 L291.5 531.50 L292.0 531.52 L292.5 531.54 L293.0 531.56 L293.5 531.58 L294.0 531.60 L294.5 531.61 L295.0 531.63 L295.5 531.65 L296.0 531.67 L296.5 531.68 L297.0 531.70 L297.5 531.71 L298.0 531.73 L298.5 531.74 L299.0 531.75 L299.5 531.76 L300.0 531.77 L300.5 531.79 L301.0 531.80 L301.5 531.81 L302.0 531.81 L302.5 531.82 L303.0 531.83 L303.5 531.84 L304.0 531.85 L304.5 531.85 L305.0 531.86 L305.5 531.86 L306.0 531.87 L306.5 531.87 L307.0 531.87 L307.5 531.88 L308.0 531.88 L308.5 531.88 L309.0 531.88 L309.5 531.88 L310.0 531.88 L310.5 531.88 L311.0 531.88 L311.5 531.87 L312.0 531.87 L312.5 531.87 L313.0 531.86 L313.5 531.86 L314.0 531.85 L314.5 531.85 L315.0 531.84 L315.5 531.84 L316.0 531.83 L316.5 531.82 L317.0 531.81 L317.5 531.80 L318.0 531.79 L318.5 531.78 L319.0 531.77 L319.5 531.76 L320.0 531.75 L320.5 531.73 L321.0 531.72 L321.5 531.71 L322.0 531.69 L322.5 531.68 L323.0 531.66 L323.5 531.65 L324.0 531.63 L324.5 531.61 L325.0 531.59 L325.5 531.58 L326.0 531.56 L326.5 531.54 L327.0 531.52 L327.4 531.50" fill="none" stroke="#ff8c1a" stroke-width="1.1" stroke-linejoin="round"/>
<path d="M24.0 500.60 L24.5 500.60 L25.0 500.61 L25.5 500.61 L26.0 500.62 L26.5 500.62 L27.0 500.63 L27.5 500.63 L28.0 500.64 L28.5 500.64 L29.0 500.65 L29.5 500.65 L30.0 500.66 L30.5 500.66 L31.0 500.67 L31.5 500.68 L32.0 500.68 L32.5 500.69 L33.0 500.70 L33.5 500.70 L34.0 500.71 L34.5 500.72 L35.0 500.72 L35.5 500.73 L36.0 500.74 L36.5 500.75 L37.0 500.75 L37.5 500.76 L38.0 500.77 L38.5 500.78 L39.0 500.78 L39.5 500.79 L40.0 500.80 L40.5 500.81 L41.0 500.82 L41.5 500.82 L42.0 500.83 L42.5 500.84 L43.0 500.85 L43.5 500.86 L44.0 500.87 L44.5 500.88 L45.0 500.88 L45.5 500.89 L46.0 500.90 L46.5 500.91 L47.0 500.92 L47.5 500.93 L48.0 500.94 L48.5 500.95 L49.0 500.96 L49.5 500.96 L50.0 500.97 L50.5 500.98 L51.0 500.99 L51.5 501.00 L52.0 501.01 L52.5 501.02 L53.0 501.03 L53.5 501.04 L54.0 501.05 L54.5 501.06 L55.0 501.06 L55.5 501.07 L56.0 501.08 L56.5 501.09 L57.0 501.10 L57.5 501.11 L58.0 501.12 L58.5 501.13 L59.0 501.13 L59.5 501.14 L60.0 501.15 L60.5 501.16 L61.0 501.16 L61.5 501.17 L62.0 501.18 L62.5 501.18 L63.0 501.19 L63.5 501.20 L64.0 501.21 L64.5 501.21 L65.0 501.22 L65.5 501.23 L66.0 501.24 L66.5 501.25 L67.0 501.26 L67.5 501.27 L68.0 501.28 L68.5 501.29 L69.0 501.30 L69.5 501.31 L70.0 501.32 L70.5 501.34 L71.0 501.35 L71.5 501.37 L72.0 501.38 L72.5 501.40 L73.0 501.42 L73.5 501.43 L74.0 501.45 L74.5 501.47 L75.0 501.49 L75.5 501.52 L76.0 501.54 L76.5 501.56 L77.0 501.59 L77.5 501.62 L78.0 501.65 L78.5 501.67 L79.0 501.71 L79.5 501.74 L80.0 501.77 L80.5 501.81 L81.0 501.84 L81.5 501.88 L82.0 501.92 L82.5 501.96 L83.0 502.01 L83.5 502.05 L84.0 502.09 L84.5 502.14 L85.0 502.18 L85.5 502.23 L86.0 502.28 L86.5 502.33 L87.0 502.38 L87.5 502.43 L88.0 502.48 L88.5 502.53 L89.0 502.58 L89.5 502.63 L90.0 502.69 L90.5 502.74 L91.0 502.79 L91.5 502.84 L92.0 502.89 L92.5 502.95 L93.0 503.00 L93.5 503.05 L94.0 503.10 L94.5 503.15 L95.0 503.20 L95.5 503.25 L96.0 503.30 L96.5 503.34 L97.0 503.39 L97.5 503.43 L98.0 503.48 L98.5 503.52 L99.0 503.57 L99.5 503.61 L100.0 503.65 L100.5 503.70 L101.0 503.74 L101.5 503.79 L102.0 503.83 L102.5 503.88 L103.0 503.92 L103.5 503.97 L104.0 504.02 L104.5 504.07 L105.0 504.12 L105.5 504.17 L106.0 504.23 L106.5 504.29 L107.0 504.35 L107.5 504.41 L108.0 504.47 L108.5 504.54 L109.0 504.61 L109.5 504.68 L110.0 504.75 L110.5 504.83 L111.0 504.91 L111.5 505.00 L112.0 505.08 L112.5 505.17 L113.0 505.27 L113.5 505.36 L114.0 505.46 L114.5 505.56 L115.0 505.66 L115.5 505.76 L116.0 505.86 L116.5 505.97 L117.0 506.07 L117.5 506.18 L118.0 506.29 L118.5 506.40 L119.0 506.51 L119.5 506.62 L120.0 506.73 L120.5 506.84 L121.0 506.95 L121.5 507.05 L122.0 507.16 L122.5 507.27 L123.0 507.38 L123.5 507.49 L124.0 507.59 L124.5 507.70 L125.0 507.80 L125.5 507.90 L126.0 508.00 L126.5 508.10 L127.0 508.20 L127.5 508.30 L128.0 508.41 L128.5 508.51 L129.0 508.61 L129.5 508.71 L130.0 508.82 L130.5 508.92 L131.0 509.02 L131.5 509.12 L132.0 509.22 L132.5 509.33 L133.0 509.43 L133.5 509.53 L134.0 509.63 L134.5 509.73 L135.0 509.83 L135.5 509.92 L136.0 510.02 L136.5 510.12 L137.0 510.21 L137.5 510.31 L138.0 510.40 L138.5 510.49 L139.0 510.58 L139.5 510.67 L140.0 510.76 L140.5 510.85 L141.0 510.93 L141.5 511.01 L142.0 511.09 L142.5 511.15 L143.0 511.21 L143.5 511.27 L144.0 511.31 L144.5 511.36 L145.0 511.40 L145.5 511.43 L146.0 511.46 L146.5 511.49 L147.0 511.51 L147.5 511.53 L148.0 511.55 L148.5 511.57 L149.0 511.58 L149.5 511.59 L150.0 511.60 L150.5 511.61 L151.0 511.62 L151.5 511.63 L152.0 511.64 L152.5 511.64 L153.0 511.65 L153.5 511.66 L154.0 511.67 L154.5 511.69 L155.0 511.70 L155.5 511.71 L156.0 511.73 L156.5 511.74 L157.0 511.75 L157.5 511.76 L158.0 511.78 L158.5 511.79 L159.0 511.79 L159.5 511.80 L160.0 511.81 L160.5 511.82 L161.0 511.82 L161.5 511.83 L162.0 511.83 L162.5 511.84 L163.0 511.84 L163.5 511.85 L164.0 511.85 L164.5 511.85 L165.0 511.86 L165.5 511.86 L166.0 511.86 L166.5 511.86 L167.0 511.87 L167.5 511.87 L168.0 511.87 L168.5 511.87 L169.0 511.88 L169.5 511.88 L170.0 511.88 L170.5 511.88 L171.0 511.88 L171.5 511.89 L172.0 511.89 L172.5 511.89 L173.0 511.90 L173.5 511.90 L174.0 511.90 L174.5 511.91 L175.0 511.91 L175.5 511.92 L176.0 511.92 L176.5 511.93 L177.0 511.94 L177.5 511.94 L178.0 511.95 L178.5 511.96 L179.0 511.97 L179.5 511.98 L180.0 511.99 L180.5 512.00 L181.0 512.02 L181.5 512.03 L182.0 512.05 L182.5 512.06 L183.0 512.08 L183.5 512.10 L184.0 512.12 L184.5 512.14 L185.0 512.16 L185.5 512.18 L186.0 512.20 L186.5 512.23 L187.0 512.25 L187.5 512.28 L188.0 512.31 L188.5 512.34 L189.0 512.37 L189.5 512.41 L190.0 512.44 L190.5 512.48 L191.0 512.51 L191.5 512.54 L192.0 512.58 L192.5 512.61 L193.0 512.65 L193.5 512.68 L194.0 512.72 L194.5 512.76 L195.0 512.79 L195.5 512.83 L196.0 512.86 L196.5 512.90 L197.0 512.94 L197.5 512.97 L198.0 513.01 L198.5 513.05 L199.0 513.09 L199.5 513.12 L200.0 513.16 L200.5 513.20 L201.0 513.24 L201.5 513.27 L202.0 513.31 L202.5 513.35 L203.0 513.39 L203.5 513.43 L204.0 513.47 L204.5 513.50 L205.0 513.54 L205.5 513.58 L206.0 513.62 L206.5 513.66 L207.0 513.70 L207.5 513.74 L208.0 513.78 L208.5 513.82 L209.0 513.86 L209.5 513.90 L210.0 513.94 L210.5 513.98 L211.0 514.02 L211.5 514.06 L212.0 514.10 L212.5 514.14 L213.0 514.18 L213.5 514.22 L214.0 514.26 L214.5 514.30 L215.0 514.34 L215.5 514.38 L216.0 514.42 L216.5 514.47 L217.0 514.51 L217.5 514.55 L218.0 514.59 L218.5 514.63 L219.0 514.67 L219.5 514.71 L220.0 514.75 L220.5 514.79 L221.0 514.83 L221.5 514.88 L222.0 514.92 L222.5 514.96 L223.0 515.00 L223.5 515.04 L224.0 515.08 L224.5 515.12 L225.0 515.16 L225.5 515.20 L226.0 515.25 L226.5 515.29 L227.0 515.33 L227.5 515.37 L228.0 515.41 L228.5 515.45 L229.0 515.49 L229.5 515.53 L230.0 515.58 L230.5 515.62 L231.0 515.66 L231.5 515.70 L232.0 515.74 L232.5 515.78 L233.0 515.82 L233.5 515.86 L234.0 515.90 L234.5 515.95 L235.0 515.99 L235.5 516.03 L236.0 516.07 L236.5 516.11 L237.0 516.15 L237.5 516.19 L238.0 516.24 L238.5 516.28 L239.0 516.32 L239.5 516.36 L240.0 516.40 L240.5 516.44 L241.0 516.48 L241.5 516.53 L242.0 516.57 L242.5 516.61 L243.0 516.65 L243.5 516.70 L244.0 516.74 L244.5 516.78 L245.0 516.83 L245.5 516.87 L246.0 516.92 L246.5 516.96 L247.0 517.00 L247.5 517.05 L248.0 517.09 L248.5 517.14 L249.0 517.18 L249.5 517.23 L250.0 517.27 L250.5 517.32 L251.0 517.37 L251.5 517.42 L252.0 517.49 L252.5 517.56 L253.0 517.65 L253.5 517.74 L254.0 517.85 L254.5 517.97 L255.0 518.10 L255.5 518.26 L256.0 518.43 L256.5 518.61 L257.0 518.82 L257.5 519.05 L258.0 519.30 L258.5 519.58 L259.0 519.88 L259.5 520.19 L260.0 520.50 L260.5 520.80 L261.0 521.09 L261.5 521.42 L262.0 521.80 L262.5 522.27 L263.0 522.79 L263.5 523.35 L264.0 523.90 L264.5 524.45 L265.0 525.01 L265.5 525.56 L266.0 526.10 L266.5 526.58 L267.0 527.00 L267.5 527.36 L268.0 527.70 L268.5 528.02 L269.0 528.33 L269.5 528.59 L270.0 528.80 L270.5 528.97 L271.0 529.13 L271.5 529.27 L272.0 529.40 L272.5 529.52 L273.0 529.65 L273.5 529.76 L274.0 529.88 L274.5 529.99 L275.0 530.10 L275.5 530.20 L276.0 530.30 L276.5 530.39 L277.0 530.47 L277.5 530.54 L278.0 530.61 L278.5 530.68 L279.0 530.73 L279.5 530.78 L280.0 530.83 L280.5 530.87 L281.0 530.91 L281.5 530.94 L282.0 530.97 L282.5 531.01 L283.0 531.04 L283.5 531.07 L284.0 531.10 L284.5 531.13 L285.0 531.16 L285.5 531.19 L286.0 531.22 L286.5 531.25 L287.0 531.28 L287.5 531.30 L288.0 531.33 L288.5 531.36 L289.0 531.38 L289.5 531.41 L290.0 531.43 L290.5 531.45 L291.0 531.47 L291.5 531.50 L292.0 531.52 L292.5 531.54 L293.0 531.56 L293.5 531.58 L294.0 531.60 L294.5 531.61 L295.0 531.63 L295.5 531.65 L296.0 531.67 L296.5 531.68 L297.0 531.70 L297.5 531.71 L298.0 531.73 L298.5 531.74 L299.0 531.75 L299.5 531.76 L300.0 531.77 L300.5 531.79 L301.0 531.80 L301.5 531.81 L302.0 531.81 L302.5 531.82 L303.0 531.83 L303.5 531.84 L304.0 531.85 L304.5 531.85 L305.0 531.86 L305.5 531.86 L306.0 531.87 L306.5 531.87 L307.0 531.87 L307.5 531.88 L308.0 531.88 L308.5 531.88 L309.0 531.88 L309.5 531.88 L310.0 531.88 L310.5 531.88 L311.0 531.88 L311.5 531.87 L312.0 531.87 L312.5 531.87 L313.0 531.86 L313.5 531.86 L314.0 531.85 L314.5 531.85 L315.0 531.84 L315.5 531.84 L316.0 531.83 L316.5 531.82 L317.0 531.81 L317.5 531.80 L318.0 531.79 L318.5 531.78 L319.0 531.77 L319.5 531.76 L320.0 531.75 L320.5 531.73 L321.0 531.72 L321.5 531.71 L322.0 531.69 L322.5 531.68 L323.0 531.66 L323.5 531.65 L324.0 531.63 L324.5 531.61 L325.0 531.59 L325.5 531.58 L326.0 531.56 L326.5 531.54 L327.0 531.52 L327.4 531.50" fill="none" stroke="#858585" stroke-width="1.05" stroke-linejoin="round"/>
<path d="M24.0 498.95 L24.5 498.87 L25.0 498.52 L25.5 498.78 L26.0 498.51 L26.5 497.78 L27.0 497.42 L27.5 497.56 L28.0 498.24 L28.5 498.96 L29.0 499.07 L29.5 498.38 L30.0 497.42 L30.5 497.70 L31.0 499.10 L31.5 500.08 L32.0 500.29 L32.5 499.58 L33.0 498.86 L33.5 499.04 L34.0 499.05 L34.5 498.48 L35.0 498.01 L35.5 498.09 L36.0 498.46 L36.5 498.83 L37.0 499.04 L37.5 498.94 L38.0 498.49 L38.5 498.37 L39.0 498.15 L39.5 497.54 L40.0 497.58 L40.5 498.31 L41.0 498.50 L41.5 498.22 L42.0 497.96 L42.5 497.73 L43.0 497.66 L43.5 497.71 L44.0 498.05 L44.5 498.28 L45.0 498.11 L45.5 497.79 L46.0 497.22 L46.5 496.80 L47.0 496.72 L47.5 497.08 L48.0 497.39 L48.5 497.43 L49.0 497.79 L49.5 498.40 L50.0 498.21 L50.5 497.48 L51.0 497.01 L51.5 496.36 L52.0 496.25 L52.5 496.62 L53.0 496.60 L53.5 496.22 L54.0 496.18 L54.5 496.32 L55.0 496.22 L55.5 496.42 L56.0 497.00 L56.5 497.16 L57.0 496.74 L57.5 496.34 L58.0 496.02 L58.5 495.62 L59.0 495.28 L59.5 495.31 L60.0 495.65 L60.5 495.62 L61.0 495.46 L61.5 495.57 L62.0 495.83 L62.5 495.71 L63.0 494.93 L63.5 494.33 L64.0 494.12 L64.5 494.20 L65.0 494.71 L65.5 494.81 L66.0 494.34 L66.5 493.93 L67.0 493.97 L67.5 493.92 L68.0 493.26 L68.5 492.24 L69.0 491.77 L69.5 492.02 L70.0 491.85 L70.5 491.67 L71.0 491.87 L71.5 491.43 L72.0 490.68 L72.5 490.61 L73.0 490.83 L73.5 490.53 L74.0 489.73 L74.5 489.68 L75.0 490.21 L75.5 490.07 L76.0 488.61 L76.5 487.36 L77.0 487.79 L77.5 489.05 L78.0 489.98 L78.5 490.11 L79.0 489.33 L79.5 488.69 L80.0 488.68 L80.5 488.50 L81.0 488.28 L81.5 488.43 L82.0 488.36 L82.5 487.58 L83.0 487.14 L83.5 487.35 L84.0 487.36 L84.5 487.10 L85.0 487.31 L85.5 488.18 L86.0 488.93 L86.5 489.08 L87.0 488.98 L87.5 488.34 L88.0 487.14 L88.5 486.81 L89.0 487.22 L89.5 487.58 L90.0 488.05 L90.5 488.47 L91.0 488.47 L91.5 488.32 L92.0 488.33 L92.5 489.19 L93.0 490.26 L93.5 490.51 L94.0 490.71 L94.5 490.88 L95.0 490.86 L95.5 491.08 L96.0 491.30 L96.5 491.11 L97.0 490.38 L97.5 489.76 L98.0 489.84 L98.5 490.44 L99.0 490.91 L99.5 490.81 L100.0 490.64 L100.5 490.87 L101.0 491.10 L101.5 491.00 L102.0 490.72 L102.5 489.99 L103.0 489.85 L103.5 490.25 L104.0 489.97 L104.5 489.22 L105.0 488.83 L105.5 488.81 L106.0 488.98 L106.5 488.63 L107.0 487.94 L107.5 487.55 L108.0 487.16 L108.5 486.80 L109.0 486.42 L109.5 486.09 L110.0 486.04 L110.5 486.03 L111.0 485.87 L111.5 485.41 L112.0 484.52 L112.5 483.77 L113.0 483.23 L113.5 482.67 L114.0 482.10 L114.5 481.48 L115.0 480.81 L115.5 479.90 L116.0 478.91 L116.5 477.85 L117.0 476.65 L117.5 475.28 L118.0 473.71 L118.5 471.92 L119.0 470.04 L119.5 468.08 L120.0 466.04 L120.5 463.94 L121.0 461.81 L121.5 459.72 L122.0 457.70 L122.5 455.75 L123.0 453.85 L123.5 451.44 L124.0 449.30 L124.5 447.35 L125.0 445.66 L125.5 444.84 L126.0 444.36 L126.5 444.17 L127.0 444.45 L127.5 445.23 L128.0 446.48 L128.5 448.19 L129.0 450.12 L129.5 452.32 L130.0 454.87 L130.5 457.73 L131.0 460.68 L131.5 463.65 L132.0 466.61 L132.5 469.52 L133.0 472.38 L133.5 475.22 L134.0 478.03 L134.5 480.83 L135.0 483.60 L135.5 486.23 L136.0 488.67 L136.5 490.88 L137.0 491.91 L137.5 493.27 L138.0 494.86 L138.5 496.67 L139.0 498.07 L139.5 498.85 L140.0 499.93 L140.5 500.66 L141.0 500.66 L141.5 500.95 L142.0 501.94 L142.5 503.10 L143.0 503.85 L143.5 504.02 L144.0 503.83 L144.5 503.36 L145.0 502.89 L145.5 502.81 L146.0 503.29 L146.5 504.05 L147.0 504.50 L147.5 504.76 L148.0 505.23 L148.5 505.35 L149.0 505.28 L149.5 505.75 L150.0 506.39 L150.5 506.12 L151.0 505.56 L151.5 505.80 L152.0 506.55 L152.5 506.86 L153.0 507.18 L153.5 507.02 L154.0 506.60 L154.5 506.91 L155.0 506.93 L155.5 506.71 L156.0 507.05 L156.5 507.68 L157.0 508.01 L157.5 508.02 L158.0 508.20 L158.5 508.95 L159.0 509.66 L159.5 509.94 L160.0 510.06 L160.5 510.40 L161.0 510.51 L161.5 510.24 L162.0 510.09 L162.5 510.11 L163.0 510.14 L163.5 509.85 L164.0 509.41 L164.5 509.59 L165.0 509.69 L165.5 509.23 L166.0 509.54 L166.5 510.20 L167.0 510.10 L167.5 510.03 L168.0 510.16 L168.5 509.98 L169.0 509.75 L169.5 509.78 L170.0 509.89 L170.5 510.14 L171.0 510.71 L171.5 511.24 L172.0 511.39 L172.5 511.47 L173.0 511.36 L173.5 511.14 L174.0 510.83 L174.5 510.57 L175.0 510.54 L175.5 510.36 L176.0 510.24 L176.5 510.59 L177.0 510.79 L177.5 510.43 L178.0 509.69 L178.5 509.51 L179.0 510.12 L179.5 510.00 L180.0 509.59 L180.5 509.87 L181.0 510.18 L181.5 510.40 L182.0 510.59 L182.5 510.72 L183.0 510.59 L183.5 510.42 L184.0 510.43 L184.5 510.29 L185.0 510.05 L185.5 510.25 L186.0 510.19 L186.5 509.73 L187.0 509.48 L187.5 509.46 L188.0 509.64 L188.5 509.70 L189.0 509.56 L189.5 509.74 L190.0 509.95 L190.5 509.93 L191.0 509.71 L191.5 509.33 L192.0 509.36 L192.5 509.33 L193.0 508.50 L193.5 507.69 L194.0 507.34 L194.5 506.98 L195.0 506.29 L195.5 505.46 L196.0 504.65 L196.5 504.18 L197.0 503.88 L197.5 503.69 L198.0 503.77 L198.5 503.68 L199.0 503.00 L199.5 502.37 L200.0 502.22 L200.5 501.79 L201.0 501.12 L201.5 500.68 L202.0 500.17 L202.5 499.77 L203.0 499.67 L203.5 499.52 L204.0 498.97 L204.5 498.62 L205.0 498.68 L205.5 498.70 L206.0 498.17 L206.5 497.45 L207.0 497.25 L207.5 497.12 L208.0 496.86 L208.5 496.23 L209.0 495.32 L209.5 494.74 L210.0 494.57 L210.5 494.74 L211.0 494.76 L211.5 494.26 L212.0 494.11 L212.5 494.23 L213.0 493.70 L213.5 493.30 L214.0 493.14 L214.5 493.17 L215.0 493.73 L215.5 494.10 L216.0 493.94 L216.5 493.74 L217.0 493.50 L217.5 493.39 L218.0 493.67 L218.5 493.86 L219.0 494.33 L219.5 495.22 L220.0 495.77 L220.5 496.13 L221.0 497.00 L221.5 497.67 L222.0 497.65 L222.5 497.66 L223.0 497.88 L223.5 498.06 L224.0 498.48 L224.5 499.23 L225.0 499.60 L225.5 499.46 L226.0 499.40 L226.5 499.47 L227.0 499.52 L227.5 499.59 L228.0 500.03 L228.5 500.78 L229.0 501.20 L229.5 501.67 L230.0 502.06 L230.5 501.88 L231.0 501.54 L231.5 501.26 L232.0 501.51 L232.5 501.93 L233.0 501.70 L233.5 501.22 L234.0 501.32 L234.5 501.80 L235.0 502.11 L235.5 502.40 L236.0 502.40 L236.5 502.18 L237.0 502.19 L237.5 502.20 L238.0 501.78 L238.5 501.32 L239.0 501.15 L239.5 500.89 L240.0 500.59 L240.5 500.45 L241.0 500.11 L241.5 499.76 L242.0 499.39 L242.5 499.01 L243.0 498.58 L243.5 498.12 L244.0 497.61 L244.5 497.07 L245.0 496.50 L245.5 495.91 L246.0 495.29 L246.5 494.65 L247.0 494.00 L247.5 493.34 L248.0 492.67 L248.5 491.99 L249.0 491.23 L249.5 490.38 L250.0 489.46 L250.5 488.91 L251.0 488.33 L251.5 487.72 L252.0 487.09 L252.5 486.45 L253.0 485.80 L253.5 484.67 L254.0 483.55 L254.5 482.36 L255.0 480.83 L255.5 478.98 L256.0 476.91 L256.5 474.66 L257.0 472.32 L257.5 469.84 L258.0 466.23 L258.5 461.26 L259.0 454.93 L259.5 447.06 L260.0 436.07 L260.5 422.80 L261.0 407.40 L261.5 389.87 L262.0 373.74 L262.5 356.73 L263.0 344.44 L263.5 335.73 L264.0 329.79 L264.5 327.33 L265.0 327.75 L265.5 330.70 L266.0 334.49 L266.5 339.95 L267.0 349.35 L267.5 364.26 L268.0 382.00 L268.5 402.01 L269.0 420.00 L269.5 434.32 L270.0 446.60 L270.5 457.02 L271.0 465.94 L271.5 474.22 L272.0 481.85 L272.5 488.70 L273.0 494.82 L273.5 500.59 L274.0 505.71 L274.5 509.80 L275.0 512.59 L275.5 514.91 L276.0 517.26 L276.5 518.92 L277.0 519.94 L277.5 520.81 L278.0 521.91 L278.5 522.89 L279.0 524.02 L279.5 524.97 L280.0 525.52 L280.5 525.81 L281.0 525.84 L281.5 525.92 L282.0 526.48 L282.5 527.07 L283.0 527.07 L283.5 526.98 L284.0 527.08 L284.5 527.32 L285.0 527.69 L285.5 527.96 L286.0 528.00 L286.5 527.98 L287.0 528.07 L287.5 528.15 L288.0 528.27 L288.5 528.84 L289.0 529.28 L289.5 529.27 L290.0 529.73 L290.5 530.11 L291.0 529.36 L291.5 528.87 L292.0 529.64 L292.5 530.74 L293.0 530.83 L293.5 530.20 L294.0 530.06 L294.5 529.98 L295.0 529.60 L295.5 529.59 L296.0 530.10 L296.5 530.34 L297.0 530.61 L297.5 531.17 L298.0 531.66 L298.5 531.37 L299.0 530.71 L299.5 530.72 L300.0 530.85 L300.5 530.56 L301.0 530.53 L301.5 530.50 L302.0 530.08 L302.5 529.85 L303.0 530.14 L303.5 530.74 L304.0 531.21 L304.5 531.56 L305.0 531.67 L305.5 531.65 L306.0 531.65 L306.5 531.63 L307.0 531.39 L307.5 531.42 L308.0 532.06 L308.5 532.66 L309.0 532.65 L309.5 531.87 L310.0 530.88 L310.5 529.90 L311.0 529.43 L311.5 530.18 L312.0 530.98 L312.5 530.76 L313.0 530.59 L313.5 531.12 L314.0 531.38 L314.5 531.36 L315.0 531.44 L315.5 531.60 L316.0 531.47 L316.5 531.12 L317.0 531.23 L317.5 531.67 L318.0 531.94 L318.5 532.06 L319.0 532.49 L319.5 532.74 L320.0 532.55 L320.5 532.16 L321.0 532.05 L321.5 531.73 L322.0 531.24 L322.5 531.19 L323.0 531.19 L323.5 531.01 L324.0 530.85 L324.5 530.86 L325.0 531.21 L325.5 531.42 L326.0 531.16 L326.5 531.17 L327.0 531.62 L327.4 531.72" fill="none" stroke="#1a1a1a" stroke-width="1.15" stroke-linejoin="round"/>
<path d="M24.0 498.60 L24.5 498.61 L25.0 498.62 L25.5 498.63 L26.0 498.64 L26.5 498.65 L27.0 498.65 L27.5 498.66 L28.0 498.66 L28.5 498.66 L29.0 498.66 L29.5 498.66 L30.0 498.66 L30.5 498.66 L31.0 498.65 L31.5 498.65 L32.0 498.64 L32.5 498.63 L33.0 498.62 L33.5 498.61 L34.0 498.59 L34.5 498.58 L35.0 498.56 L35.5 498.54 L36.0 498.52 L36.5 498.50 L37.0 498.48 L37.5 498.46 L38.0 498.43 L38.5 498.41 L39.0 498.38 L39.5 498.36 L40.0 498.33 L40.5 498.30 L41.0 498.27 L41.5 498.24 L42.0 498.21 L42.5 498.18 L43.0 498.15 L43.5 498.12 L44.0 498.09 L44.5 498.06 L45.0 498.03 L45.5 497.99 L46.0 497.96 L46.5 497.93 L47.0 497.89 L47.5 497.85 L48.0 497.82 L48.5 497.78 L49.0 497.73 L49.5 497.69 L50.0 497.64 L50.5 497.59 L51.0 497.54 L51.5 497.49 L52.0 497.44 L52.5 497.38 L53.0 497.32 L53.5 497.26 L54.0 497.19 L54.5 497.13 L55.0 497.06 L55.5 496.98 L56.0 496.90 L56.5 496.81 L57.0 496.72 L57.5 496.62 L58.0 496.51 L58.5 496.39 L59.0 496.27 L59.5 496.15 L60.0 496.01 L60.5 495.87 L61.0 495.73 L61.5 495.57 L62.0 495.41 L62.5 495.24 L63.0 495.06 L63.5 494.89 L64.0 494.71 L64.5 494.53 L65.0 494.35 L65.5 494.17 L66.0 493.99 L66.5 493.81 L67.0 493.63 L67.5 493.45 L68.0 493.27 L68.5 493.09 L69.0 492.92 L69.5 492.74 L70.0 492.56 L70.5 492.38 L71.0 492.20 L71.5 492.02 L72.0 491.84 L72.5 491.66 L73.0 491.49 L73.5 491.31 L74.0 491.13 L74.5 490.95 L75.0 490.77 L75.5 490.60 L76.0 490.42 L76.5 490.24 L77.0 490.06 L77.5 489.90 L78.0 489.75 L78.5 489.61 L79.0 489.49 L79.5 489.38 L80.0 489.28 L80.5 489.19 L81.0 489.11 L81.5 489.04 L82.0 488.98 L82.5 488.92 L83.0 488.87 L83.5 488.84 L84.0 488.83 L84.5 488.84 L85.0 488.88 L85.5 488.93 L86.0 489.00 L86.5 489.09 L87.0 489.20 L87.5 489.33 L88.0 489.48 L88.5 489.65 L89.0 489.84 L89.5 490.04 L90.0 490.24 L90.5 490.44 L91.0 490.63 L91.5 490.81 L92.0 490.97 L92.5 491.11 L93.0 491.25 L93.5 491.38 L94.0 491.51 L94.5 491.62 L95.0 491.73 L95.5 491.82 L96.0 491.90 L96.5 491.97 L97.0 492.03 L97.5 492.04 L98.0 492.02 L98.5 491.96 L99.0 491.88 L99.5 491.78 L100.0 491.66 L100.5 491.53 L101.0 491.39 L101.5 491.23 L102.0 491.06 L102.5 490.86 L103.0 490.65 L103.5 490.41 L104.0 490.15 L104.5 489.87 L105.0 489.58 L105.5 489.27 L106.0 488.95 L106.5 488.62 L107.0 488.29 L107.5 487.95 L108.0 487.60 L108.5 487.25 L109.0 486.88 L109.5 486.50 L110.0 486.11 L110.5 485.70 L111.0 485.29 L111.5 484.82 L112.0 484.27 L112.5 483.65 L113.0 482.99 L113.5 482.30 L114.0 481.56 L114.5 480.73 L115.0 479.82 L115.5 478.83 L116.0 477.76 L116.5 476.55 L117.0 475.16 L117.5 473.55 L118.0 471.75 L118.5 469.87 L119.0 467.91 L119.5 465.88 L120.0 463.78 L120.5 461.67 L121.0 459.60 L121.5 457.61 L122.0 455.69 L122.5 453.82 L123.0 451.97 L123.5 450.30 L124.0 448.76 L124.5 447.30 L125.0 446.06 L125.5 445.20 L126.0 444.68 L126.5 444.45 L127.0 444.69 L127.5 445.43 L128.0 446.64 L128.5 448.31 L129.0 450.20 L129.5 452.36 L130.0 454.87 L130.5 457.76 L131.0 460.75 L131.5 463.76 L132.0 466.76 L132.5 469.70 L133.0 472.59 L133.5 475.47 L134.0 478.32 L134.5 481.15 L135.0 483.96 L135.5 486.63 L136.0 489.09 L136.5 491.34 L137.0 493.36 L137.5 495.14 L138.0 496.69 L138.5 498.04 L139.0 499.21 L139.5 500.22 L140.0 501.07 L140.5 501.80 L141.0 502.46 L141.5 503.12 L142.0 503.75 L142.5 504.37 L143.0 504.95 L143.5 505.49 L144.0 505.99 L144.5 506.44 L145.0 506.83 L145.5 507.16 L146.0 507.47 L146.5 507.77 L147.0 508.07 L147.5 508.35 L148.0 508.62 L148.5 508.86 L149.0 509.07 L149.5 509.26 L150.0 509.40 L150.5 509.52 L151.0 509.65 L151.5 509.76 L152.0 509.88 L152.5 509.99 L153.0 510.09 L153.5 510.18 L154.0 510.26 L154.5 510.34 L155.0 510.40 L155.5 510.46 L156.0 510.51 L156.5 510.57 L157.0 510.62 L157.5 510.67 L158.0 510.72 L158.5 510.77 L159.0 510.82 L159.5 510.86 L160.0 510.91 L160.5 510.94 L161.0 510.98 L161.5 511.02 L162.0 511.05 L162.5 511.07 L163.0 511.10 L163.5 511.12 L164.0 511.13 L164.5 511.15 L165.0 511.16 L165.5 511.17 L166.0 511.18 L166.5 511.19 L167.0 511.19 L167.5 511.20 L168.0 511.20 L168.5 511.20 L169.0 511.20 L169.5 511.20 L170.0 511.19 L170.5 511.19 L171.0 511.18 L171.5 511.18 L172.0 511.17 L172.5 511.17 L173.0 511.16 L173.5 511.15 L174.0 511.14 L174.5 511.13 L175.0 511.12 L175.5 511.11 L176.0 511.11 L176.5 511.10 L177.0 511.09 L177.5 511.07 L178.0 511.06 L178.5 511.04 L179.0 511.02 L179.5 510.99 L180.0 510.97 L180.5 510.94 L181.0 510.90 L181.5 510.87 L182.0 510.83 L182.5 510.78 L183.0 510.74 L183.5 510.69 L184.0 510.63 L184.5 510.58 L185.0 510.52 L185.5 510.45 L186.0 510.38 L186.5 510.31 L187.0 510.23 L187.5 510.15 L188.0 510.06 L188.5 509.97 L189.0 509.88 L189.5 509.78 L190.0 509.66 L190.5 509.52 L191.0 509.35 L191.5 509.17 L192.0 508.96 L192.5 508.72 L193.0 508.47 L193.5 508.19 L194.0 507.89 L194.5 507.57 L195.0 507.24 L195.5 506.88 L196.0 506.50 L196.5 506.11 L197.0 505.72 L197.5 505.33 L198.0 504.93 L198.5 504.54 L199.0 504.14 L199.5 503.75 L200.0 503.35 L200.5 502.95 L201.0 502.56 L201.5 502.16 L202.0 501.77 L202.5 501.38 L203.0 500.99 L203.5 500.60 L204.0 500.21 L204.5 499.82 L205.0 499.43 L205.5 499.05 L206.0 498.66 L206.5 498.28 L207.0 497.89 L207.5 497.51 L208.0 497.13 L208.5 496.75 L209.0 496.38 L209.5 496.02 L210.0 495.72 L210.5 495.48 L211.0 495.30 L211.5 495.16 L212.0 495.06 L212.5 494.99 L213.0 494.96 L213.5 494.96 L214.0 494.97 L214.5 495.01 L215.0 495.06 L215.5 495.14 L216.0 495.24 L216.5 495.37 L217.0 495.52 L217.5 495.70 L218.0 495.90 L218.5 496.12 L219.0 496.37 L219.5 496.64 L220.0 496.95 L220.5 497.30 L221.0 497.68 L221.5 498.08 L222.0 498.49 L222.5 498.91 L223.0 499.32 L223.5 499.70 L224.0 500.06 L224.5 500.38 L225.0 500.65 L225.5 500.89 L226.0 501.13 L226.5 501.35 L227.0 501.56 L227.5 501.76 L228.0 501.95 L228.5 502.13 L229.0 502.29 L229.5 502.44 L230.0 502.57 L230.5 502.70 L231.0 502.81 L231.5 502.91 L232.0 503.00 L232.5 503.09 L233.0 503.16 L233.5 503.23 L234.0 503.29 L234.5 503.34 L235.0 503.36 L235.5 503.35 L236.0 503.32 L236.5 503.27 L237.0 503.20 L237.5 503.10 L238.0 502.94 L238.5 502.75 L239.0 502.52 L239.5 502.26 L240.0 501.96 L240.5 501.64 L241.0 501.29 L241.5 500.93 L242.0 500.55 L242.5 500.16 L243.0 499.72 L243.5 499.25 L244.0 498.73 L244.5 498.18 L245.0 497.60 L245.5 497.00 L246.0 496.37 L246.5 495.72 L247.0 495.06 L247.5 494.39 L248.0 493.71 L248.5 493.02 L249.0 492.25 L249.5 491.39 L250.0 490.46 L250.5 489.47 L251.0 488.43 L251.5 487.35 L252.0 486.24 L252.5 485.12 L253.0 484.00 L253.5 482.87 L254.0 481.48 L254.5 479.75 L255.0 477.76 L255.5 475.57 L256.0 473.26 L256.5 470.90 L257.0 467.84 L257.5 463.41 L258.0 457.62 L258.5 450.50 L259.0 440.82 L259.5 428.29 L260.0 413.99 L260.5 396.92 L261.0 379.79 L261.5 365.94 L262.0 355.01 L262.5 346.44 L263.0 339.84 L263.5 334.66 L264.0 330.90 L264.5 328.72 L265.0 329.05 L265.5 331.68 L266.0 335.14 L266.5 340.27 L267.0 349.35 L267.5 364.26 L268.0 382.00 L268.5 402.01 L269.0 420.00 L269.5 434.32 L270.0 446.60 L270.5 457.02 L271.0 465.94 L271.5 474.22 L272.0 481.85 L272.5 488.70 L273.0 494.82 L273.5 500.59 L274.0 505.71 L274.5 509.80 L275.0 512.59 L275.5 514.91 L276.0 517.00 L276.5 518.84 L277.0 520.42 L277.5 521.73 L278.0 522.76 L278.5 523.50 L279.0 523.96 L279.5 524.38 L280.0 524.80 L280.5 525.21 L281.0 525.62 L281.5 526.01 L282.0 526.38 L282.5 526.73 L283.0 527.05 L283.5 527.34 L284.0 527.58 L284.5 527.78 L285.0 527.93 L285.5 528.06 L286.0 528.19 L286.5 528.33 L287.0 528.46 L287.5 528.60 L288.0 528.73 L288.5 528.87 L289.0 529.00 L289.5 529.13 L290.0 529.25 L290.5 529.37 L291.0 529.49 L291.5 529.59 L292.0 529.70 L292.5 529.79 L293.0 529.88 L293.5 529.97 L294.0 530.05 L294.5 530.13 L295.0 530.22 L295.5 530.30 L296.0 530.38 L296.5 530.46 L297.0 530.53 L297.5 530.60 L298.0 530.67 L298.5 530.74 L299.0 530.80 L299.5 530.85 L300.0 530.90 L300.5 530.95 L301.0 530.99 L301.5 531.03 L302.0 531.07 L302.5 531.11 L303.0 531.15 L303.5 531.19 L304.0 531.23 L304.5 531.26 L305.0 531.30 L305.5 531.33 L306.0 531.36 L306.5 531.39 L307.0 531.42 L307.5 531.45 L308.0 531.48 L308.5 531.51 L309.0 531.53 L309.5 531.55 L310.0 531.58 L310.5 531.60 L311.0 531.62 L311.5 531.64 L312.0 531.66 L312.5 531.67 L313.0 531.69 L313.5 531.71 L314.0 531.72 L314.5 531.73 L315.0 531.74 L315.5 531.76 L316.0 531.76 L316.5 531.77 L317.0 531.78 L317.5 531.79 L318.0 531.79 L318.5 531.80 L319.0 531.80 L319.5 531.80 L320.0 531.80 L320.5 531.80 L321.0 531.80 L321.5 531.80 L322.0 531.80 L322.5 531.79 L323.0 531.79 L323.5 531.78 L324.0 531.77 L324.5 531.77 L325.0 531.76 L325.5 531.75 L326.0 531.74 L326.5 531.72 L327.0 531.71 L327.4 531.70" fill="none" stroke="#f01414" stroke-width="1.3" stroke-linejoin="round"/>
<path d="M372.3 518.20 L372.8 518.19 L373.3 518.19 L373.8 518.18 L374.3 518.18 L374.8 518.17 L375.3 518.17 L375.8 518.16 L376.3 518.16 L376.8 518.15 L377.3 518.14 L377.8 518.14 L378.3 518.13 L378.8 518.12 L379.3 518.12 L379.8 518.11 L380.3 518.10 L380.8 518.10 L381.3 518.09 L381.8 518.08 L382.3 518.07 L382.8 518.07 L383.3 518.06 L383.8 518.05 L384.3 518.04 L384.8 518.04 L385.3 518.03 L385.8 518.02 L386.3 518.01 L386.8 518.01 L387.3 518.00 L387.8 517.99 L388.3 517.98 L388.8 517.97 L389.3 517.96 L389.8 517.96 L390.3 517.95 L390.8 517.94 L391.3 517.93 L391.8 517.92 L392.3 517.91 L392.8 517.90 L393.3 517.89 L393.8 517.89 L394.3 517.88 L394.8 517.87 L395.3 517.86 L395.8 517.85 L396.3 517.84 L396.8 517.83 L397.3 517.82 L397.8 517.81 L398.3 517.80 L398.8 517.79 L399.3 517.79 L399.8 517.78 L400.3 517.77 L400.8 517.76 L401.3 517.75 L401.8 517.74 L402.3 517.73 L402.8 517.72 L403.3 517.71 L403.8 517.70 L404.3 517.69 L404.8 517.68 L405.3 517.67 L405.8 517.67 L406.3 517.66 L406.8 517.65 L407.3 517.64 L407.8 517.63 L408.3 517.62 L408.8 517.61 L409.3 517.60 L409.8 517.59 L410.3 517.58 L410.8 517.57 L411.3 517.57 L411.8 517.56 L412.3 517.55 L412.8 517.54 L413.3 517.53 L413.8 517.52 L414.3 517.51 L414.8 517.50 L415.3 517.49 L415.8 517.48 L416.3 517.47 L416.8 517.46 L417.3 517.45 L417.8 517.44 L418.3 517.43 L418.8 517.42 L419.3 517.41 L419.8 517.40 L420.3 517.39 L420.8 517.38 L421.3 517.37 L421.8 517.36 L422.3 517.35 L422.8 517.33 L423.3 517.32 L423.8 517.31 L424.3 517.29 L424.8 517.28 L425.3 517.27 L425.8 517.25 L426.3 517.24 L426.8 517.22 L427.3 517.21 L427.8 517.19 L428.3 517.18 L428.8 517.16 L429.3 517.14 L429.8 517.13 L430.3 517.11 L430.8 517.09 L431.3 517.07 L431.8 517.05 L432.3 517.03 L432.8 517.01 L433.3 516.99 L433.8 516.97 L434.3 516.95 L434.8 516.93 L435.3 516.90 L435.8 516.88 L436.3 516.86 L436.8 516.83 L437.3 516.81 L437.8 516.78 L438.3 516.75 L438.8 516.72 L439.3 516.69 L439.8 516.65 L440.3 516.61 L440.8 516.58 L441.3 516.53 L441.8 516.49 L442.3 516.45 L442.8 516.40 L443.3 516.36 L443.8 516.31 L444.3 516.26 L444.8 516.21 L445.3 516.16 L445.8 516.10 L446.3 516.05 L446.8 515.99 L447.3 515.94 L447.8 515.88 L448.3 515.82 L448.8 515.77 L449.3 515.71 L449.8 515.65 L450.3 515.59 L450.8 515.53 L451.3 515.47 L451.8 515.41 L452.3 515.35 L452.8 515.29 L453.3 515.23 L453.8 515.17 L454.3 515.11 L454.8 515.05 L455.3 514.99 L455.8 514.93 L456.3 514.88 L456.8 514.82 L457.3 514.76 L457.8 514.70 L458.3 514.64 L458.8 514.58 L459.3 514.52 L459.8 514.46 L460.3 514.40 L460.8 514.34 L461.3 514.28 L461.8 514.22 L462.3 514.16 L462.8 514.10 L463.3 514.04 L463.8 513.98 L464.3 513.91 L464.8 513.85 L465.3 513.79 L465.8 513.72 L466.3 513.66 L466.8 513.59 L467.3 513.53 L467.8 513.46 L468.3 513.40 L468.8 513.33 L469.3 513.26 L469.8 513.20 L470.3 513.13 L470.8 513.06 L471.3 512.99 L471.8 512.92 L472.3 512.85 L472.8 512.78 L473.3 512.71 L473.8 512.64 L474.3 512.57 L474.8 512.50 L475.3 512.43 L475.8 512.35 L476.3 512.26 L476.8 512.18 L477.3 512.09 L477.8 511.99 L478.3 511.89 L478.8 511.78 L479.3 511.67 L479.8 511.55 L480.3 511.43 L480.8 511.30 L481.3 511.17 L481.8 511.04 L482.3 510.90 L482.8 510.77 L483.3 510.63 L483.8 510.49 L484.3 510.35 L484.8 510.21 L485.3 510.07 L485.8 509.93 L486.3 509.79 L486.8 509.65 L487.3 509.50 L487.8 509.36 L488.3 509.22 L488.8 509.07 L489.3 508.92 L489.8 508.77 L490.3 508.61 L490.8 508.46 L491.3 508.30 L491.8 508.13 L492.3 507.96 L492.8 507.78 L493.3 507.59 L493.8 507.38 L494.3 507.17 L494.8 506.95 L495.3 506.72 L495.8 506.48 L496.3 506.24 L496.8 506.00 L497.3 505.75 L497.8 505.50 L498.3 505.25 L498.8 504.99 L499.3 504.74 L499.8 504.48 L500.3 504.21 L500.8 503.95 L501.3 503.68 L501.8 503.41 L502.3 503.14 L502.8 502.86 L503.3 502.58 L503.8 502.30 L504.3 502.01 L504.8 501.72 L505.3 501.43 L505.8 501.13 L506.3 500.83 L506.8 500.52 L507.3 500.21 L507.8 499.90 L508.3 499.59 L508.8 499.27 L509.3 498.95 L509.8 498.64 L510.3 498.30 L510.8 497.94 L511.3 497.56 L511.8 497.17 L512.3 496.77 L512.8 496.37 L513.3 495.97 L513.8 495.58 L514.3 495.20 L514.8 494.83 L515.3 494.49 L515.8 494.18 L516.3 493.89 L516.8 493.63 L517.3 493.39 L517.8 493.18 L518.3 492.98 L518.8 492.80 L519.3 492.63 L519.8 492.48 L520.3 492.34 L520.8 492.20 L521.3 492.08 L521.8 491.95 L522.3 491.84 L522.8 491.74 L523.3 491.66 L523.8 491.61 L524.3 491.58 L524.8 491.58 L525.3 491.62 L525.8 491.68 L526.3 491.75 L526.8 491.85 L527.3 491.96 L527.8 492.09 L528.3 492.24 L528.8 492.40 L529.3 492.57 L529.8 492.76 L530.3 492.96 L530.8 493.16 L531.3 493.36 L531.8 493.58 L532.3 493.80 L532.8 494.03 L533.3 494.29 L533.8 494.56 L534.3 494.85 L534.8 495.16 L535.3 495.49 L535.8 495.82 L536.3 496.15 L536.8 496.49 L537.3 496.83 L537.8 497.17 L538.3 497.51 L538.8 497.86 L539.3 498.21 L539.8 498.56 L540.3 498.91 L540.8 499.27 L541.3 499.62 L541.8 499.98 L542.3 500.34 L542.8 500.70 L543.3 501.06 L543.8 501.42 L544.3 501.79 L544.8 502.15 L545.3 502.52 L545.8 502.92 L546.3 503.33 L546.8 503.75 L547.3 504.19 L547.8 504.63 L548.3 505.07 L548.8 505.51 L549.3 505.94 L549.8 506.36 L550.3 506.76 L550.8 507.14 L551.3 507.50 L551.8 507.83 L552.3 508.15 L552.8 508.46 L553.3 508.76 L553.8 509.05 L554.3 509.34 L554.8 509.63 L555.3 509.91 L555.8 510.18 L556.3 510.46 L556.8 510.72 L557.3 510.99 L557.8 511.25 L558.3 511.51 L558.8 511.78 L559.3 512.04 L559.8 512.30 L560.3 512.56 L560.8 512.82 L561.3 513.08 L561.8 513.34 L562.3 513.59 L562.8 513.85 L563.3 514.11 L563.8 514.36 L564.3 514.62 L564.8 514.87 L565.3 515.12 L565.8 515.36 L566.3 515.61 L566.8 515.85 L567.3 516.09 L567.8 516.32 L568.3 516.55 L568.8 516.78 L569.3 517.00 L569.8 517.22 L570.3 517.44 L570.8 517.66 L571.3 517.87 L571.8 518.08 L572.3 518.29 L572.8 518.49 L573.3 518.70 L573.8 518.90 L574.3 519.10 L574.8 519.29 L575.3 519.48 L575.8 519.68 L576.3 519.87 L576.8 520.05 L577.3 520.24 L577.8 520.43 L578.3 520.61 L578.8 520.79 L579.3 520.97 L579.8 521.14 L580.3 521.31 L580.8 521.47 L581.3 521.64 L581.8 521.80 L582.3 521.95 L582.8 522.11 L583.3 522.26 L583.8 522.41 L584.3 522.55 L584.8 522.69 L585.3 522.83 L585.8 522.97 L586.3 523.10 L586.8 523.23 L587.3 523.36 L587.8 523.48 L588.3 523.60 L588.8 523.72 L589.3 523.84 L589.8 523.95 L590.3 524.07 L590.8 524.18 L591.3 524.29 L591.8 524.39 L592.3 524.50 L592.8 524.60 L593.3 524.70 L593.8 524.80 L594.3 524.90 L594.8 525.00 L595.3 525.10 L595.8 525.19 L596.3 525.28 L596.8 525.37 L597.3 525.46 L597.8 525.55 L598.3 525.63 L598.8 525.72 L599.3 525.80 L599.8 525.88 L600.3 525.96 L600.8 526.04 L601.3 526.11 L601.8 526.19 L602.3 526.26 L602.8 526.33 L603.3 526.40 L603.8 526.47 L604.3 526.54 L604.8 526.60 L605.3 526.67 L605.8 526.73 L606.3 526.79 L606.8 526.85 L607.3 526.91 L607.8 526.97 L608.3 527.02 L608.8 527.07 L609.3 527.13 L609.8 527.18 L610.3 527.23 L610.8 527.27 L611.3 527.32 L611.8 527.37 L612.3 527.41 L612.8 527.45 L613.3 527.49 L613.8 527.53 L614.3 527.57 L614.8 527.61 L615.3 527.65 L615.8 527.68 L616.3 527.72 L616.8 527.76 L617.3 527.79 L617.8 527.83 L618.3 527.86 L618.8 527.90 L619.3 527.93 L619.8 527.96 L620.3 528.00 L620.8 528.03 L621.3 528.06 L621.8 528.09 L622.3 528.12 L622.8 528.15 L623.3 528.18 L623.8 528.21 L624.3 528.24 L624.8 528.27 L625.3 528.29 L625.8 528.32 L626.3 528.35 L626.8 528.37 L627.3 528.40 L627.8 528.42 L628.3 528.45 L628.8 528.47 L629.3 528.49 L629.8 528.51 L630.3 528.54 L630.8 528.56 L631.3 528.58 L631.8 528.60 L632.3 528.62 L632.8 528.64 L633.3 528.66 L633.8 528.67 L634.3 528.69 L634.8 528.71 L635.3 528.73 L635.8 528.74 L636.3 528.76 L636.8 528.77 L637.3 528.79 L637.8 528.80 L638.3 528.81 L638.8 528.83 L639.3 528.84 L639.8 528.85 L640.3 528.86 L640.8 528.87 L641.3 528.88 L641.8 528.89 L642.3 528.90 L642.8 528.91 L643.3 528.91 L643.8 528.92 L644.3 528.93 L644.8 528.93 L645.3 528.94 L645.8 528.95 L646.3 528.95 L646.8 528.95 L647.3 528.96 L647.8 528.96 L648.3 528.96 L648.8 528.96 L649.3 528.97 L649.8 528.97 L650.3 528.97 L650.8 528.97 L651.3 528.97 L651.8 528.96 L652.3 528.96 L652.8 528.96 L653.3 528.96 L653.8 528.95 L654.3 528.95 L654.8 528.94 L655.3 528.94 L655.8 528.93 L656.3 528.93 L656.8 528.92 L657.3 528.91 L657.8 528.90 L658.3 528.89 L658.8 528.89 L659.3 528.88 L659.8 528.87 L660.3 528.85 L660.8 528.84 L661.3 528.83 L661.8 528.82 L662.3 528.81 L662.8 528.79 L663.3 528.78 L663.8 528.76 L664.3 528.75 L664.8 528.73 L665.3 528.72 L665.8 528.70 L666.3 528.68 L666.8 528.66 L667.3 528.65 L667.8 528.63 L668.3 528.61 L668.8 528.59 L669.3 528.57 L669.8 528.54 L670.3 528.52 L670.8 528.50 L671.3 528.48 L671.8 528.45 L672.3 528.43 L672.8 528.41 L673.3 528.38 L673.8 528.35 L674.3 528.33 L674.8 528.30 L675.3 528.27 L675.8 528.25 L676.3 528.22 L676.6 528.20" fill="none" stroke="#3cc8f5" stroke-width="1.0" stroke-linejoin="round"/>
<path d="M372.3 519.20 L372.8 519.20 L373.3 519.21 L373.8 519.21 L374.3 519.22 L374.8 519.22 L375.3 519.22 L375.8 519.23 L376.3 519.23 L376.8 519.23 L377.3 519.24 L377.8 519.24 L378.3 519.24 L378.8 519.25 L379.3 519.25 L379.8 519.25 L380.3 519.26 L380.8 519.26 L381.3 519.26 L381.8 519.26 L382.3 519.27 L382.8 519.27 L383.3 519.27 L383.8 519.27 L384.3 519.28 L384.8 519.28 L385.3 519.28 L385.8 519.28 L386.3 519.28 L386.8 519.29 L387.3 519.29 L387.8 519.29 L388.3 519.29 L388.8 519.29 L389.3 519.29 L389.8 519.30 L390.3 519.30 L390.8 519.30 L391.3 519.30 L391.8 519.30 L392.3 519.30 L392.8 519.30 L393.3 519.30 L393.8 519.30 L394.3 519.30 L394.8 519.31 L395.3 519.31 L395.8 519.31 L396.3 519.31 L396.8 519.31 L397.3 519.31 L397.8 519.31 L398.3 519.31 L398.8 519.31 L399.3 519.31 L399.8 519.31 L400.3 519.31 L400.8 519.31 L401.3 519.31 L401.8 519.31 L402.3 519.31 L402.8 519.31 L403.3 519.31 L403.8 519.31 L404.3 519.31 L404.8 519.31 L405.3 519.30 L405.8 519.30 L406.3 519.30 L406.8 519.30 L407.3 519.30 L407.8 519.30 L408.3 519.30 L408.8 519.30 L409.3 519.30 L409.8 519.30 L410.3 519.30 L410.8 519.29 L411.3 519.29 L411.8 519.29 L412.3 519.29 L412.8 519.29 L413.3 519.29 L413.8 519.29 L414.3 519.29 L414.8 519.28 L415.3 519.28 L415.8 519.28 L416.3 519.28 L416.8 519.28 L417.3 519.28 L417.8 519.27 L418.3 519.27 L418.8 519.27 L419.3 519.27 L419.8 519.27 L420.3 519.26 L420.8 519.26 L421.3 519.26 L421.8 519.26 L422.3 519.26 L422.8 519.25 L423.3 519.25 L423.8 519.25 L424.3 519.25 L424.8 519.24 L425.3 519.24 L425.8 519.24 L426.3 519.24 L426.8 519.23 L427.3 519.23 L427.8 519.23 L428.3 519.23 L428.8 519.22 L429.3 519.22 L429.8 519.22 L430.3 519.22 L430.8 519.21 L431.3 519.21 L431.8 519.21 L432.3 519.20 L432.8 519.20 L433.3 519.20 L433.8 519.20 L434.3 519.19 L434.8 519.19 L435.3 519.19 L435.8 519.18 L436.3 519.18 L436.8 519.18 L437.3 519.18 L437.8 519.17 L438.3 519.17 L438.8 519.17 L439.3 519.16 L439.8 519.16 L440.3 519.16 L440.8 519.15 L441.3 519.15 L441.8 519.15 L442.3 519.14 L442.8 519.14 L443.3 519.14 L443.8 519.13 L444.3 519.13 L444.8 519.13 L445.3 519.12 L445.8 519.12 L446.3 519.12 L446.8 519.11 L447.3 519.11 L447.8 519.11 L448.3 519.10 L448.8 519.10 L449.3 519.10 L449.8 519.09 L450.3 519.09 L450.8 519.09 L451.3 519.08 L451.8 519.08 L452.3 519.08 L452.8 519.07 L453.3 519.07 L453.8 519.07 L454.3 519.06 L454.8 519.06 L455.3 519.06 L455.8 519.05 L456.3 519.05 L456.8 519.05 L457.3 519.04 L457.8 519.04 L458.3 519.04 L458.8 519.03 L459.3 519.03 L459.8 519.03 L460.3 519.02 L460.8 519.02 L461.3 519.02 L461.8 519.01 L462.3 519.01 L462.8 519.01 L463.3 519.00 L463.8 519.00 L464.3 519.00 L464.8 518.99 L465.3 518.99 L465.8 518.99 L466.3 518.98 L466.8 518.98 L467.3 518.98 L467.8 518.97 L468.3 518.97 L468.8 518.97 L469.3 518.96 L469.8 518.96 L470.3 518.96 L470.8 518.95 L471.3 518.95 L471.8 518.95 L472.3 518.95 L472.8 518.94 L473.3 518.94 L473.8 518.94 L474.3 518.93 L474.8 518.93 L475.3 518.93 L475.8 518.92 L476.3 518.92 L476.8 518.92 L477.3 518.92 L477.8 518.91 L478.3 518.91 L478.8 518.91 L479.3 518.90 L479.8 518.90 L480.3 518.90 L480.8 518.89 L481.3 518.89 L481.8 518.89 L482.3 518.88 L482.8 518.88 L483.3 518.87 L483.8 518.86 L484.3 518.86 L484.8 518.85 L485.3 518.84 L485.8 518.84 L486.3 518.83 L486.8 518.82 L487.3 518.81 L487.8 518.80 L488.3 518.79 L488.8 518.78 L489.3 518.77 L489.8 518.76 L490.3 518.74 L490.8 518.73 L491.3 518.72 L491.8 518.71 L492.3 518.69 L492.8 518.68 L493.3 518.67 L493.8 518.65 L494.3 518.64 L494.8 518.62 L495.3 518.61 L495.8 518.59 L496.3 518.57 L496.8 518.56 L497.3 518.54 L497.8 518.52 L498.3 518.51 L498.8 518.49 L499.3 518.47 L499.8 518.45 L500.3 518.44 L500.8 518.42 L501.3 518.40 L501.8 518.38 L502.3 518.36 L502.8 518.34 L503.3 518.32 L503.8 518.30 L504.3 518.27 L504.8 518.23 L505.3 518.18 L505.8 518.12 L506.3 518.05 L506.8 517.97 L507.3 517.89 L507.8 517.79 L508.3 517.69 L508.8 517.59 L509.3 517.47 L509.8 517.36 L510.3 517.24 L510.8 517.12 L511.3 516.99 L511.8 516.87 L512.3 516.75 L512.8 516.62 L513.3 516.50 L513.8 516.37 L514.3 516.23 L514.8 516.07 L515.3 515.90 L515.8 515.72 L516.3 515.53 L516.8 515.33 L517.3 515.11 L517.8 514.89 L518.3 514.66 L518.8 514.42 L519.3 514.17 L519.8 513.91 L520.3 513.65 L520.8 513.37 L521.3 513.05 L521.8 512.70 L522.3 512.30 L522.8 511.88 L523.3 511.43 L523.8 510.95 L524.3 510.45 L524.8 509.94 L525.3 509.41 L525.8 508.87 L526.3 508.32 L526.8 507.77 L527.3 507.22 L527.8 506.66 L528.3 506.06 L528.8 505.39 L529.3 504.64 L529.8 503.80 L530.3 502.86 L530.8 501.80 L531.3 500.60 L531.8 499.25 L532.3 497.76 L532.8 496.14 L533.3 494.41 L533.8 492.61 L534.3 490.73 L534.8 488.81 L535.3 486.88 L535.8 484.91 L536.3 482.85 L536.8 480.64 L537.3 478.26 L537.8 475.84 L538.3 473.37 L538.8 470.86 L539.3 468.31 L539.8 465.73 L540.3 463.14 L540.8 460.53 L541.3 457.91 L541.8 455.30 L542.3 452.68 L542.8 450.08 L543.3 447.49 L543.8 445.00 L544.3 442.61 L544.8 440.25 L545.3 437.88 L545.8 435.43 L546.3 432.84 L546.8 430.06 L547.3 427.04 L547.8 423.83 L548.3 420.46 L548.8 416.98 L549.3 413.45 L549.8 409.90 L550.3 406.36 L550.8 402.82 L551.3 399.28 L551.8 395.73 L552.3 392.19 L552.8 388.65 L553.3 385.11 L553.8 381.57 L554.3 378.03 L554.8 374.53 L555.3 371.46 L555.8 368.78 L556.3 366.38 L556.8 364.11 L557.3 361.84 L557.8 359.63 L558.3 357.54 L558.8 355.59 L559.3 353.82 L559.8 352.24 L560.3 350.88 L560.8 349.75 L561.3 348.85 L561.8 348.14 L562.3 347.60 L562.8 347.21 L563.3 346.94 L563.8 346.79 L564.3 346.71 L564.8 346.70 L565.3 346.75 L565.8 346.86 L566.3 347.07 L566.8 347.38 L567.3 347.81 L567.8 348.38 L568.3 349.10 L568.8 349.99 L569.3 351.07 L569.8 352.35 L570.3 353.84 L570.8 355.53 L571.3 357.43 L571.8 359.52 L572.3 361.82 L572.8 364.29 L573.3 366.87 L573.8 369.57 L574.3 372.38 L574.8 375.30 L575.3 378.32 L575.8 381.44 L576.3 384.66 L576.8 388.00 L577.3 391.47 L577.8 395.13 L578.3 399.14 L578.8 403.45 L579.3 408.02 L579.8 412.91 L580.3 418.40 L580.8 423.95 L581.3 428.94 L581.8 433.50 L582.3 437.84 L582.8 441.95 L583.3 445.81 L583.8 449.42 L584.3 452.94 L584.8 456.36 L585.3 459.69 L585.8 462.89 L586.3 465.96 L586.8 468.88 L587.3 471.65 L587.8 474.34 L588.3 476.97 L588.8 479.54 L589.3 482.07 L589.8 484.56 L590.3 487.02 L590.8 489.46 L591.3 491.88 L591.8 494.27 L592.3 496.60 L592.8 498.86 L593.3 501.02 L593.8 503.07 L594.3 504.98 L594.8 506.74 L595.3 508.32 L595.8 509.73 L596.3 510.99 L596.8 512.11 L597.3 513.10 L597.8 513.98 L598.3 514.75 L598.8 515.44 L599.3 516.05 L599.8 516.60 L600.3 517.10 L600.8 517.61 L601.3 518.11 L601.8 518.60 L602.3 519.09 L602.8 519.58 L603.3 520.05 L603.8 520.51 L604.3 520.95 L604.8 521.38 L605.3 521.80 L605.8 522.19 L606.3 522.56 L606.8 522.90 L607.3 523.22 L607.8 523.51 L608.3 523.77 L608.8 524.00 L609.3 524.21 L609.8 524.43 L610.3 524.64 L610.8 524.85 L611.3 525.06 L611.8 525.26 L612.3 525.46 L612.8 525.65 L613.3 525.83 L613.8 526.00 L614.3 526.16 L614.8 526.32 L615.3 526.45 L615.8 526.57 L616.3 526.68 L616.8 526.77 L617.3 526.84 L617.8 526.92 L618.3 526.99 L618.8 527.06 L619.3 527.13 L619.8 527.19 L620.3 527.26 L620.8 527.32 L621.3 527.38 L621.8 527.44 L622.3 527.50 L622.8 527.55 L623.3 527.61 L623.8 527.65 L624.3 527.70 L624.8 527.74 L625.3 527.78 L625.8 527.81 L626.3 527.84 L626.8 527.87 L627.3 527.89 L627.8 527.91 L628.3 527.93 L628.8 527.95 L629.3 527.96 L629.8 527.98 L630.3 528.00 L630.8 528.01 L631.3 528.03 L631.8 528.05 L632.3 528.06 L632.8 528.08 L633.3 528.10 L633.8 528.11 L634.3 528.13 L634.8 528.14 L635.3 528.16 L635.8 528.17 L636.3 528.19 L636.8 528.20 L637.3 528.22 L637.8 528.23 L638.3 528.25 L638.8 528.26 L639.3 528.28 L639.8 528.29 L640.3 528.30 L640.8 528.32 L641.3 528.33 L641.8 528.34 L642.3 528.35 L642.8 528.37 L643.3 528.38 L643.8 528.39 L644.3 528.40 L644.8 528.41 L645.3 528.42 L645.8 528.43 L646.3 528.44 L646.8 528.45 L647.3 528.46 L647.8 528.47 L648.3 528.48 L648.8 528.49 L649.3 528.49 L649.8 528.50 L650.3 528.51 L650.8 528.52 L651.3 528.52 L651.8 528.53 L652.3 528.53 L652.8 528.54 L653.3 528.54 L653.8 528.55 L654.3 528.55 L654.8 528.56 L655.3 528.56 L655.8 528.56 L656.3 528.56 L656.8 528.57 L657.3 528.57 L657.8 528.57 L658.3 528.57 L658.8 528.57 L659.3 528.57 L659.8 528.57 L660.3 528.56 L660.8 528.56 L661.3 528.56 L661.8 528.56 L662.3 528.55 L662.8 528.55 L663.3 528.54 L663.8 528.54 L664.3 528.53 L664.8 528.53 L665.3 528.52 L665.8 528.51 L666.3 528.50 L666.8 528.50 L667.3 528.49 L667.8 528.48 L668.3 528.47 L668.8 528.45 L669.3 528.44 L669.8 528.43 L670.3 528.42 L670.8 528.40 L671.3 528.39 L671.8 528.38 L672.3 528.36 L672.8 528.34 L673.3 528.33 L673.8 528.31 L674.3 528.29 L674.8 528.27 L675.3 528.25 L675.8 528.23 L676.3 528.21 L676.6 528.20" fill="none" stroke="#0c0cf6" stroke-width="1.1" stroke-linejoin="round"/>
<path d="M372.3 519.30 L372.8 519.30 L373.3 519.30 L373.8 519.30 L374.3 519.30 L374.8 519.30 L375.3 519.30 L375.8 519.29 L376.3 519.29 L376.8 519.29 L377.3 519.29 L377.8 519.29 L378.3 519.29 L378.8 519.29 L379.3 519.29 L379.8 519.29 L380.3 519.29 L380.8 519.29 L381.3 519.29 L381.8 519.28 L382.3 519.28 L382.8 519.28 L383.3 519.28 L383.8 519.28 L384.3 519.28 L384.8 519.28 L385.3 519.28 L385.8 519.28 L386.3 519.28 L386.8 519.27 L387.3 519.27 L387.8 519.27 L388.3 519.27 L388.8 519.27 L389.3 519.27 L389.8 519.27 L390.3 519.27 L390.8 519.27 L391.3 519.26 L391.8 519.26 L392.3 519.26 L392.8 519.26 L393.3 519.26 L393.8 519.26 L394.3 519.26 L394.8 519.26 L395.3 519.26 L395.8 519.25 L396.3 519.25 L396.8 519.25 L397.3 519.25 L397.8 519.25 L398.3 519.25 L398.8 519.25 L399.3 519.25 L399.8 519.24 L400.3 519.24 L400.8 519.24 L401.3 519.24 L401.8 519.24 L402.3 519.24 L402.8 519.24 L403.3 519.24 L403.8 519.23 L404.3 519.23 L404.8 519.23 L405.3 519.23 L405.8 519.23 L406.3 519.23 L406.8 519.23 L407.3 519.22 L407.8 519.22 L408.3 519.22 L408.8 519.22 L409.3 519.22 L409.8 519.22 L410.3 519.22 L410.8 519.21 L411.3 519.21 L411.8 519.21 L412.3 519.21 L412.8 519.21 L413.3 519.21 L413.8 519.21 L414.3 519.20 L414.8 519.20 L415.3 519.20 L415.8 519.20 L416.3 519.20 L416.8 519.20 L417.3 519.20 L417.8 519.19 L418.3 519.19 L418.8 519.19 L419.3 519.19 L419.8 519.19 L420.3 519.19 L420.8 519.19 L421.3 519.18 L421.8 519.18 L422.3 519.18 L422.8 519.18 L423.3 519.18 L423.8 519.18 L424.3 519.18 L424.8 519.17 L425.3 519.17 L425.8 519.17 L426.3 519.17 L426.8 519.17 L427.3 519.17 L427.8 519.16 L428.3 519.16 L428.8 519.16 L429.3 519.16 L429.8 519.16 L430.3 519.16 L430.8 519.16 L431.3 519.15 L431.8 519.15 L432.3 519.15 L432.8 519.15 L433.3 519.15 L433.8 519.15 L434.3 519.15 L434.8 519.14 L435.3 519.14 L435.8 519.14 L436.3 519.14 L436.8 519.14 L437.3 519.14 L437.8 519.13 L438.3 519.13 L438.8 519.13 L439.3 519.13 L439.8 519.13 L440.3 519.13 L440.8 519.13 L441.3 519.12 L441.8 519.12 L442.3 519.12 L442.8 519.12 L443.3 519.12 L443.8 519.12 L444.3 519.12 L444.8 519.11 L445.3 519.11 L445.8 519.11 L446.3 519.11 L446.8 519.11 L447.3 519.11 L447.8 519.11 L448.3 519.10 L448.8 519.10 L449.3 519.10 L449.8 519.10 L450.3 519.10 L450.8 519.10 L451.3 519.10 L451.8 519.09 L452.3 519.09 L452.8 519.09 L453.3 519.09 L453.8 519.09 L454.3 519.09 L454.8 519.08 L455.3 519.08 L455.8 519.08 L456.3 519.08 L456.8 519.08 L457.3 519.07 L457.8 519.07 L458.3 519.07 L458.8 519.07 L459.3 519.06 L459.8 519.06 L460.3 519.06 L460.8 519.06 L461.3 519.05 L461.8 519.05 L462.3 519.05 L462.8 519.05 L463.3 519.04 L463.8 519.04 L464.3 519.04 L464.8 519.04 L465.3 519.03 L465.8 519.03 L466.3 519.03 L466.8 519.03 L467.3 519.02 L467.8 519.02 L468.3 519.02 L468.8 519.01 L469.3 519.01 L469.8 519.01 L470.3 519.01 L470.8 519.00 L471.3 519.00 L471.8 519.00 L472.3 518.99 L472.8 518.99 L473.3 518.99 L473.8 518.99 L474.3 518.98 L474.8 518.98 L475.3 518.98 L475.8 518.97 L476.3 518.97 L476.8 518.97 L477.3 518.96 L477.8 518.96 L478.3 518.96 L478.8 518.96 L479.3 518.95 L479.8 518.95 L480.3 518.95 L480.8 518.95 L481.3 518.94 L481.8 518.94 L482.3 518.94 L482.8 518.93 L483.3 518.93 L483.8 518.93 L484.3 518.93 L484.8 518.92 L485.3 518.92 L485.8 518.92 L486.3 518.92 L486.8 518.91 L487.3 518.91 L487.8 518.91 L488.3 518.91 L488.8 518.91 L489.3 518.90 L489.8 518.90 L490.3 518.90 L490.8 518.90 L491.3 518.90 L491.8 518.89 L492.3 518.89 L492.8 518.89 L493.3 518.89 L493.8 518.89 L494.3 518.89 L494.8 518.90 L495.3 518.90 L495.8 518.90 L496.3 518.90 L496.8 518.90 L497.3 518.91 L497.8 518.91 L498.3 518.91 L498.8 518.92 L499.3 518.92 L499.8 518.93 L500.3 518.93 L500.8 518.94 L501.3 518.94 L501.8 518.95 L502.3 518.96 L502.8 518.96 L503.3 518.97 L503.8 518.98 L504.3 518.99 L504.8 519.00 L505.3 519.01 L505.8 519.02 L506.3 519.03 L506.8 519.04 L507.3 519.05 L507.8 519.06 L508.3 519.07 L508.8 519.08 L509.3 519.10 L509.8 519.11 L510.3 519.12 L510.8 519.14 L511.3 519.15 L511.8 519.17 L512.3 519.18 L512.8 519.20 L513.3 519.22 L513.8 519.24 L514.3 519.25 L514.8 519.27 L515.3 519.29 L515.8 519.31 L516.3 519.33 L516.8 519.35 L517.3 519.37 L517.8 519.39 L518.3 519.41 L518.8 519.44 L519.3 519.46 L519.8 519.48 L520.3 519.51 L520.8 519.53 L521.3 519.56 L521.8 519.58 L522.3 519.61 L522.8 519.63 L523.3 519.66 L523.8 519.69 L524.3 519.72 L524.8 519.75 L525.3 519.78 L525.8 519.81 L526.3 519.84 L526.8 519.87 L527.3 519.90 L527.8 519.94 L528.3 519.98 L528.8 520.03 L529.3 520.08 L529.8 520.14 L530.3 520.21 L530.8 520.27 L531.3 520.34 L531.8 520.41 L532.3 520.48 L532.8 520.55 L533.3 520.62 L533.8 520.69 L534.3 520.76 L534.8 520.82 L535.3 520.88 L535.8 520.94 L536.3 520.99 L536.8 521.04 L537.3 521.08 L537.8 521.12 L538.3 521.16 L538.8 521.19 L539.3 521.23 L539.8 521.26 L540.3 521.30 L540.8 521.33 L541.3 521.36 L541.8 521.39 L542.3 521.43 L542.8 521.46 L543.3 521.49 L543.8 521.53 L544.3 521.56 L544.8 521.60 L545.3 521.64 L545.8 521.68 L546.3 521.73 L546.8 521.77 L547.3 521.82 L547.8 521.87 L548.3 521.92 L548.8 521.97 L549.3 522.03 L549.8 522.08 L550.3 522.14 L550.8 522.20 L551.3 522.26 L551.8 522.33 L552.3 522.39 L552.8 522.46 L553.3 522.53 L553.8 522.60 L554.3 522.67 L554.8 522.74 L555.3 522.82 L555.8 522.89 L556.3 522.97 L556.8 523.05 L557.3 523.13 L557.8 523.22 L558.3 523.30 L558.8 523.39 L559.3 523.47 L559.8 523.56 L560.3 523.66 L560.8 523.78 L561.3 523.91 L561.8 524.07 L562.3 524.23 L562.8 524.41 L563.3 524.59 L563.8 524.76 L564.3 524.94 L564.8 525.11 L565.3 525.26 L565.8 525.40 L566.3 525.52 L566.8 525.62 L567.3 525.70 L567.8 525.79 L568.3 525.87 L568.8 525.96 L569.3 526.04 L569.8 526.12 L570.3 526.19 L570.8 526.27 L571.3 526.34 L571.8 526.42 L572.3 526.49 L572.8 526.56 L573.3 526.62 L573.8 526.69 L574.3 526.76 L574.8 526.82 L575.3 526.88 L575.8 526.94 L576.3 527.00 L576.8 527.06 L577.3 527.12 L577.8 527.17 L578.3 527.23 L578.8 527.28 L579.3 527.33 L579.8 527.38 L580.3 527.43 L580.8 527.48 L581.3 527.53 L581.8 527.57 L582.3 527.62 L582.8 527.67 L583.3 527.71 L583.8 527.76 L584.3 527.80 L584.8 527.85 L585.3 527.89 L585.8 527.93 L586.3 527.97 L586.8 528.01 L587.3 528.04 L587.8 528.07 L588.3 528.11 L588.8 528.14 L589.3 528.16 L589.8 528.19 L590.3 528.21 L590.8 528.24 L591.3 528.26 L591.8 528.28 L592.3 528.31 L592.8 528.33 L593.3 528.35 L593.8 528.37 L594.3 528.39 L594.8 528.41 L595.3 528.43 L595.8 528.45 L596.3 528.47 L596.8 528.49 L597.3 528.51 L597.8 528.53 L598.3 528.55 L598.8 528.57 L599.3 528.59 L599.8 528.60 L600.3 528.62 L600.8 528.64 L601.3 528.66 L601.8 528.67 L602.3 528.69 L602.8 528.70 L603.3 528.72 L603.8 528.74 L604.3 528.75 L604.8 528.76 L605.3 528.78 L605.8 528.79 L606.3 528.81 L606.8 528.82 L607.3 528.83 L607.8 528.85 L608.3 528.86 L608.8 528.87 L609.3 528.88 L609.8 528.90 L610.3 528.91 L610.8 528.92 L611.3 528.93 L611.8 528.94 L612.3 528.95 L612.8 528.96 L613.3 528.97 L613.8 528.98 L614.3 528.99 L614.8 529.00 L615.3 529.01 L615.8 529.02 L616.3 529.03 L616.8 529.03 L617.3 529.04 L617.8 529.05 L618.3 529.06 L618.8 529.06 L619.3 529.07 L619.8 529.08 L620.3 529.08 L620.8 529.09 L621.3 529.09 L621.8 529.10 L622.3 529.10 L622.8 529.11 L623.3 529.11 L623.8 529.12 L624.3 529.12 L624.8 529.12 L625.3 529.13 L625.8 529.13 L626.3 529.13 L626.8 529.14 L627.3 529.14 L627.8 529.14 L628.3 529.14 L628.8 529.14 L629.3 529.14 L629.8 529.15 L630.3 529.15 L630.8 529.15 L631.3 529.15 L631.8 529.15 L632.3 529.15 L632.8 529.15 L633.3 529.14 L633.8 529.14 L634.3 529.14 L634.8 529.14 L635.3 529.14 L635.8 529.14 L636.3 529.13 L636.8 529.13 L637.3 529.13 L637.8 529.13 L638.3 529.12 L638.8 529.12 L639.3 529.12 L639.8 529.11 L640.3 529.11 L640.8 529.10 L641.3 529.10 L641.8 529.09 L642.3 529.09 L642.8 529.08 L643.3 529.08 L643.8 529.07 L644.3 529.07 L644.8 529.06 L645.3 529.05 L645.8 529.05 L646.3 529.04 L646.8 529.03 L647.3 529.02 L647.8 529.02 L648.3 529.01 L648.8 529.00 L649.3 528.99 L649.8 528.98 L650.3 528.97 L650.8 528.96 L651.3 528.95 L651.8 528.94 L652.3 528.94 L652.8 528.92 L653.3 528.91 L653.8 528.90 L654.3 528.89 L654.8 528.88 L655.3 528.87 L655.8 528.86 L656.3 528.85 L656.8 528.84 L657.3 528.82 L657.8 528.81 L658.3 528.80 L658.8 528.79 L659.3 528.77 L659.8 528.76 L660.3 528.75 L660.8 528.73 L661.3 528.72 L661.8 528.71 L662.3 528.69 L662.8 528.68 L663.3 528.66 L663.8 528.65 L664.3 528.63 L664.8 528.62 L665.3 528.60 L665.8 528.59 L666.3 528.57 L666.8 528.55 L667.3 528.54 L667.8 528.52 L668.3 528.51 L668.8 528.49 L669.3 528.47 L669.8 528.45 L670.3 528.44 L670.8 528.42 L671.3 528.40 L671.8 528.38 L672.3 528.36 L672.8 528.35 L673.3 528.33 L673.8 528.31 L674.3 528.29 L674.8 528.27 L675.3 528.25 L675.8 528.23 L676.3 528.21 L676.6 528.20" fill="none" stroke="#858585" stroke-width="1.05" stroke-linejoin="round"/>
<path d="M372.3 517.22 L372.8 517.43 L373.3 517.41 L373.8 517.27 L374.3 517.55 L374.8 517.84 L375.3 517.95 L375.8 517.97 L376.3 517.84 L376.8 517.80 L377.3 518.27 L377.8 518.21 L378.3 517.67 L378.8 517.53 L379.3 517.17 L379.8 516.73 L380.3 516.88 L380.8 516.93 L381.3 516.79 L381.8 516.73 L382.3 516.86 L382.8 517.04 L383.3 516.79 L383.8 516.33 L384.3 516.16 L384.8 516.00 L385.3 516.14 L385.8 516.88 L386.3 517.58 L386.8 517.51 L387.3 516.89 L387.8 516.49 L388.3 516.65 L388.8 517.24 L389.3 517.67 L389.8 517.70 L390.3 517.76 L390.8 517.83 L391.3 517.29 L391.8 516.00 L392.3 515.59 L392.8 516.45 L393.3 517.13 L393.8 517.13 L394.3 516.81 L394.8 516.22 L395.3 516.01 L395.8 516.59 L396.3 517.35 L396.8 517.41 L397.3 516.99 L397.8 516.79 L398.3 516.68 L398.8 516.54 L399.3 516.40 L399.8 516.45 L400.3 516.52 L400.8 516.52 L401.3 516.39 L401.8 516.41 L402.3 516.66 L402.8 516.78 L403.3 516.80 L403.8 516.88 L404.3 516.95 L404.8 517.02 L405.3 517.50 L405.8 517.81 L406.3 517.89 L406.8 518.41 L407.3 518.44 L407.8 517.32 L408.3 516.03 L408.8 515.80 L409.3 516.79 L409.8 517.79 L410.3 517.85 L410.8 517.39 L411.3 516.79 L411.8 516.49 L412.3 516.44 L412.8 516.31 L413.3 516.56 L413.8 516.96 L414.3 517.07 L414.8 516.99 L415.3 516.91 L415.8 516.96 L416.3 516.54 L416.8 515.74 L417.3 515.60 L417.8 516.17 L418.3 516.85 L418.8 517.09 L419.3 517.06 L419.8 517.12 L420.3 517.28 L420.8 517.05 L421.3 516.26 L421.8 515.94 L422.3 516.38 L422.8 516.58 L423.3 516.45 L423.8 516.07 L424.3 515.58 L424.8 515.82 L425.3 516.86 L425.8 517.51 L426.3 517.40 L426.8 516.98 L427.3 516.59 L427.8 516.32 L428.3 516.19 L428.8 516.06 L429.3 516.16 L429.8 516.65 L430.3 516.67 L430.8 516.12 L431.3 516.26 L431.8 516.32 L432.3 515.98 L432.8 516.06 L433.3 516.08 L433.8 515.75 L434.3 515.48 L434.8 515.92 L435.3 517.27 L435.8 518.07 L436.3 517.54 L436.8 516.60 L437.3 516.19 L437.8 515.94 L438.3 515.59 L438.8 515.64 L439.3 515.71 L439.8 515.11 L440.3 514.44 L440.8 514.59 L441.3 515.18 L441.8 515.44 L442.3 515.74 L442.8 516.06 L443.3 515.70 L443.8 515.31 L444.3 515.73 L444.8 516.11 L445.3 515.98 L445.8 516.32 L446.3 516.28 L446.8 515.58 L447.3 515.39 L447.8 515.65 L448.3 515.44 L448.8 515.36 L449.3 515.67 L449.8 515.48 L450.3 515.05 L450.8 514.72 L451.3 514.51 L451.8 514.46 L452.3 514.56 L452.8 514.97 L453.3 515.43 L453.8 515.65 L454.3 515.72 L454.8 515.55 L455.3 514.92 L455.8 514.29 L456.3 513.84 L456.8 513.21 L457.3 513.11 L457.8 513.27 L458.3 513.36 L458.8 513.56 L459.3 513.00 L459.8 512.39 L460.3 512.44 L460.8 512.77 L461.3 513.15 L461.8 513.52 L462.3 513.71 L462.8 513.44 L463.3 513.01 L463.8 512.76 L464.3 512.66 L464.8 512.19 L465.3 512.08 L465.8 512.48 L466.3 512.15 L466.8 511.73 L467.3 511.93 L467.8 512.10 L468.3 511.84 L468.8 512.15 L469.3 513.00 L469.8 513.30 L470.3 512.68 L470.8 512.13 L471.3 512.28 L471.8 512.72 L472.3 512.43 L472.8 511.95 L473.3 511.62 L473.8 511.29 L474.3 511.16 L474.8 511.39 L475.3 511.86 L475.8 511.79 L476.3 511.64 L476.8 511.57 L477.3 511.47 L477.8 511.92 L478.3 511.92 L478.8 511.27 L479.3 511.04 L479.8 511.05 L480.3 510.96 L480.8 510.49 L481.3 510.11 L481.8 510.17 L482.3 510.18 L482.8 510.32 L483.3 510.65 L483.8 510.57 L484.3 509.77 L484.8 509.01 L485.3 509.00 L485.8 509.15 L486.3 509.18 L486.8 509.13 L487.3 509.13 L487.8 508.75 L488.3 508.09 L488.8 507.37 L489.3 506.87 L489.8 507.01 L490.3 506.88 L490.8 506.53 L491.3 506.67 L491.8 506.77 L492.3 506.58 L492.8 506.43 L493.3 506.49 L493.8 506.32 L494.3 505.77 L494.8 505.18 L495.3 504.73 L495.8 504.62 L496.3 504.55 L496.8 503.99 L497.3 503.65 L497.8 504.10 L498.3 504.41 L498.8 504.17 L499.3 503.93 L499.8 503.37 L500.3 502.68 L500.8 502.48 L501.3 502.27 L501.8 501.49 L502.3 500.73 L502.8 501.04 L503.3 501.11 L503.8 500.63 L504.3 500.41 L504.8 500.06 L505.3 499.83 L505.8 499.87 L506.3 499.61 L506.8 498.95 L507.3 498.35 L507.8 497.70 L508.3 497.30 L508.8 497.38 L509.3 497.01 L509.8 496.39 L510.3 495.94 L510.8 495.24 L511.3 494.56 L511.8 494.28 L512.3 493.94 L512.8 493.69 L513.3 493.57 L513.8 493.41 L514.3 492.91 L514.8 491.77 L515.3 490.56 L515.8 489.74 L516.3 489.50 L516.8 489.52 L517.3 488.97 L517.8 488.01 L518.3 487.46 L518.8 487.52 L519.3 487.44 L519.8 486.64 L520.3 485.73 L520.8 485.05 L521.3 485.08 L521.8 485.07 L522.3 484.37 L522.8 483.57 L523.3 482.58 L523.8 481.91 L524.3 481.43 L524.8 481.10 L525.3 480.88 L525.8 480.57 L526.3 479.88 L526.8 478.93 L527.3 478.09 L527.8 477.35 L528.3 476.39 L528.8 475.58 L529.3 475.32 L529.8 475.55 L530.3 475.42 L530.8 474.49 L531.3 473.25 L531.8 471.62 L532.3 470.55 L532.8 470.14 L533.3 469.58 L533.8 468.76 L534.3 467.49 L534.8 465.64 L535.3 463.83 L535.8 462.42 L536.3 460.97 L536.8 459.48 L537.3 457.97 L537.8 456.43 L538.3 454.88 L538.8 453.31 L539.3 451.68 L539.8 449.98 L540.3 448.13 L540.8 446.02 L541.3 443.70 L541.8 441.24 L542.3 438.73 L542.8 436.19 L543.3 433.56 L543.8 430.79 L544.3 427.81 L544.8 424.63 L545.3 421.32 L545.8 417.98 L546.3 414.65 L546.8 411.43 L547.3 408.33 L547.8 405.29 L548.3 402.27 L548.8 399.23 L549.3 396.13 L549.8 392.94 L550.3 389.68 L550.8 386.38 L551.3 383.07 L551.8 379.80 L552.3 376.58 L552.8 373.43 L553.3 370.34 L553.8 367.32 L554.3 364.36 L554.8 361.52 L555.3 358.95 L555.8 356.62 L556.3 354.47 L556.8 352.46 L557.3 350.54 L557.8 348.75 L558.3 347.08 L558.8 345.54 L559.3 344.11 L559.8 342.79 L560.3 341.57 L560.8 340.44 L561.3 339.43 L561.8 338.56 L562.3 337.81 L562.8 337.19 L563.3 336.70 L563.8 336.33 L564.3 336.10 L564.8 336.00 L565.3 336.12 L565.8 336.40 L566.3 336.83 L566.8 337.42 L567.3 338.16 L567.8 339.04 L568.3 340.07 L568.8 341.24 L569.3 342.55 L569.8 344.01 L570.3 345.61 L570.8 347.41 L571.3 349.48 L571.8 351.83 L572.3 354.29 L572.8 356.85 L573.3 359.51 L573.8 362.28 L574.3 365.17 L574.8 368.14 L575.3 371.19 L575.8 374.29 L576.3 377.42 L576.8 380.57 L577.3 383.87 L577.8 387.35 L578.3 391.01 L578.8 394.83 L579.3 398.86 L579.8 404.49 L580.3 411.42 L580.8 418.37 L581.3 424.11 L581.8 428.30 L582.3 432.26 L582.8 436.03 L583.3 439.57 L583.8 442.86 L584.3 445.88 L584.8 448.64 L585.3 451.36 L585.8 454.06 L586.3 456.76 L586.8 459.46 L587.3 462.19 L587.8 464.96 L588.3 467.76 L588.8 470.59 L589.3 473.43 L589.8 476.27 L590.3 479.10 L590.8 481.89 L591.3 484.63 L591.8 487.21 L592.3 489.64 L592.8 491.93 L593.3 494.08 L593.8 496.09 L594.3 497.98 L594.8 499.74 L595.3 501.40 L595.8 502.94 L596.3 504.38 L596.8 505.72 L597.3 506.96 L597.8 508.11 L598.3 509.77 L598.8 510.74 L599.3 511.41 L599.8 511.97 L600.3 512.27 L600.8 513.11 L601.3 514.59 L601.8 515.06 L602.3 514.82 L602.8 515.37 L603.3 516.59 L603.8 517.93 L604.3 518.82 L604.8 519.00 L605.3 519.11 L605.8 519.52 L606.3 519.88 L606.8 520.09 L607.3 520.16 L607.8 520.66 L608.3 521.51 L608.8 521.84 L609.3 521.86 L609.8 521.88 L610.3 522.12 L610.8 522.75 L611.3 523.63 L611.8 524.21 L612.3 524.28 L612.8 524.70 L613.3 525.58 L613.8 525.73 L614.3 525.30 L614.8 524.90 L615.3 524.93 L615.8 524.93 L616.3 524.64 L616.8 525.08 L617.3 526.28 L617.8 527.03 L618.3 526.46 L618.8 525.56 L619.3 525.55 L619.8 526.02 L620.3 526.14 L620.8 526.57 L621.3 527.16 L621.8 526.90 L622.3 526.43 L622.8 526.64 L623.3 527.37 L623.8 527.39 L624.3 526.57 L624.8 526.20 L625.3 526.85 L625.8 527.51 L626.3 527.27 L626.8 526.86 L627.3 527.15 L627.8 527.49 L628.3 527.40 L628.8 527.26 L629.3 527.07 L629.8 526.74 L630.3 526.36 L630.8 526.01 L631.3 525.89 L631.8 526.26 L632.3 527.09 L632.8 527.58 L633.3 527.62 L633.8 527.55 L634.3 527.31 L634.8 527.10 L635.3 527.15 L635.8 527.07 L636.3 526.64 L636.8 526.30 L637.3 526.70 L637.8 527.21 L638.3 527.04 L638.8 526.55 L639.3 526.41 L639.8 527.05 L640.3 527.75 L640.8 527.84 L641.3 527.85 L641.8 527.85 L642.3 527.85 L642.8 527.75 L643.3 527.90 L643.8 528.09 L644.3 527.82 L644.8 527.29 L645.3 527.06 L645.8 527.09 L646.3 527.28 L646.8 527.44 L647.3 527.61 L647.8 527.59 L648.3 527.18 L648.8 526.99 L649.3 527.13 L649.8 527.28 L650.3 527.42 L650.8 527.61 L651.3 527.91 L651.8 528.43 L652.3 528.53 L652.8 528.18 L653.3 527.64 L653.8 527.65 L654.3 528.29 L654.8 528.81 L655.3 528.80 L655.8 528.61 L656.3 528.38 L656.8 528.20 L657.3 527.41 L657.8 526.54 L658.3 526.60 L658.8 527.35 L659.3 527.84 L659.8 528.02 L660.3 528.20 L660.8 528.59 L661.3 528.76 L661.8 528.37 L662.3 527.91 L662.8 527.37 L663.3 527.10 L663.8 527.70 L664.3 528.35 L664.8 528.62 L665.3 529.02 L665.8 528.95 L666.3 528.69 L666.8 528.54 L667.3 528.31 L667.8 528.33 L668.3 528.33 L668.8 527.85 L669.3 527.43 L669.8 527.52 L670.3 528.50 L670.8 529.45 L671.3 528.86 L671.8 527.50 L672.3 527.08 L672.8 527.71 L673.3 528.08 L673.8 528.13 L674.3 528.41 L674.8 528.52 L675.3 528.53 L675.8 528.57 L676.3 528.33 L676.6 527.82" fill="none" stroke="#1a1a1a" stroke-width="1.15" stroke-linejoin="round"/>
<path d="M372.3 517.80 L372.8 517.80 L373.3 517.80 L373.8 517.80 L374.3 517.80 L374.8 517.80 L375.3 517.80 L375.8 517.79 L376.3 517.79 L376.8 517.79 L377.3 517.79 L377.8 517.79 L378.3 517.78 L378.8 517.78 L379.3 517.78 L379.8 517.78 L380.3 517.77 L380.8 517.77 L381.3 517.77 L381.8 517.76 L382.3 517.76 L382.8 517.76 L383.3 517.75 L383.8 517.75 L384.3 517.74 L384.8 517.74 L385.3 517.73 L385.8 517.73 L386.3 517.72 L386.8 517.72 L387.3 517.71 L387.8 517.71 L388.3 517.70 L388.8 517.70 L389.3 517.69 L389.8 517.69 L390.3 517.68 L390.8 517.67 L391.3 517.67 L391.8 517.66 L392.3 517.65 L392.8 517.65 L393.3 517.64 L393.8 517.64 L394.3 517.63 L394.8 517.62 L395.3 517.61 L395.8 517.61 L396.3 517.60 L396.8 517.59 L397.3 517.59 L397.8 517.58 L398.3 517.57 L398.8 517.56 L399.3 517.56 L399.8 517.55 L400.3 517.54 L400.8 517.53 L401.3 517.53 L401.8 517.52 L402.3 517.51 L402.8 517.50 L403.3 517.50 L403.8 517.49 L404.3 517.48 L404.8 517.47 L405.3 517.46 L405.8 517.46 L406.3 517.45 L406.8 517.44 L407.3 517.43 L407.8 517.43 L408.3 517.42 L408.8 517.41 L409.3 517.40 L409.8 517.39 L410.3 517.39 L410.8 517.38 L411.3 517.37 L411.8 517.36 L412.3 517.35 L412.8 517.34 L413.3 517.34 L413.8 517.33 L414.3 517.32 L414.8 517.31 L415.3 517.30 L415.8 517.29 L416.3 517.28 L416.8 517.27 L417.3 517.26 L417.8 517.25 L418.3 517.24 L418.8 517.23 L419.3 517.22 L419.8 517.21 L420.3 517.20 L420.8 517.18 L421.3 517.17 L421.8 517.16 L422.3 517.15 L422.8 517.13 L423.3 517.12 L423.8 517.10 L424.3 517.09 L424.8 517.07 L425.3 517.06 L425.8 517.04 L426.3 517.02 L426.8 517.01 L427.3 516.99 L427.8 516.97 L428.3 516.95 L428.8 516.93 L429.3 516.91 L429.8 516.89 L430.3 516.87 L430.8 516.85 L431.3 516.83 L431.8 516.81 L432.3 516.78 L432.8 516.76 L433.3 516.73 L433.8 516.71 L434.3 516.68 L434.8 516.65 L435.3 516.63 L435.8 516.60 L436.3 516.57 L436.8 516.54 L437.3 516.51 L437.8 516.47 L438.3 516.44 L438.8 516.41 L439.3 516.37 L439.8 516.33 L440.3 516.29 L440.8 516.25 L441.3 516.21 L441.8 516.16 L442.3 516.12 L442.8 516.07 L443.3 516.03 L443.8 515.98 L444.3 515.93 L444.8 515.88 L445.3 515.83 L445.8 515.77 L446.3 515.72 L446.8 515.67 L447.3 515.61 L447.8 515.56 L448.3 515.50 L448.8 515.45 L449.3 515.39 L449.8 515.33 L450.3 515.28 L450.8 515.22 L451.3 515.16 L451.8 515.10 L452.3 515.04 L452.8 514.98 L453.3 514.93 L453.8 514.87 L454.3 514.81 L454.8 514.75 L455.3 514.69 L455.8 514.63 L456.3 514.58 L456.8 514.52 L457.3 514.46 L457.8 514.40 L458.3 514.34 L458.8 514.28 L459.3 514.22 L459.8 514.16 L460.3 514.10 L460.8 514.04 L461.3 513.98 L461.8 513.92 L462.3 513.86 L462.8 513.79 L463.3 513.73 L463.8 513.67 L464.3 513.61 L464.8 513.54 L465.3 513.48 L465.8 513.41 L466.3 513.35 L466.8 513.28 L467.3 513.22 L467.8 513.15 L468.3 513.09 L468.8 513.02 L469.3 512.95 L469.8 512.89 L470.3 512.82 L470.8 512.75 L471.3 512.68 L471.8 512.62 L472.3 512.55 L472.8 512.48 L473.3 512.41 L473.8 512.34 L474.3 512.27 L474.8 512.20 L475.3 512.13 L475.8 512.05 L476.3 511.96 L476.8 511.88 L477.3 511.78 L477.8 511.68 L478.3 511.58 L478.8 511.47 L479.3 511.36 L479.8 511.25 L480.3 511.13 L480.8 511.00 L481.3 510.88 L481.8 510.74 L482.3 510.60 L482.8 510.46 L483.3 510.31 L483.8 510.15 L484.3 509.98 L484.8 509.81 L485.3 509.63 L485.8 509.44 L486.3 509.24 L486.8 509.04 L487.3 508.85 L487.8 508.65 L488.3 508.44 L488.8 508.24 L489.3 508.04 L489.8 507.84 L490.3 507.64 L490.8 507.44 L491.3 507.24 L491.8 507.04 L492.3 506.84 L492.8 506.65 L493.3 506.45 L493.8 506.26 L494.3 506.06 L494.8 505.87 L495.3 505.68 L495.8 505.48 L496.3 505.29 L496.8 505.10 L497.3 504.90 L497.8 504.70 L498.3 504.49 L498.8 504.26 L499.3 504.01 L499.8 503.75 L500.3 503.46 L500.8 503.16 L501.3 502.85 L501.8 502.52 L502.3 502.18 L502.8 501.83 L503.3 501.47 L503.8 501.10 L504.3 500.72 L504.8 500.34 L505.3 499.95 L505.8 499.56 L506.3 499.17 L506.8 498.77 L507.3 498.36 L507.8 497.94 L508.3 497.52 L508.8 497.09 L509.3 496.66 L509.8 496.21 L510.3 495.76 L510.8 495.31 L511.3 494.86 L511.8 494.41 L512.3 493.97 L512.8 493.52 L513.3 493.07 L513.8 492.62 L514.3 492.17 L514.8 491.72 L515.3 491.27 L515.8 490.82 L516.3 490.37 L516.8 489.92 L517.3 489.47 L517.8 489.02 L518.3 488.57 L518.8 488.12 L519.3 487.67 L519.8 487.22 L520.3 486.77 L520.8 486.32 L521.3 485.87 L521.8 485.42 L522.3 484.93 L522.8 484.40 L523.3 483.84 L523.8 483.25 L524.3 482.64 L524.8 482.01 L525.3 481.36 L525.8 480.71 L526.3 480.06 L526.8 479.40 L527.3 478.76 L527.8 478.12 L528.3 477.46 L528.8 476.79 L529.3 476.10 L529.8 475.38 L530.3 474.64 L530.8 473.88 L531.3 473.08 L531.8 472.26 L532.3 471.40 L532.8 470.47 L533.3 469.44 L533.8 468.32 L534.3 467.12 L534.8 465.84 L535.3 464.50 L535.8 463.10 L536.3 461.65 L536.8 460.17 L537.3 458.66 L537.8 457.13 L538.3 455.59 L538.8 454.02 L539.3 452.40 L539.8 450.71 L540.3 448.87 L540.8 446.76 L541.3 444.45 L541.8 442.00 L542.3 439.50 L542.8 436.96 L543.3 434.34 L543.8 431.57 L544.3 428.60 L544.8 425.42 L545.3 422.12 L545.8 418.78 L546.3 415.45 L546.8 412.23 L547.3 409.13 L547.8 406.09 L548.3 403.07 L548.8 400.03 L549.3 396.93 L549.8 393.74 L550.3 390.48 L550.8 387.18 L551.3 383.87 L551.8 380.60 L552.3 377.38 L552.8 374.23 L553.3 371.14 L553.8 368.12 L554.3 365.16 L554.8 362.32 L555.3 359.75 L555.8 357.42 L556.3 355.27 L556.8 353.26 L557.3 351.34 L557.8 349.55 L558.3 347.88 L558.8 346.34 L559.3 344.91 L559.8 343.59 L560.3 342.37 L560.8 341.24 L561.3 340.23 L561.8 339.36 L562.3 338.61 L562.8 337.99 L563.3 337.50 L563.8 337.13 L564.3 336.90 L564.8 336.79 L565.3 336.83 L565.8 337.03 L566.3 337.39 L566.8 337.90 L567.3 338.56 L567.8 339.37 L568.3 340.33 L568.8 341.42 L569.3 342.66 L569.8 344.04 L570.3 345.61 L570.8 347.41 L571.3 349.48 L571.8 351.83 L572.3 354.29 L572.8 356.85 L573.3 359.51 L573.8 362.28 L574.3 365.17 L574.8 368.14 L575.3 371.19 L575.8 374.29 L576.3 377.42 L576.8 380.57 L577.3 383.87 L577.8 387.35 L578.3 391.01 L578.8 394.83 L579.3 398.86 L579.8 404.49 L580.3 411.42 L580.8 418.37 L581.3 424.11 L581.8 428.30 L582.3 432.26 L582.8 436.03 L583.3 439.57 L583.8 442.86 L584.3 445.88 L584.8 448.64 L585.3 451.36 L585.8 454.06 L586.3 456.76 L586.8 459.46 L587.3 462.19 L587.8 464.96 L588.3 467.76 L588.8 470.59 L589.3 473.43 L589.8 476.27 L590.3 479.10 L590.8 481.89 L591.3 484.63 L591.8 487.21 L592.3 489.64 L592.8 491.93 L593.3 494.08 L593.8 496.09 L594.3 497.98 L594.8 499.74 L595.3 501.40 L595.8 502.94 L596.3 504.38 L596.8 505.72 L597.3 506.96 L597.8 508.11 L598.3 509.17 L598.8 510.14 L599.3 511.03 L599.8 511.92 L600.3 512.78 L600.8 513.62 L601.3 514.43 L601.8 515.20 L602.3 515.93 L602.8 516.61 L603.3 517.23 L603.8 517.80 L604.3 518.29 L604.8 518.77 L605.3 519.24 L605.8 519.69 L606.3 520.13 L606.8 520.56 L607.3 520.96 L607.8 521.35 L608.3 521.72 L608.8 522.07 L609.3 522.39 L609.8 522.69 L610.3 522.96 L610.8 523.24 L611.3 523.51 L611.8 523.78 L612.3 524.05 L612.8 524.31 L613.3 524.56 L613.8 524.80 L614.3 525.04 L614.8 525.26 L615.3 525.47 L615.8 525.66 L616.3 525.83 L616.8 525.99 L617.3 526.13 L617.8 526.24 L618.3 526.34 L618.8 526.42 L619.3 526.51 L619.8 526.59 L620.3 526.67 L620.8 526.75 L621.3 526.82 L621.8 526.89 L622.3 526.96 L622.8 527.02 L623.3 527.08 L623.8 527.14 L624.3 527.20 L624.8 527.25 L625.3 527.30 L625.8 527.35 L626.3 527.39 L626.8 527.43 L627.3 527.46 L627.8 527.50 L628.3 527.53 L628.8 527.55 L629.3 527.57 L629.8 527.59 L630.3 527.61 L630.8 527.63 L631.3 527.64 L631.8 527.66 L632.3 527.67 L632.8 527.69 L633.3 527.70 L633.8 527.72 L634.3 527.73 L634.8 527.75 L635.3 527.76 L635.8 527.78 L636.3 527.80 L636.8 527.81 L637.3 527.83 L637.8 527.84 L638.3 527.86 L638.8 527.87 L639.3 527.88 L639.8 527.90 L640.3 527.91 L640.8 527.93 L641.3 527.94 L641.8 527.95 L642.3 527.97 L642.8 527.98 L643.3 527.99 L643.8 528.01 L644.3 528.02 L644.8 528.03 L645.3 528.04 L645.8 528.06 L646.3 528.07 L646.8 528.08 L647.3 528.09 L647.8 528.10 L648.3 528.11 L648.8 528.12 L649.3 528.13 L649.8 528.14 L650.3 528.15 L650.8 528.16 L651.3 528.16 L651.8 528.17 L652.3 528.18 L652.8 528.19 L653.3 528.19 L653.8 528.20 L654.3 528.21 L654.8 528.21 L655.3 528.22 L655.8 528.22 L656.3 528.23 L656.8 528.23 L657.3 528.23 L657.8 528.24 L658.3 528.24 L658.8 528.24 L659.3 528.24 L659.8 528.24 L660.3 528.24 L660.8 528.24 L661.3 528.24 L661.8 528.24 L662.3 528.24 L662.8 528.23 L663.3 528.23 L663.8 528.23 L664.3 528.22 L664.8 528.22 L665.3 528.21 L665.8 528.21 L666.3 528.20 L666.8 528.19 L667.3 528.18 L667.8 528.17 L668.3 528.16 L668.8 528.15 L669.3 528.14 L669.8 528.13 L670.3 528.12 L670.8 528.11 L671.3 528.09 L671.8 528.08 L672.3 528.06 L672.8 528.05 L673.3 528.03 L673.8 528.01 L674.3 527.99 L674.8 527.98 L675.3 527.96 L675.8 527.93 L676.3 527.91 L676.6 527.90" fill="none" stroke="#f01414" stroke-width="1.3" stroke-linejoin="round"/>
</svg>
</body></html>
